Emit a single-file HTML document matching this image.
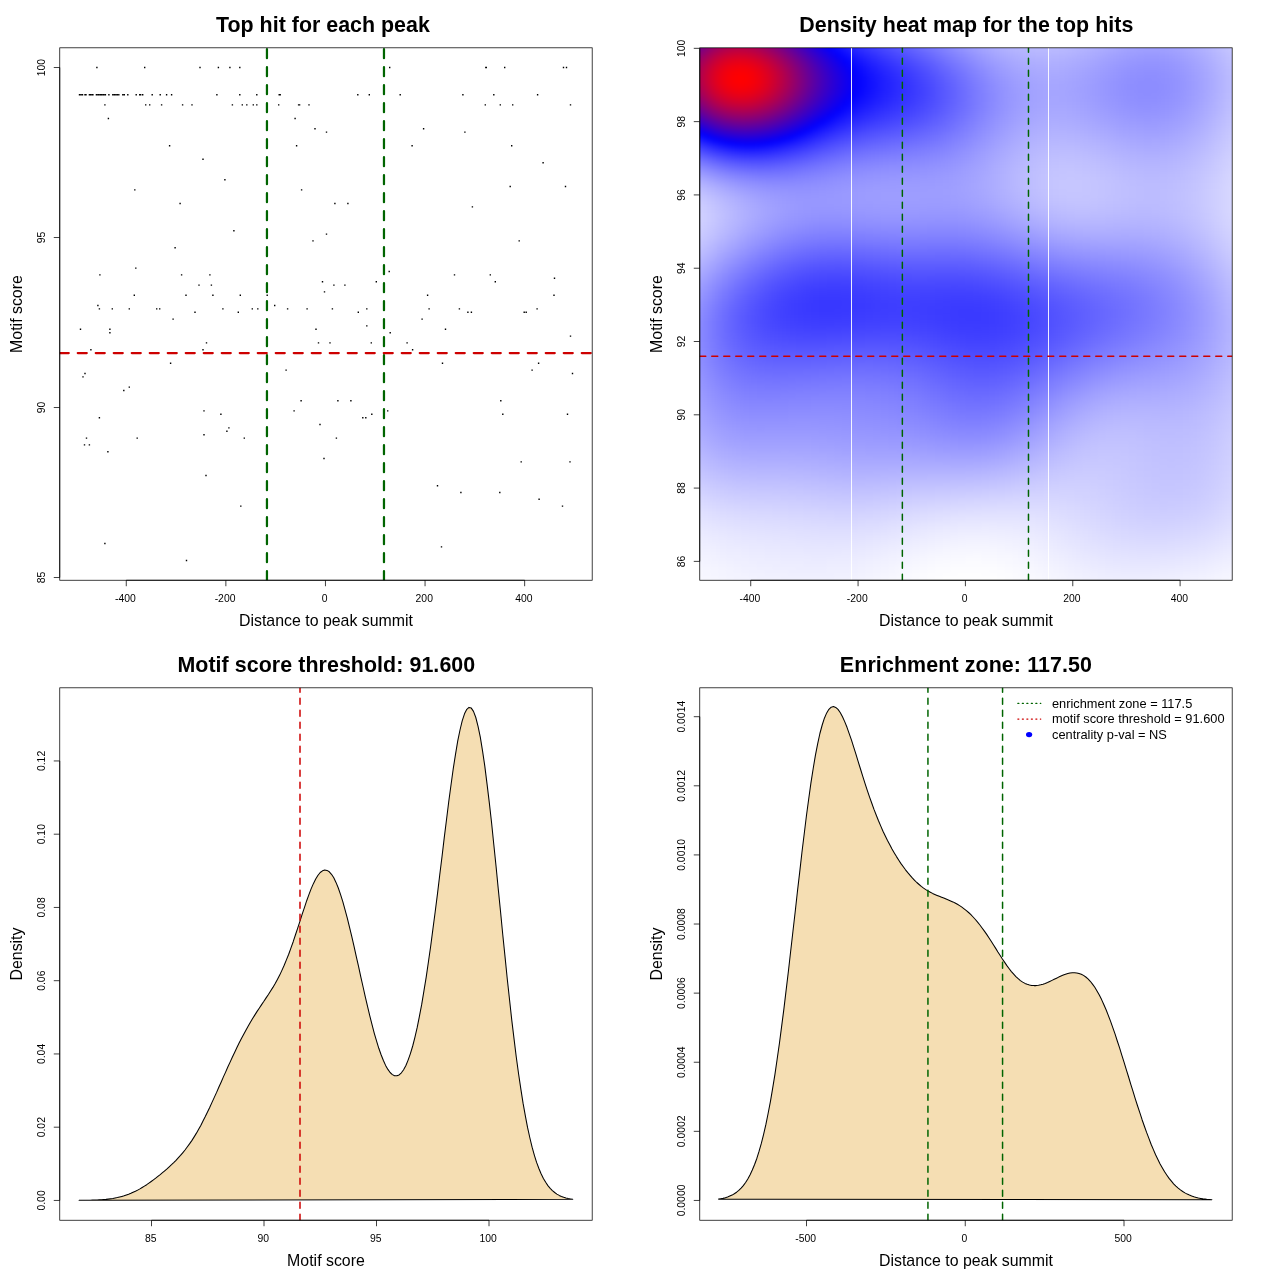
<!DOCTYPE html>
<html><head><meta charset="utf-8"><title>Motif plots</title>
<style>html,body{margin:0;padding:0;background:#fff}body{position:relative;width:1280px;height:1280px;overflow:hidden}svg{position:absolute;left:0;top:0}text{font-family:"Liberation Sans",sans-serif;fill:#000}#hm{position:absolute;overflow:hidden}#hb{position:absolute;filter:blur(2px)}#hb i{display:block;height:3px}</style>
</head><body>
<div id="hm" style="left:699.76px;top:47.81px;width:532.43px;height:532.43px"><div id="hb" style="left:-9px;top:-9px;width:550.43px"><i style="background:linear-gradient(90deg,#70008f,#70008f,#83007c,#970068,#a5005a,#af0050,#b3004c,#b2004d,#ac0053,#a2005d,#94006b,#84007b,#71008e,#5d00a2,#4900b6,#3500ca,#20d,#1000ef,#00f,#0e0eff,#1b1bff,#2727ff,#3131ff,#3a3aff,#4343ff,#4b4bff,#5252ff,#5959ff,#6161ff,#6868ff,#6f6fff,#77f,#7e7eff,#8686ff,#8d8dff,#9494ff,#9b9bff,#a1a1ff,#a6a6ff,#ababff,#b0b0ff,#b3b3ff,#b6b6ff,#b9b9ff,#babaff,#bbf,#bbf,#babaff,#b9b9ff,#b8b8ff,#b5b5ff,#b3b3ff,#b0b0ff,#adadff,#aaf,#a7a7ff,#a4a4ff,#a2a2ff,#a1a1ff,#a0a0ff,#a0a0ff,#a1a1ff,#a2a2ff,#a5a5ff,#a8a8ff,#acacff,#b1b1ff,#b6b6ff,#bcbcff,#c1c1ff,#c6c6ff,#c6c6ff)"></i>
<i style="background:linear-gradient(90deg,#70008f,#70008f,#83007c,#970068,#a5005a,#af0050,#b3004c,#b2004d,#ac0053,#a2005d,#94006b,#84007b,#71008e,#5d00a2,#4900b6,#3500ca,#20d,#1000ef,#00f,#0e0eff,#1b1bff,#2727ff,#3131ff,#3a3aff,#4343ff,#4b4bff,#5252ff,#5959ff,#6161ff,#6868ff,#6f6fff,#77f,#7e7eff,#8686ff,#8d8dff,#9494ff,#9b9bff,#a1a1ff,#a6a6ff,#ababff,#b0b0ff,#b3b3ff,#b6b6ff,#b9b9ff,#babaff,#bbf,#bbf,#babaff,#b9b9ff,#b8b8ff,#b5b5ff,#b3b3ff,#b0b0ff,#adadff,#aaf,#a7a7ff,#a4a4ff,#a2a2ff,#a1a1ff,#a0a0ff,#a0a0ff,#a1a1ff,#a2a2ff,#a5a5ff,#a8a8ff,#acacff,#b1b1ff,#b6b6ff,#bcbcff,#c1c1ff,#c6c6ff,#c6c6ff)"></i>
<i style="background:linear-gradient(90deg,#70008f,#70008f,#83007c,#970068,#a5005a,#af0050,#b3004c,#b2004d,#ac0053,#a2005d,#94006b,#84007b,#71008e,#5d00a2,#4900b6,#3500ca,#20d,#1000ef,#00f,#0e0eff,#1b1bff,#2727ff,#3131ff,#3a3aff,#4343ff,#4b4bff,#5252ff,#5959ff,#6161ff,#6868ff,#6f6fff,#77f,#7e7eff,#8686ff,#8d8dff,#9494ff,#9b9bff,#a1a1ff,#a6a6ff,#ababff,#b0b0ff,#b3b3ff,#b6b6ff,#b9b9ff,#babaff,#bbf,#bbf,#babaff,#b9b9ff,#b8b8ff,#b5b5ff,#b3b3ff,#b0b0ff,#adadff,#aaf,#a7a7ff,#a4a4ff,#a2a2ff,#a1a1ff,#a0a0ff,#a0a0ff,#a1a1ff,#a2a2ff,#a5a5ff,#a8a8ff,#acacff,#b1b1ff,#b6b6ff,#bcbcff,#c1c1ff,#c6c6ff,#c6c6ff)"></i>
<i style="background:linear-gradient(90deg,#760089,#760089,#890076,#9d0062,#ac0053,#b60049,#ba0045,#b90046,#b3004c,#a90056,#9a0065,#8a0075,#708,#63009c,#4e00b1,#3a00c5,#2700d8,#1500ea,#0400fb,#0b0bff,#1818ff,#2424ff,#2e2eff,#3737ff,#4040ff,#4848ff,#4f4fff,#5656ff,#5e5eff,#6565ff,#6d6dff,#7474ff,#7c7cff,#8383ff,#8b8bff,#9292ff,#99f,#9f9fff,#a4a4ff,#aaf,#aeaeff,#b2b2ff,#b5b5ff,#b7b7ff,#b9b9ff,#babaff,#babaff,#b9b9ff,#b8b8ff,#b6b6ff,#b4b4ff,#b2b2ff,#afafff,#acacff,#a9a9ff,#a6a6ff,#a3a3ff,#a1a1ff,#9f9fff,#9f9fff,#9f9fff,#9f9fff,#a1a1ff,#a4a4ff,#a7a7ff,#ababff,#b0b0ff,#b5b5ff,#bbf,#c1c1ff,#c6c6ff,#c6c6ff)"></i>
<i style="background:linear-gradient(90deg,#80007f,#80007f,#95006a,#a90056,#b80047,#c2003d,#c70038,#c5003a,#bf0040,#b5004a,#a60059,#95006a,#82007d,#6d0092,#5800a7,#4300bc,#2f00d0,#1d00e2,#0c00f3,#0404ff,#11f,#1d1dff,#2828ff,#3131ff,#3a3aff,#4242ff,#4949ff,#5151ff,#5858ff,#6060ff,#6767ff,#6f6fff,#77f,#7f7fff,#8686ff,#8d8dff,#9494ff,#9b9bff,#a1a1ff,#a6a6ff,#ababff,#afafff,#b2b2ff,#b4b4ff,#b6b6ff,#b7b7ff,#b7b7ff,#b7b7ff,#b6b6ff,#b4b4ff,#b2b2ff,#afafff,#acacff,#a9a9ff,#a6a6ff,#a3a3ff,#a0a0ff,#9e9eff,#9d9dff,#9c9cff,#9c9cff,#9d9dff,#9f9fff,#a1a1ff,#a5a5ff,#a9a9ff,#aeaeff,#b3b3ff,#b9b9ff,#bfbfff,#c4c4ff,#c4c4ff)"></i>
<i style="background:linear-gradient(90deg,#8a0075,#8a0075,#9f0060,#b4004b,#c3003c,#ce0031,#d2002d,#d1002e,#cb0034,#c0003f,#b1004e,#9f0060,#8b0074,#760089,#61009e,#4b00b4,#3700c8,#2400db,#1300ec,#0300fc,#0b0bff,#1717ff,#22f,#2b2bff,#3434ff,#3c3cff,#44f,#4b4bff,#5353ff,#5b5bff,#6262ff,#6a6aff,#7272ff,#7a7aff,#8282ff,#8989ff,#9090ff,#9797ff,#9d9dff,#a3a3ff,#a8a8ff,#acacff,#afafff,#b2b2ff,#b4b4ff,#b5b5ff,#b5b5ff,#b4b4ff,#b3b3ff,#b2b2ff,#afafff,#adadff,#aaf,#a7a7ff,#a3a3ff,#a0a0ff,#9e9eff,#9c9cff,#9a9aff,#99f,#99f,#9a9aff,#9c9cff,#9f9fff,#a3a3ff,#a7a7ff,#acacff,#b1b1ff,#b7b7ff,#bdbdff,#c3c3ff,#c3c3ff)"></i>
<i style="background:linear-gradient(90deg,#93006c,#93006c,#a80057,#be0041,#ce0031,#d80027,#d02,#dc0023,#d5002a,#ca0035,#b04,#a90056,#94006b,#7f0080,#690096,#5300ac,#3e00c1,#2b00d4,#1900e6,#0900f6,#0505ff,#11f,#1c1cff,#2626ff,#2f2fff,#3737ff,#3f3fff,#4646ff,#4e4eff,#5656ff,#5e5eff,#66f,#6e6eff,#7676ff,#7e7eff,#8585ff,#8d8dff,#9494ff,#9a9aff,#a0a0ff,#a5a5ff,#a9a9ff,#adadff,#afafff,#b1b1ff,#b2b2ff,#b3b3ff,#b2b2ff,#b1b1ff,#afafff,#adadff,#ababff,#a8a8ff,#a4a4ff,#a1a1ff,#9e9eff,#9c9cff,#99f,#9898ff,#9797ff,#9797ff,#9898ff,#9a9aff,#9d9dff,#a1a1ff,#a5a5ff,#aaf,#b0b0ff,#b6b6ff,#bcbcff,#c2c2ff,#c2c2ff)"></i>
<i style="background:linear-gradient(90deg,#9b0064,#9b0064,#b0004f,#c60039,#d60029,#e1001e,#e60019,#e5001a,#de0021,#d3002c,#c4003b,#b1004e,#9c0063,#860079,#70008f,#5a00a5,#4500ba,#3100ce,#1f00e0,#0f00f0,#00f,#0c0cff,#1717ff,#2121ff,#2a2aff,#3232ff,#3a3aff,#4242ff,#4949ff,#5151ff,#5959ff,#6161ff,#6969ff,#7272ff,#7a7aff,#8282ff,#8989ff,#9090ff,#9797ff,#9d9dff,#a2a2ff,#a6a6ff,#aaf,#adadff,#afafff,#b0b0ff,#b1b1ff,#b0b0ff,#afafff,#adadff,#ababff,#a8a8ff,#a5a5ff,#a2a2ff,#9f9fff,#9c9cff,#99f,#9797ff,#9696ff,#9595ff,#9595ff,#9696ff,#9898ff,#9b9bff,#9f9fff,#a3a3ff,#a9a9ff,#aeaeff,#b5b5ff,#bbf,#c1c1ff,#c1c1ff)"></i>
<i style="background:linear-gradient(90deg,#a1005e,#a1005e,#b70048,#cd0032,#de0021,#e90016,#e01,#ed0012,#e60019,#db0024,#cb0034,#b80047,#a3005c,#8d0072,#760089,#60009f,#4a00b5,#3600c9,#2400db,#1300ec,#0500fa,#0808ff,#1313ff,#1d1dff,#2626ff,#2e2eff,#3636ff,#3e3eff,#4545ff,#4d4dff,#55f,#5d5dff,#6565ff,#6e6eff,#7676ff,#7e7eff,#8686ff,#8d8dff,#9494ff,#9a9aff,#9f9fff,#a4a4ff,#a8a8ff,#ababff,#adadff,#aeaeff,#afafff,#aeaeff,#adadff,#acacff,#a9a9ff,#a7a7ff,#a4a4ff,#a0a0ff,#9d9dff,#9a9aff,#9898ff,#9595ff,#9494ff,#9393ff,#9393ff,#9494ff,#9696ff,#99f,#9d9dff,#a2a2ff,#a7a7ff,#adadff,#b3b3ff,#babaff,#c0c0ff,#c0c0ff)"></i>
<i style="background:linear-gradient(90deg,#a60059,#a60059,#bd0042,#d3002c,#e4001b,#ef0010,#f4000b,#f3000c,#ed0012,#e1001e,#d1002e,#be0041,#a90056,#92006d,#7b0084,#65009a,#4f00b0,#3a00c5,#2800d7,#1700e8,#0900f6,#0404ff,#0f0fff,#1919ff,#22f,#2a2aff,#3232ff,#3a3aff,#4242ff,#4949ff,#5151ff,#5959ff,#6262ff,#6a6aff,#7373ff,#7b7bff,#8383ff,#8a8aff,#9191ff,#9797ff,#9d9dff,#a2a2ff,#a6a6ff,#a9a9ff,#ababff,#acacff,#adadff,#adadff,#acacff,#aaf,#a8a8ff,#a5a5ff,#a2a2ff,#9f9fff,#9c9cff,#9898ff,#9696ff,#9494ff,#9292ff,#9292ff,#9292ff,#9393ff,#9595ff,#9898ff,#9c9cff,#a1a1ff,#a6a6ff,#acacff,#b2b2ff,#b9b9ff,#bfbfff,#bfbfff)"></i>
<i style="background:linear-gradient(90deg,#a05,#a05,#c1003e,#d80027,#e90016,#f4000b,#f90006,#f80007,#f2000d,#e60019,#d60029,#c3003c,#ae0051,#970068,#7f0080,#680097,#5300ac,#3e00c1,#2b00d4,#1b00e4,#0c00f3,#0101ff,#0c0cff,#1616ff,#1f1fff,#2727ff,#2f2fff,#3737ff,#3e3eff,#4646ff,#4e4eff,#5656ff,#5f5fff,#6767ff,#6f6fff,#7878ff,#8080ff,#8787ff,#8e8eff,#9595ff,#9b9bff,#9f9fff,#a4a4ff,#a7a7ff,#a9a9ff,#ababff,#ababff,#ababff,#aaf,#a8a8ff,#a6a6ff,#a3a3ff,#a0a0ff,#9d9dff,#9a9aff,#9797ff,#9494ff,#9292ff,#9191ff,#9090ff,#9090ff,#9292ff,#9494ff,#9797ff,#9b9bff,#a0a0ff,#a5a5ff,#ababff,#b2b2ff,#b8b8ff,#bebeff,#bebeff)"></i>
<i style="background:linear-gradient(90deg,#ad0052,#ad0052,#c4003b,#db0024,#ec0013,#f70008,#fc0003,#fc0003,#f5000a,#e90016,#da0025,#c60039,#b1004e,#9a0065,#82007d,#6b0094,#50a,#4100be,#2e00d1,#1d00e2,#0f00f0,#0200fd,#0a0aff,#1414ff,#1c1cff,#2525ff,#2c2cff,#3434ff,#3b3bff,#4343ff,#4b4bff,#5353ff,#5c5cff,#6464ff,#6d6dff,#7575ff,#7d7dff,#8585ff,#8c8cff,#9393ff,#99f,#9e9eff,#a2a2ff,#a5a5ff,#a8a8ff,#a9a9ff,#aaf,#aaf,#a9a9ff,#a7a7ff,#a5a5ff,#a2a2ff,#9f9fff,#9c9cff,#99f,#9696ff,#9393ff,#9191ff,#9090ff,#8f8fff,#8f8fff,#9090ff,#9393ff,#9696ff,#9a9aff,#9f9fff,#a4a4ff,#aaf,#b1b1ff,#b8b8ff,#bebeff,#bebeff)"></i>
<i style="background:linear-gradient(90deg,#ae0051,#ae0051,#c5003a,#dc0023,#e01,#f90006,#fe0001,#fe0001,#f70008,#eb0014,#dc0023,#c80037,#b3004c,#9c0063,#84007b,#6d0092,#5700a8,#4300bc,#3000cf,#1f00e0,#1000ef,#0400fb,#0808ff,#1212ff,#1a1aff,#22f,#2a2aff,#3232ff,#3939ff,#4141ff,#4949ff,#5151ff,#5959ff,#6262ff,#6a6aff,#7373ff,#7b7bff,#8383ff,#8a8aff,#9191ff,#9797ff,#9c9cff,#a0a0ff,#a4a4ff,#a6a6ff,#a8a8ff,#a9a9ff,#a8a8ff,#a8a8ff,#a6a6ff,#a4a4ff,#a1a1ff,#9e9eff,#9b9bff,#9898ff,#9595ff,#9292ff,#9090ff,#8f8fff,#8e8eff,#8e8eff,#9090ff,#9292ff,#9595ff,#99f,#9e9eff,#a4a4ff,#aaf,#b0b0ff,#b7b7ff,#bdbdff,#bdbdff)"></i>
<i style="background:linear-gradient(90deg,#af0050,#af0050,#c60039,#dc0023,#e01,#f90006,#f00,#fe0001,#f70008,#ec0013,#dc0023,#c90036,#b4004b,#9d0062,#85007a,#6e0091,#5800a7,#40b,#3100ce,#2000df,#10e,#0500fa,#0606ff,#1010ff,#1919ff,#2121ff,#2828ff,#3030ff,#3737ff,#3f3fff,#4747ff,#4f4fff,#5757ff,#6060ff,#6868ff,#7171ff,#7979ff,#8181ff,#88f,#8f8fff,#9595ff,#9a9aff,#9f9fff,#a2a2ff,#a5a5ff,#a7a7ff,#a8a8ff,#a7a7ff,#a7a7ff,#a5a5ff,#a3a3ff,#a0a0ff,#9d9dff,#9a9aff,#9797ff,#9494ff,#9191ff,#8f8fff,#8e8eff,#8d8dff,#8e8eff,#8f8fff,#9191ff,#9494ff,#99f,#9e9eff,#a3a3ff,#a9a9ff,#b0b0ff,#b7b7ff,#bdbdff,#bdbdff)"></i>
<i style="background:linear-gradient(90deg,#ad0052,#ad0052,#c4003b,#db0024,#ed0012,#f80007,#fd0002,#fd0002,#f60009,#eb0014,#db0024,#c80037,#b3004c,#9c0063,#85007a,#6e0091,#5800a7,#40b,#3100ce,#2000df,#1200ed,#0500fa,#0606ff,#1010ff,#1818ff,#2020ff,#2727ff,#2f2fff,#3636ff,#3d3dff,#4545ff,#4d4dff,#55f,#5e5eff,#66f,#6f6fff,#77f,#7f7fff,#8787ff,#8e8eff,#9494ff,#99f,#9e9eff,#a1a1ff,#a4a4ff,#a6a6ff,#a7a7ff,#a7a7ff,#a6a6ff,#a4a4ff,#a2a2ff,#a0a0ff,#9d9dff,#99f,#9696ff,#9393ff,#9191ff,#8f8fff,#8d8dff,#8d8dff,#8d8dff,#8f8fff,#9191ff,#9494ff,#9898ff,#9d9dff,#a3a3ff,#a9a9ff,#b0b0ff,#b7b7ff,#bdbdff,#bdbdff)"></i>
<i style="background:linear-gradient(90deg,#ab0054,#ab0054,#c1003e,#d80027,#ea0015,#f5000a,#fb0004,#fa0005,#f4000b,#e90016,#d90026,#c60039,#b1004e,#9b0064,#84007b,#6d0092,#5700a8,#4300bc,#3000cf,#2000df,#10e,#0500fa,#0606ff,#0f0fff,#1818ff,#2020ff,#2727ff,#2e2eff,#3535ff,#3c3cff,#44f,#4c4cff,#5454ff,#5c5cff,#6565ff,#6e6eff,#7676ff,#7e7eff,#8585ff,#8c8cff,#9393ff,#9898ff,#9d9dff,#a0a0ff,#a3a3ff,#a5a5ff,#a6a6ff,#a6a6ff,#a5a5ff,#a4a4ff,#a2a2ff,#9f9fff,#9c9cff,#99f,#9696ff,#9393ff,#9090ff,#8e8eff,#8d8dff,#8d8dff,#8d8dff,#8e8eff,#9191ff,#9494ff,#9898ff,#9d9dff,#a3a3ff,#a9a9ff,#b0b0ff,#b7b7ff,#bdbdff,#bdbdff)"></i>
<i style="background:linear-gradient(90deg,#a70058,#a70058,#bd0042,#d4002b,#e5001a,#f1000e,#f60009,#f60009,#f0000f,#e5001a,#d60029,#c3003c,#ae0051,#980067,#81007e,#6b0094,#50a,#4100be,#2f00d0,#1f00e0,#1000ef,#0400fb,#0707ff,#1010ff,#1818ff,#2020ff,#2727ff,#2e2eff,#3535ff,#3c3cff,#4343ff,#4b4bff,#5353ff,#5c5cff,#6464ff,#6d6dff,#7575ff,#7d7dff,#8585ff,#8c8cff,#9292ff,#9797ff,#9c9cff,#a0a0ff,#a3a3ff,#a5a5ff,#a6a6ff,#a6a6ff,#a5a5ff,#a4a4ff,#a1a1ff,#9f9fff,#9c9cff,#99f,#9696ff,#9393ff,#9090ff,#8e8eff,#8d8dff,#8d8dff,#8d8dff,#8e8eff,#9191ff,#9494ff,#9898ff,#9d9dff,#a3a3ff,#a9a9ff,#b0b0ff,#b7b7ff,#bdbdff,#bdbdff)"></i>
<i style="background:linear-gradient(90deg,#a2005d,#a2005d,#b80047,#cf0030,#e0001f,#eb0014,#f1000e,#f0000f,#ea0015,#e0001f,#d1002e,#be0041,#a05,#94006b,#7e0081,#670098,#5200ad,#3f00c0,#2d00d2,#1d00e2,#0f00f0,#0200fd,#0808ff,#11f,#1919ff,#2121ff,#2727ff,#2e2eff,#3535ff,#3c3cff,#4343ff,#4b4bff,#5353ff,#5b5bff,#6363ff,#6c6cff,#7474ff,#7c7cff,#8484ff,#8b8bff,#9191ff,#9797ff,#9c9cff,#9f9fff,#a2a2ff,#a4a4ff,#a5a5ff,#a5a5ff,#a5a5ff,#a3a3ff,#a1a1ff,#9f9fff,#9c9cff,#99f,#9696ff,#9393ff,#9191ff,#8f8fff,#8d8dff,#8d8dff,#8d8dff,#8f8fff,#9191ff,#9494ff,#99f,#9e9eff,#a3a3ff,#aaf,#b0b0ff,#b7b7ff,#bdbdff,#bdbdff)"></i>
<i style="background:linear-gradient(90deg,#9b0064,#9b0064,#b1004e,#c80037,#d90026,#e4001b,#ea0015,#e90016,#e4001b,#d90026,#cb0034,#b90046,#a5005a,#8f0070,#790086,#63009c,#4f00b0,#3b00c4,#2a00d5,#1a00e5,#0c00f3,#00f,#0a0aff,#1313ff,#1b1bff,#22f,#2828ff,#2f2fff,#3636ff,#3c3cff,#4343ff,#4b4bff,#5353ff,#5b5bff,#6363ff,#6c6cff,#7474ff,#7c7cff,#8383ff,#8a8aff,#9191ff,#9797ff,#9b9bff,#9f9fff,#a2a2ff,#a4a4ff,#a5a5ff,#a5a5ff,#a5a5ff,#a3a3ff,#a2a2ff,#9f9fff,#9c9cff,#99f,#9696ff,#9393ff,#9191ff,#8f8fff,#8e8eff,#8d8dff,#8e8eff,#8f8fff,#9292ff,#9595ff,#99f,#9e9eff,#a4a4ff,#aaf,#b1b1ff,#b8b8ff,#bebeff,#bebeff)"></i>
<i style="background:linear-gradient(90deg,#94006b,#94006b,#a90056,#bf0040,#d0002f,#db0024,#e1001e,#e1001e,#dc0023,#d1002e,#c3003c,#b2004d,#9e0061,#890076,#74008b,#5e00a1,#4a00b5,#3700c8,#2600d9,#1700e8,#0900f6,#0202ff,#0c0cff,#1515ff,#1d1dff,#2424ff,#2a2aff,#3030ff,#3737ff,#3d3dff,#44f,#4b4bff,#5353ff,#5b5bff,#6363ff,#6c6cff,#7474ff,#7c7cff,#8383ff,#8a8aff,#9191ff,#9696ff,#9b9bff,#9f9fff,#a2a2ff,#a4a4ff,#a5a5ff,#a6a6ff,#a5a5ff,#a4a4ff,#a2a2ff,#9f9fff,#9d9dff,#9a9aff,#9797ff,#9494ff,#9292ff,#9090ff,#8e8eff,#8e8eff,#8e8eff,#9090ff,#9292ff,#9595ff,#9a9aff,#9f9fff,#a4a4ff,#ababff,#b1b1ff,#b8b8ff,#bebeff,#bebeff)"></i>
<i style="background:linear-gradient(90deg,#8b0074,#8b0074,#a0005f,#b60049,#c70038,#d2002d,#d70028,#d70028,#d2002d,#c80037,#b04,#a05,#970068,#82007d,#6d0092,#5800a7,#4500ba,#3200cd,#2100de,#1200ed,#0500fa,#0606ff,#1010ff,#1818ff,#1f1fff,#2626ff,#2c2cff,#3232ff,#3838ff,#3f3fff,#4545ff,#4c4cff,#5454ff,#5c5cff,#6464ff,#6c6cff,#7474ff,#7c7cff,#8383ff,#8a8aff,#9191ff,#9797ff,#9b9bff,#9f9fff,#a2a2ff,#a4a4ff,#a6a6ff,#a6a6ff,#a5a5ff,#a4a4ff,#a2a2ff,#a0a0ff,#9d9dff,#9a9aff,#9797ff,#9595ff,#9292ff,#9090ff,#8f8fff,#8f8fff,#8f8fff,#9191ff,#9393ff,#9696ff,#9a9aff,#9f9fff,#a5a5ff,#ababff,#b2b2ff,#b9b9ff,#bfbfff,#bfbfff)"></i>
<i style="background:linear-gradient(90deg,#81007e,#81007e,#960069,#ac0053,#bc0043,#c70038,#c03,#cd0032,#c80037,#be0041,#b1004e,#a1005e,#8e0071,#7a0085,#609,#5200ad,#3f00c0,#2d00d2,#1c00e3,#0e00f1,#0100fe,#0a0aff,#1313ff,#1b1bff,#22f,#2929ff,#2f2fff,#3434ff,#3a3aff,#4040ff,#4747ff,#4e4eff,#55f,#5d5dff,#6464ff,#6d6dff,#7474ff,#7c7cff,#8484ff,#8b8bff,#9191ff,#9797ff,#9c9cff,#a0a0ff,#a3a3ff,#a5a5ff,#a6a6ff,#a6a6ff,#a6a6ff,#a5a5ff,#a3a3ff,#a1a1ff,#9e9eff,#9b9bff,#9898ff,#9696ff,#9393ff,#9191ff,#9090ff,#9090ff,#9090ff,#9292ff,#9494ff,#9797ff,#9b9bff,#a0a0ff,#a6a6ff,#acacff,#b3b3ff,#babaff,#bfbfff,#bfbfff)"></i>
<i style="background:linear-gradient(90deg,#708,#708,#8b0074,#a0005f,#b0004f,#b04,#c0003f,#c1003e,#bc0043,#b3004c,#a60059,#970068,#85007a,#72008d,#5e00a1,#4a00b5,#3800c7,#2600d9,#1700e8,#0900f6,#0404ff,#0e0eff,#1717ff,#1f1fff,#2626ff,#2c2cff,#3232ff,#3737ff,#3d3dff,#4343ff,#4949ff,#4f4fff,#5656ff,#5e5eff,#66f,#6d6dff,#7575ff,#7d7dff,#8484ff,#8b8bff,#9292ff,#9797ff,#9c9cff,#a0a0ff,#a3a3ff,#a5a5ff,#a7a7ff,#a7a7ff,#a7a7ff,#a6a6ff,#a4a4ff,#a2a2ff,#9f9fff,#9c9cff,#99f,#9797ff,#9494ff,#9393ff,#9191ff,#9191ff,#9292ff,#9393ff,#9595ff,#9898ff,#9c9cff,#a1a1ff,#a7a7ff,#adadff,#b3b3ff,#babaff,#c0c0ff,#c0c0ff)"></i>
<i style="background:linear-gradient(90deg,#6c0093,#6c0093,#80007f,#94006b,#a3005c,#ae0051,#b3004c,#b4004b,#b0004f,#a70058,#9b0064,#8c0073,#7b0084,#680097,#50a,#4200bd,#3000cf,#2000df,#10e,#0300fc,#0909ff,#1313ff,#1c1cff,#2323ff,#2a2aff,#3030ff,#3535ff,#3a3aff,#4040ff,#4545ff,#4b4bff,#5252ff,#5858ff,#6060ff,#6767ff,#6f6fff,#7676ff,#7e7eff,#8585ff,#8c8cff,#9292ff,#9898ff,#9d9dff,#a1a1ff,#a4a4ff,#a6a6ff,#a8a8ff,#a8a8ff,#a8a8ff,#a7a7ff,#a5a5ff,#a3a3ff,#a0a0ff,#9d9dff,#9b9bff,#9898ff,#9696ff,#9494ff,#9393ff,#9292ff,#9393ff,#9494ff,#9696ff,#9a9aff,#9e9eff,#a2a2ff,#a8a8ff,#aeaeff,#b4b4ff,#bbf,#c1c1ff,#c1c1ff)"></i>
<i style="background:linear-gradient(90deg,#60009f,#60009f,#73008c,#870078,#960069,#a0005f,#a60059,#a60059,#a2005d,#9a0065,#8f0070,#80007f,#70008f,#5e00a1,#4c00b3,#3a00c5,#2900d6,#1800e7,#0a00f5,#0303ff,#0e0eff,#1818ff,#2121ff,#2828ff,#2e2eff,#3434ff,#3939ff,#3e3eff,#4343ff,#4848ff,#4e4eff,#5454ff,#5a5aff,#6161ff,#6969ff,#7070ff,#7878ff,#7f7fff,#8686ff,#8d8dff,#9393ff,#99f,#9e9eff,#a2a2ff,#a5a5ff,#a7a7ff,#a8a8ff,#a9a9ff,#a9a9ff,#a8a8ff,#a6a6ff,#a4a4ff,#a1a1ff,#9f9fff,#9c9cff,#99f,#9797ff,#9696ff,#9494ff,#9494ff,#9494ff,#9696ff,#9898ff,#9b9bff,#9f9fff,#a4a4ff,#a9a9ff,#afafff,#b5b5ff,#bcbcff,#c2c2ff,#c2c2ff)"></i>
<i style="background:linear-gradient(90deg,#5300ac,#5300ac,#609,#790086,#870078,#92006d,#970068,#980067,#94006b,#8d0072,#82007d,#74008b,#64009b,#5300ac,#4200bd,#3100ce,#2000df,#10e,#0300fc,#0a0aff,#1515ff,#1e1eff,#2626ff,#2d2dff,#33f,#3838ff,#3d3dff,#4141ff,#4646ff,#4b4bff,#5151ff,#5757ff,#5d5dff,#6464ff,#6b6bff,#7272ff,#7979ff,#8181ff,#88f,#8e8eff,#9494ff,#9a9aff,#9f9fff,#a3a3ff,#a6a6ff,#a8a8ff,#aaf,#aaf,#aaf,#a9a9ff,#a7a7ff,#a5a5ff,#a3a3ff,#a0a0ff,#9e9eff,#9b9bff,#99f,#9797ff,#9696ff,#9696ff,#9696ff,#9797ff,#99f,#9d9dff,#a0a0ff,#a5a5ff,#aaf,#b0b0ff,#b6b6ff,#bdbdff,#c3c3ff,#c3c3ff)"></i>
<i style="background:linear-gradient(90deg,#4600b9,#4600b9,#5800a7,#6a0095,#790086,#83007c,#807,#890076,#860079,#7f0080,#74008b,#670098,#5800a7,#4800b7,#3800c7,#2700d8,#1700e8,#0900f6,#0505ff,#11f,#1b1bff,#2424ff,#2b2bff,#3232ff,#3737ff,#3c3cff,#4141ff,#4545ff,#4a4aff,#4f4fff,#5454ff,#5a5aff,#6060ff,#66f,#6d6dff,#7474ff,#7b7bff,#8282ff,#8989ff,#9090ff,#9696ff,#9b9bff,#a0a0ff,#a4a4ff,#a7a7ff,#a9a9ff,#ababff,#ababff,#ababff,#aaf,#a9a9ff,#a7a7ff,#a4a4ff,#a2a2ff,#9f9fff,#9d9dff,#9b9bff,#99f,#9898ff,#9797ff,#9898ff,#99f,#9b9bff,#9e9eff,#a2a2ff,#a6a6ff,#acacff,#b1b1ff,#b8b8ff,#bebeff,#c4c4ff,#c4c4ff)"></i>
<i style="background:linear-gradient(90deg,#3800c7,#3800c7,#4a00b5,#5b00a4,#690096,#73008c,#790086,#7a0085,#708,#70008f,#609,#5a00a5,#4c00b3,#3d00c2,#2d00d2,#1d00e2,#0e00f1,#00f,#0c0cff,#1818ff,#2121ff,#2a2aff,#3131ff,#3737ff,#3d3dff,#4141ff,#4646ff,#4a4aff,#4e4eff,#5353ff,#5757ff,#5d5dff,#6262ff,#6969ff,#6f6fff,#7676ff,#7d7dff,#8484ff,#8b8bff,#9191ff,#9797ff,#9c9cff,#a1a1ff,#a5a5ff,#a8a8ff,#ababff,#acacff,#adadff,#acacff,#acacff,#aaf,#a8a8ff,#a6a6ff,#a3a3ff,#a1a1ff,#9f9fff,#9c9cff,#9b9bff,#9a9aff,#99f,#9a9aff,#9b9bff,#9d9dff,#a0a0ff,#a3a3ff,#a8a8ff,#adadff,#b3b3ff,#b9b9ff,#bfbfff,#c5c5ff,#c5c5ff)"></i>
<i style="background:linear-gradient(90deg,#2a00d5,#2a00d5,#3b00c4,#4c00b3,#5a00a5,#63009c,#690096,#6a0095,#670098,#61009e,#5800a7,#4d00b2,#3f00c0,#3100ce,#20d,#1300ec,#0500fa,#0808ff,#1414ff,#1f1fff,#2828ff,#3030ff,#3737ff,#3d3dff,#4242ff,#4646ff,#4a4aff,#4e4eff,#5252ff,#5656ff,#5b5bff,#6060ff,#6565ff,#6b6bff,#7272ff,#7878ff,#7f7fff,#8686ff,#8c8cff,#9393ff,#99f,#9e9eff,#a3a3ff,#a7a7ff,#aaf,#acacff,#adadff,#aeaeff,#aeaeff,#adadff,#acacff,#aaf,#a8a8ff,#a5a5ff,#a3a3ff,#a0a0ff,#9e9eff,#9d9dff,#9c9cff,#9b9bff,#9b9bff,#9d9dff,#9f9fff,#a1a1ff,#a5a5ff,#a9a9ff,#aeaeff,#b4b4ff,#babaff,#c0c0ff,#c6c6ff,#c6c6ff)"></i>
<i style="background:linear-gradient(90deg,#1c00e3,#1c00e3,#2c00d3,#3d00c2,#4a00b5,#5300ac,#5800a7,#5a00a5,#5800a7,#5200ad,#4a00b5,#3f00c0,#3200cd,#2500da,#1700e8,#0900f6,#0404ff,#11f,#1c1cff,#2626ff,#2f2fff,#3737ff,#3d3dff,#4343ff,#4747ff,#4b4bff,#4f4fff,#5353ff,#5757ff,#5b5bff,#5f5fff,#6464ff,#6969ff,#6e6eff,#7474ff,#7b7bff,#8181ff,#88f,#8e8eff,#9494ff,#9a9aff,#9f9fff,#a4a4ff,#a8a8ff,#ababff,#adadff,#afafff,#b0b0ff,#afafff,#afafff,#adadff,#acacff,#a9a9ff,#a7a7ff,#a5a5ff,#a2a2ff,#a0a0ff,#9f9fff,#9e9eff,#9d9dff,#9d9dff,#9f9fff,#a0a0ff,#a3a3ff,#a7a7ff,#ababff,#b0b0ff,#b5b5ff,#bbf,#c1c1ff,#c7c7ff,#c7c7ff)"></i>
<i style="background:linear-gradient(90deg,#0e00f1,#0e00f1,#1d00e2,#2d00d2,#3a00c5,#4300bc,#4800b7,#4a00b5,#4800b7,#4300bc,#3b00c4,#3100ce,#2500da,#1900e6,#0c00f3,#0101ff,#0e0eff,#1a1aff,#2424ff,#2e2eff,#3636ff,#3d3dff,#4343ff,#4949ff,#4d4dff,#5151ff,#5454ff,#5858ff,#5b5bff,#5f5fff,#6363ff,#6767ff,#6c6cff,#7171ff,#77f,#7d7dff,#8383ff,#8a8aff,#9090ff,#9696ff,#9c9cff,#a1a1ff,#a6a6ff,#a9a9ff,#adadff,#afafff,#b0b0ff,#b1b1ff,#b1b1ff,#b0b0ff,#afafff,#adadff,#ababff,#a9a9ff,#a7a7ff,#a4a4ff,#a2a2ff,#a1a1ff,#a0a0ff,#9f9fff,#9f9fff,#a0a0ff,#a2a2ff,#a5a5ff,#a8a8ff,#adadff,#b1b1ff,#b7b7ff,#bdbdff,#c3c3ff,#c8c8ff,#c8c8ff)"></i>
<i style="background:linear-gradient(90deg,#00f,#00f,#0e00f1,#1e00e1,#2a00d5,#3200cd,#3800c7,#3900c6,#3800c7,#30c,#2c00d3,#2300dc,#1800e7,#0d00f2,#00f,#0c0cff,#1818ff,#2323ff,#2d2dff,#3636ff,#3d3dff,#44f,#4a4aff,#4f4fff,#5353ff,#5656ff,#5959ff,#5c5cff,#6060ff,#6363ff,#6767ff,#6b6bff,#6f6fff,#7575ff,#7a7aff,#8080ff,#8686ff,#8c8cff,#9292ff,#9898ff,#9d9dff,#a3a3ff,#a7a7ff,#ababff,#aeaeff,#b0b0ff,#b2b2ff,#b3b3ff,#b3b3ff,#b2b2ff,#b1b1ff,#afafff,#adadff,#ababff,#a9a9ff,#a6a6ff,#a4a4ff,#a3a3ff,#a2a2ff,#a1a1ff,#a1a1ff,#a2a2ff,#a4a4ff,#a7a7ff,#aaf,#aeaeff,#b3b3ff,#b8b8ff,#bebeff,#c4c4ff,#c9c9ff,#c9c9ff)"></i>
<i style="background:linear-gradient(90deg,#0f0fff,#0f0fff,#00f,#0e00f1,#1a00e5,#20d,#2700d8,#2900d6,#2800d7,#2400db,#1e00e1,#1500ea,#0b00f4,#0100fe,#0b0bff,#1616ff,#2121ff,#2b2bff,#3535ff,#3d3dff,#44f,#4b4bff,#5050ff,#5454ff,#5858ff,#5c5cff,#5e5eff,#6161ff,#6464ff,#6767ff,#6b6bff,#6f6fff,#7373ff,#7878ff,#7d7dff,#8282ff,#88f,#8e8eff,#9494ff,#9a9aff,#9f9fff,#a4a4ff,#a9a9ff,#acacff,#b0b0ff,#b2b2ff,#b3b3ff,#b4b4ff,#b4b4ff,#b4b4ff,#b3b3ff,#b1b1ff,#afafff,#adadff,#ababff,#a8a8ff,#a6a6ff,#a5a5ff,#a4a4ff,#a3a3ff,#a3a3ff,#a4a4ff,#a6a6ff,#a9a9ff,#acacff,#b0b0ff,#b4b4ff,#babaff,#bfbfff,#c5c5ff,#cacaff,#cacaff)"></i>
<i style="background:linear-gradient(90deg,#1c1cff,#1c1cff,#0f0fff,#0101ff,#0a00f5,#1200ed,#1700e8,#1900e6,#1900e6,#1500ea,#0f00f0,#0800f7,#0101ff,#0b0bff,#1616ff,#2020ff,#2b2bff,#3434ff,#3d3dff,#4545ff,#4b4bff,#5151ff,#5656ff,#5a5aff,#5e5eff,#6161ff,#6464ff,#66f,#6969ff,#6c6cff,#6f6fff,#7272ff,#7676ff,#7b7bff,#8080ff,#8585ff,#8b8bff,#9090ff,#9696ff,#9c9cff,#a1a1ff,#a6a6ff,#aaf,#aeaeff,#b1b1ff,#b3b3ff,#b5b5ff,#b6b6ff,#b6b6ff,#b5b5ff,#b4b4ff,#b3b3ff,#b1b1ff,#afafff,#adadff,#aaf,#a9a9ff,#a7a7ff,#a6a6ff,#a5a5ff,#a6a6ff,#a6a6ff,#a8a8ff,#aaf,#aeaeff,#b2b2ff,#b6b6ff,#bbf,#c0c0ff,#c6c6ff,#cbcbff,#cbcbff)"></i>
<i style="background:linear-gradient(90deg,#2a2aff,#2a2aff,#1d1dff,#1010ff,#0606ff,#0200fd,#0700f8,#0a00f5,#0900f6,#0600f9,#0100fe,#0606ff,#0e0eff,#1717ff,#2121ff,#2a2aff,#3434ff,#3d3dff,#4545ff,#4c4cff,#5252ff,#5858ff,#5c5cff,#6060ff,#6363ff,#66f,#6969ff,#6b6bff,#6d6dff,#7070ff,#7373ff,#7676ff,#7a7aff,#7e7eff,#8383ff,#88f,#8d8dff,#9393ff,#9898ff,#9d9dff,#a3a3ff,#a7a7ff,#acacff,#b0b0ff,#b3b3ff,#b5b5ff,#b7b7ff,#b7b7ff,#b8b8ff,#b7b7ff,#b6b6ff,#b5b5ff,#b3b3ff,#b1b1ff,#afafff,#adadff,#ababff,#a9a9ff,#a8a8ff,#a7a7ff,#a8a8ff,#a8a8ff,#aaf,#acacff,#afafff,#b3b3ff,#b7b7ff,#bcbcff,#c2c2ff,#c7c7ff,#ccf,#ccf)"></i>
<i style="background:linear-gradient(90deg,#3838ff,#3838ff,#2c2cff,#1f1fff,#1515ff,#0d0dff,#0808ff,#0606ff,#0606ff,#0808ff,#0d0dff,#1313ff,#1a1aff,#2323ff,#2b2bff,#3434ff,#3d3dff,#4545ff,#4d4dff,#5353ff,#5959ff,#5e5eff,#6262ff,#66f,#6969ff,#6b6bff,#6e6eff,#7070ff,#7272ff,#7474ff,#77f,#7a7aff,#7d7dff,#8181ff,#8686ff,#8a8aff,#8f8fff,#9595ff,#9a9aff,#9f9fff,#a4a4ff,#a9a9ff,#adadff,#b1b1ff,#b4b4ff,#b6b6ff,#b8b8ff,#b9b9ff,#b9b9ff,#b9b9ff,#b8b8ff,#b6b6ff,#b5b5ff,#b3b3ff,#b1b1ff,#afafff,#adadff,#ababff,#aaf,#a9a9ff,#aaf,#aaf,#acacff,#aeaeff,#b1b1ff,#b5b5ff,#b9b9ff,#bebeff,#c3c3ff,#c8c8ff,#cdcdff,#cdcdff)"></i>
<i style="background:linear-gradient(90deg,#4545ff,#4545ff,#3939ff,#2d2dff,#2323ff,#1c1cff,#1717ff,#1414ff,#1414ff,#1616ff,#1a1aff,#2020ff,#2626ff,#2e2eff,#3636ff,#3e3eff,#4646ff,#4d4dff,#5454ff,#5a5aff,#6060ff,#6464ff,#6868ff,#6b6bff,#6e6eff,#7070ff,#7373ff,#7474ff,#7676ff,#7979ff,#7b7bff,#7e7eff,#8181ff,#8484ff,#8989ff,#8d8dff,#9292ff,#9797ff,#9c9cff,#a1a1ff,#a6a6ff,#ababff,#afafff,#b2b2ff,#b6b6ff,#b8b8ff,#babaff,#bbf,#bbf,#bbf,#babaff,#b8b8ff,#b7b7ff,#b5b5ff,#b3b3ff,#b0b0ff,#afafff,#adadff,#acacff,#ababff,#ababff,#acacff,#aeaeff,#b0b0ff,#b3b3ff,#b6b6ff,#babaff,#bfbfff,#c4c4ff,#c9c9ff,#ceceff,#ceceff)"></i>
<i style="background:linear-gradient(90deg,#5151ff,#5151ff,#4646ff,#3b3bff,#3232ff,#2a2aff,#2525ff,#2323ff,#22f,#2424ff,#2727ff,#2c2cff,#3232ff,#3939ff,#4040ff,#4747ff,#4e4eff,#55f,#5b5bff,#6161ff,#66f,#6a6aff,#6e6eff,#7171ff,#7373ff,#7575ff,#77f,#7979ff,#7b7bff,#7d7dff,#7f7fff,#8181ff,#8484ff,#8787ff,#8b8bff,#9090ff,#9494ff,#99f,#9e9eff,#a3a3ff,#a8a8ff,#acacff,#b0b0ff,#b4b4ff,#b7b7ff,#b9b9ff,#bbf,#bcbcff,#bcbcff,#bcbcff,#bbf,#babaff,#b8b8ff,#b6b6ff,#b4b4ff,#b2b2ff,#b1b1ff,#afafff,#aeaeff,#adadff,#adadff,#aeaeff,#afafff,#b2b2ff,#b4b4ff,#b8b8ff,#bcbcff,#c0c0ff,#c5c5ff,#cbcbff,#cfcfff,#cfcfff)"></i>
<i style="background:linear-gradient(90deg,#5d5dff,#5d5dff,#5353ff,#4848ff,#3f3fff,#3838ff,#33f,#3030ff,#3030ff,#3131ff,#3434ff,#3838ff,#3d3dff,#4343ff,#4949ff,#5050ff,#5656ff,#5d5dff,#6262ff,#6767ff,#6c6cff,#7070ff,#7373ff,#7676ff,#7878ff,#7a7aff,#7c7cff,#7d7dff,#7f7fff,#8080ff,#8282ff,#8585ff,#8787ff,#8a8aff,#8e8eff,#9292ff,#9696ff,#9b9bff,#a0a0ff,#a4a4ff,#a9a9ff,#adadff,#b2b2ff,#b5b5ff,#b8b8ff,#bbf,#bcbcff,#bdbdff,#bebeff,#bebeff,#bdbdff,#bcbcff,#babaff,#b8b8ff,#b6b6ff,#b4b4ff,#b2b2ff,#b1b1ff,#b0b0ff,#afafff,#afafff,#b0b0ff,#b1b1ff,#b3b3ff,#b6b6ff,#b9b9ff,#bdbdff,#c2c2ff,#c6c6ff,#ccf,#d0d0ff,#d0d0ff)"></i>
<i style="background:linear-gradient(90deg,#6969ff,#6969ff,#5f5fff,#55f,#4c4cff,#4545ff,#4141ff,#3e3eff,#3d3dff,#3d3dff,#3f3fff,#4343ff,#4747ff,#4d4dff,#5252ff,#5858ff,#5e5eff,#6464ff,#6969ff,#6e6eff,#7272ff,#7575ff,#7878ff,#7b7bff,#7d7dff,#7f7fff,#8080ff,#8181ff,#8383ff,#8484ff,#8686ff,#88f,#8a8aff,#8d8dff,#9090ff,#9494ff,#9898ff,#9d9dff,#a1a1ff,#a6a6ff,#aaf,#afafff,#b3b3ff,#b6b6ff,#b9b9ff,#bcbcff,#bebeff,#bfbfff,#bfbfff,#bfbfff,#bebeff,#bdbdff,#bcbcff,#babaff,#b8b8ff,#b6b6ff,#b4b4ff,#b3b3ff,#b2b2ff,#b1b1ff,#b1b1ff,#b2b2ff,#b3b3ff,#b5b5ff,#b7b7ff,#bbf,#bfbfff,#c3c3ff,#c8c8ff,#cdcdff,#d1d1ff,#d1d1ff)"></i>
<i style="background:linear-gradient(90deg,#7474ff,#7474ff,#6b6bff,#6161ff,#5959ff,#5252ff,#4d4dff,#4a4aff,#4949ff,#4949ff,#4b4bff,#4e4eff,#5151ff,#5656ff,#5b5bff,#6060ff,#6565ff,#6a6aff,#6f6fff,#7373ff,#77f,#7a7aff,#7d7dff,#7f7fff,#8181ff,#8383ff,#8484ff,#8585ff,#8686ff,#88f,#8989ff,#8b8bff,#8d8dff,#9090ff,#9393ff,#9696ff,#9a9aff,#9e9eff,#a3a3ff,#a7a7ff,#acacff,#b0b0ff,#b4b4ff,#b8b8ff,#bbf,#bdbdff,#bfbfff,#c0c0ff,#c1c1ff,#c0c0ff,#c0c0ff,#bfbfff,#bdbdff,#bbf,#babaff,#b8b8ff,#b6b6ff,#b4b4ff,#b3b3ff,#b3b3ff,#b3b3ff,#b3b3ff,#b4b4ff,#b6b6ff,#b9b9ff,#bcbcff,#c0c0ff,#c4c4ff,#c9c9ff,#ceceff,#d2d2ff,#d2d2ff)"></i>
<i style="background:linear-gradient(90deg,#7e7eff,#7e7eff,#7676ff,#6c6cff,#6464ff,#5e5eff,#5959ff,#5656ff,#5454ff,#5454ff,#55f,#5858ff,#5b5bff,#5f5fff,#6363ff,#6868ff,#6c6cff,#7171ff,#7575ff,#7979ff,#7c7cff,#7f7fff,#8282ff,#8484ff,#8585ff,#8787ff,#88f,#8989ff,#8a8aff,#8b8bff,#8c8cff,#8e8eff,#9090ff,#9292ff,#9595ff,#9898ff,#9c9cff,#a0a0ff,#a4a4ff,#a9a9ff,#adadff,#b1b1ff,#b5b5ff,#b8b8ff,#bcbcff,#bebeff,#c0c0ff,#c1c1ff,#c2c2ff,#c2c2ff,#c1c1ff,#c0c0ff,#bfbfff,#bdbdff,#bbf,#b9b9ff,#b7b7ff,#b6b6ff,#b5b5ff,#b4b4ff,#b4b4ff,#b5b5ff,#b6b6ff,#b8b8ff,#babaff,#bdbdff,#c1c1ff,#c5c5ff,#cacaff,#ceceff,#d3d3ff,#d3d3ff)"></i>
<i style="background:linear-gradient(90deg,#88f,#88f,#8080ff,#77f,#6f6fff,#6969ff,#6464ff,#6161ff,#5f5fff,#5e5eff,#5f5fff,#6161ff,#6464ff,#6767ff,#6b6bff,#6f6fff,#7373ff,#77f,#7a7aff,#7e7eff,#8181ff,#8484ff,#8686ff,#88f,#8989ff,#8b8bff,#8c8cff,#8c8cff,#8d8dff,#8e8eff,#8f8fff,#9191ff,#9292ff,#9494ff,#9797ff,#9a9aff,#9e9eff,#a1a1ff,#a5a5ff,#aaf,#aeaeff,#b2b2ff,#b6b6ff,#b9b9ff,#bcbcff,#bfbfff,#c1c1ff,#c2c2ff,#c3c3ff,#c3c3ff,#c2c2ff,#c1c1ff,#c0c0ff,#bebeff,#bcbcff,#bbf,#b9b9ff,#b7b7ff,#b6b6ff,#b6b6ff,#b6b6ff,#b6b6ff,#b7b7ff,#b9b9ff,#bbf,#bebeff,#c2c2ff,#c6c6ff,#cbcbff,#cfcfff,#d3d3ff,#d3d3ff)"></i>
<i style="background:linear-gradient(90deg,#9191ff,#9191ff,#8989ff,#8181ff,#7a7aff,#7373ff,#6f6fff,#6b6bff,#6969ff,#6868ff,#6868ff,#6a6aff,#6c6cff,#6e6eff,#7272ff,#7575ff,#7878ff,#7c7cff,#7f7fff,#8282ff,#8585ff,#88f,#8a8aff,#8b8bff,#8d8dff,#8e8eff,#8f8fff,#8f8fff,#9090ff,#9191ff,#9292ff,#9393ff,#9595ff,#9696ff,#99f,#9c9cff,#9f9fff,#a3a3ff,#a6a6ff,#ababff,#afafff,#b3b3ff,#b7b7ff,#babaff,#bdbdff,#c0c0ff,#c2c2ff,#c3c3ff,#c4c4ff,#c4c4ff,#c3c3ff,#c2c2ff,#c1c1ff,#bfbfff,#bebeff,#bcbcff,#babaff,#b9b9ff,#b8b8ff,#b7b7ff,#b7b7ff,#b7b7ff,#b8b8ff,#babaff,#bdbdff,#c0c0ff,#c3c3ff,#c7c7ff,#cbcbff,#d0d0ff,#d4d4ff,#d4d4ff)"></i>
<i style="background:linear-gradient(90deg,#99f,#99f,#9292ff,#8a8aff,#8383ff,#7d7dff,#7878ff,#7575ff,#7272ff,#7171ff,#7171ff,#7272ff,#7373ff,#7575ff,#7878ff,#7b7bff,#7e7eff,#8181ff,#8484ff,#8787ff,#8989ff,#8b8bff,#8d8dff,#8f8fff,#9090ff,#9191ff,#9292ff,#9292ff,#9393ff,#9393ff,#9494ff,#9595ff,#9797ff,#9898ff,#9a9aff,#9d9dff,#a0a0ff,#a4a4ff,#a7a7ff,#ababff,#afafff,#b3b3ff,#b7b7ff,#bbf,#bebeff,#c0c0ff,#c2c2ff,#c4c4ff,#c4c4ff,#c5c5ff,#c4c4ff,#c3c3ff,#c2c2ff,#c0c0ff,#bfbfff,#bdbdff,#bbf,#babaff,#b9b9ff,#b8b8ff,#b8b8ff,#b9b9ff,#babaff,#bbf,#bebeff,#c1c1ff,#c4c4ff,#c8c8ff,#ccf,#d1d1ff,#d5d5ff,#d5d5ff)"></i>
<i style="background:linear-gradient(90deg,#a1a1ff,#a1a1ff,#9a9aff,#9393ff,#8c8cff,#8686ff,#8181ff,#7e7eff,#7b7bff,#7979ff,#7979ff,#7979ff,#7a7aff,#7c7cff,#7e7eff,#8080ff,#8383ff,#8585ff,#88f,#8a8aff,#8d8dff,#8f8fff,#9090ff,#9292ff,#9393ff,#9494ff,#9494ff,#9595ff,#9595ff,#9696ff,#9696ff,#9797ff,#9898ff,#9a9aff,#9c9cff,#9e9eff,#a1a1ff,#a4a4ff,#a8a8ff,#acacff,#b0b0ff,#b4b4ff,#b8b8ff,#bbf,#bebeff,#c1c1ff,#c3c3ff,#c4c4ff,#c5c5ff,#c5c5ff,#c5c5ff,#c4c4ff,#c3c3ff,#c1c1ff,#c0c0ff,#bebeff,#bcbcff,#bbf,#babaff,#b9b9ff,#b9b9ff,#babaff,#bbf,#bcbcff,#bfbfff,#c2c2ff,#c5c5ff,#c9c9ff,#cdcdff,#d2d2ff,#d6d6ff,#d6d6ff)"></i>
<i style="background:linear-gradient(90deg,#a8a8ff,#a8a8ff,#a2a2ff,#9a9aff,#9494ff,#8e8eff,#8989ff,#8686ff,#8383ff,#8181ff,#8080ff,#8080ff,#8080ff,#8181ff,#8383ff,#8585ff,#8787ff,#8989ff,#8c8cff,#8e8eff,#9090ff,#9292ff,#9393ff,#9494ff,#9595ff,#9696ff,#9797ff,#9797ff,#9797ff,#9898ff,#9898ff,#99f,#9a9aff,#9b9bff,#9d9dff,#9f9fff,#a2a2ff,#a5a5ff,#a9a9ff,#acacff,#b0b0ff,#b4b4ff,#b8b8ff,#bbf,#bebeff,#c1c1ff,#c3c3ff,#c5c5ff,#c5c5ff,#c6c6ff,#c5c5ff,#c5c5ff,#c4c4ff,#c2c2ff,#c1c1ff,#bfbfff,#bdbdff,#bcbcff,#bbf,#babaff,#babaff,#bbf,#bcbcff,#bdbdff,#bfbfff,#c2c2ff,#c6c6ff,#cacaff,#ceceff,#d2d2ff,#d6d6ff,#d6d6ff)"></i>
<i style="background:linear-gradient(90deg,#afafff,#afafff,#a9a9ff,#a2a2ff,#9b9bff,#9696ff,#9191ff,#8d8dff,#8a8aff,#88f,#8686ff,#8686ff,#8686ff,#8787ff,#88f,#8989ff,#8b8bff,#8d8dff,#8f8fff,#9191ff,#9292ff,#9494ff,#9595ff,#9797ff,#9797ff,#9898ff,#99f,#99f,#99f,#99f,#9a9aff,#9a9aff,#9b9bff,#9c9cff,#9e9eff,#a0a0ff,#a2a2ff,#a5a5ff,#a9a9ff,#acacff,#b0b0ff,#b4b4ff,#b8b8ff,#bbf,#bebeff,#c1c1ff,#c3c3ff,#c5c5ff,#c6c6ff,#c6c6ff,#c6c6ff,#c5c5ff,#c4c4ff,#c3c3ff,#c1c1ff,#c0c0ff,#bebeff,#bdbdff,#bcbcff,#bbf,#bbf,#bbf,#bcbcff,#bebeff,#c0c0ff,#c3c3ff,#c6c6ff,#cacaff,#ceceff,#d3d3ff,#d7d7ff,#d7d7ff)"></i>
<i style="background:linear-gradient(90deg,#b5b5ff,#b5b5ff,#afafff,#a8a8ff,#a2a2ff,#9c9cff,#9797ff,#9393ff,#9090ff,#8e8eff,#8c8cff,#8b8bff,#8b8bff,#8b8bff,#8c8cff,#8d8dff,#8e8eff,#9090ff,#9191ff,#9393ff,#9595ff,#9696ff,#9797ff,#9898ff,#99f,#9a9aff,#9a9aff,#9a9aff,#9b9bff,#9b9bff,#9b9bff,#9b9bff,#9c9cff,#9d9dff,#9e9eff,#a0a0ff,#a3a3ff,#a6a6ff,#a9a9ff,#acacff,#b0b0ff,#b4b4ff,#b8b8ff,#bbf,#bebeff,#c1c1ff,#c3c3ff,#c5c5ff,#c6c6ff,#c6c6ff,#c6c6ff,#c5c5ff,#c4c4ff,#c3c3ff,#c2c2ff,#c0c0ff,#bfbfff,#bdbdff,#bcbcff,#bcbcff,#bcbcff,#bcbcff,#bdbdff,#bfbfff,#c1c1ff,#c4c4ff,#c7c7ff,#cbcbff,#cfcfff,#d3d3ff,#d7d7ff,#d7d7ff)"></i>
<i style="background:linear-gradient(90deg,#babaff,#babaff,#b4b4ff,#aeaeff,#a8a8ff,#a2a2ff,#9d9dff,#99f,#9696ff,#9393ff,#9191ff,#9090ff,#8f8fff,#8f8fff,#8f8fff,#9090ff,#9191ff,#9292ff,#9494ff,#9595ff,#9696ff,#9898ff,#99f,#9a9aff,#9b9bff,#9b9bff,#9b9bff,#9c9cff,#9c9cff,#9c9cff,#9c9cff,#9c9cff,#9d9dff,#9d9dff,#9f9fff,#a1a1ff,#a3a3ff,#a6a6ff,#a9a9ff,#acacff,#b0b0ff,#b4b4ff,#b7b7ff,#bbf,#bebeff,#c1c1ff,#c3c3ff,#c5c5ff,#c6c6ff,#c6c6ff,#c6c6ff,#c5c5ff,#c5c5ff,#c3c3ff,#c2c2ff,#c0c0ff,#bfbfff,#bebeff,#bdbdff,#bcbcff,#bcbcff,#bcbcff,#bdbdff,#bfbfff,#c1c1ff,#c4c4ff,#c7c7ff,#cbcbff,#cfcfff,#d4d4ff,#d7d7ff,#d7d7ff)"></i>
<i style="background:linear-gradient(90deg,#bfbfff,#bfbfff,#b9b9ff,#b3b3ff,#adadff,#a7a7ff,#a2a2ff,#9e9eff,#9a9aff,#9898ff,#9595ff,#9494ff,#9393ff,#9292ff,#9292ff,#9292ff,#9393ff,#9494ff,#9595ff,#9696ff,#9898ff,#99f,#9a9aff,#9b9bff,#9c9cff,#9c9cff,#9c9cff,#9c9cff,#9c9cff,#9c9cff,#9c9cff,#9d9dff,#9d9dff,#9e9eff,#9f9fff,#a1a1ff,#a3a3ff,#a5a5ff,#a8a8ff,#acacff,#afafff,#b3b3ff,#b7b7ff,#babaff,#bdbdff,#c0c0ff,#c2c2ff,#c4c4ff,#c5c5ff,#c6c6ff,#c6c6ff,#c5c5ff,#c4c4ff,#c3c3ff,#c2c2ff,#c0c0ff,#bfbfff,#bebeff,#bdbdff,#bcbcff,#bcbcff,#bdbdff,#bebeff,#bfbfff,#c2c2ff,#c4c4ff,#c8c8ff,#ccf,#d0d0ff,#d4d4ff,#d8d8ff,#d8d8ff)"></i>
<i style="background:linear-gradient(90deg,#c3c3ff,#c3c3ff,#bdbdff,#b7b7ff,#b1b1ff,#acacff,#a7a7ff,#a2a2ff,#9f9fff,#9b9bff,#99f,#9797ff,#9696ff,#9595ff,#9494ff,#9494ff,#9595ff,#9696ff,#9797ff,#9898ff,#99f,#9a9aff,#9b9bff,#9c9cff,#9c9cff,#9d9dff,#9d9dff,#9d9dff,#9d9dff,#9d9dff,#9d9dff,#9d9dff,#9d9dff,#9e9eff,#9f9fff,#a0a0ff,#a2a2ff,#a5a5ff,#a8a8ff,#ababff,#afafff,#b2b2ff,#b6b6ff,#b9b9ff,#bdbdff,#bfbfff,#c2c2ff,#c4c4ff,#c5c5ff,#c5c5ff,#c5c5ff,#c5c5ff,#c4c4ff,#c3c3ff,#c2c2ff,#c0c0ff,#bfbfff,#bebeff,#bdbdff,#bcbcff,#bcbcff,#bdbdff,#bebeff,#c0c0ff,#c2c2ff,#c5c5ff,#c8c8ff,#ccf,#d0d0ff,#d4d4ff,#d8d8ff,#d8d8ff)"></i>
<i style="background:linear-gradient(90deg,#c6c6ff,#c6c6ff,#c1c1ff,#bbf,#b5b5ff,#b0b0ff,#ababff,#a6a6ff,#a2a2ff,#9f9fff,#9c9cff,#9a9aff,#9898ff,#9797ff,#9696ff,#9696ff,#9696ff,#9797ff,#9797ff,#9898ff,#99f,#9a9aff,#9b9bff,#9c9cff,#9c9cff,#9d9dff,#9d9dff,#9d9dff,#9d9dff,#9d9dff,#9d9dff,#9d9dff,#9d9dff,#9d9dff,#9e9eff,#a0a0ff,#a2a2ff,#a4a4ff,#a7a7ff,#aaf,#aeaeff,#b1b1ff,#b5b5ff,#b8b8ff,#bcbcff,#bfbfff,#c1c1ff,#c3c3ff,#c4c4ff,#c5c5ff,#c5c5ff,#c4c4ff,#c4c4ff,#c3c3ff,#c1c1ff,#c0c0ff,#bfbfff,#bebeff,#bdbdff,#bcbcff,#bcbcff,#bdbdff,#bebeff,#c0c0ff,#c2c2ff,#c5c5ff,#c8c8ff,#ccf,#d0d0ff,#d4d4ff,#d8d8ff,#d8d8ff)"></i>
<i style="background:linear-gradient(90deg,#c9c9ff,#c9c9ff,#c4c4ff,#bebeff,#b8b8ff,#b3b3ff,#aeaeff,#a9a9ff,#a5a5ff,#a1a1ff,#9e9eff,#9c9cff,#9a9aff,#9898ff,#9797ff,#9797ff,#9797ff,#9797ff,#9898ff,#9898ff,#99f,#9a9aff,#9b9bff,#9c9cff,#9c9cff,#9d9dff,#9d9dff,#9d9dff,#9d9dff,#9d9dff,#9c9cff,#9c9cff,#9c9cff,#9d9dff,#9e9eff,#9f9fff,#a1a1ff,#a3a3ff,#a6a6ff,#a9a9ff,#adadff,#b0b0ff,#b4b4ff,#b7b7ff,#bbf,#bdbdff,#c0c0ff,#c2c2ff,#c3c3ff,#c4c4ff,#c4c4ff,#c4c4ff,#c3c3ff,#c2c2ff,#c1c1ff,#c0c0ff,#bebeff,#bdbdff,#bdbdff,#bcbcff,#bcbcff,#bdbdff,#bebeff,#c0c0ff,#c2c2ff,#c5c5ff,#c8c8ff,#ccf,#d0d0ff,#d4d4ff,#d8d8ff,#d8d8ff)"></i>
<i style="background:linear-gradient(90deg,#ccf,#ccf,#c7c7ff,#c1c1ff,#bbf,#b5b5ff,#b0b0ff,#ababff,#a7a7ff,#a3a3ff,#a0a0ff,#9d9dff,#9b9bff,#99f,#9898ff,#9797ff,#9797ff,#9797ff,#9898ff,#9898ff,#99f,#9a9aff,#9b9bff,#9b9bff,#9c9cff,#9c9cff,#9c9cff,#9c9cff,#9c9cff,#9c9cff,#9c9cff,#9c9cff,#9c9cff,#9c9cff,#9d9dff,#9e9eff,#a0a0ff,#a2a2ff,#a5a5ff,#a8a8ff,#ababff,#afafff,#b2b2ff,#b6b6ff,#b9b9ff,#bcbcff,#bfbfff,#c1c1ff,#c2c2ff,#c3c3ff,#c3c3ff,#c3c3ff,#c2c2ff,#c1c1ff,#c0c0ff,#bfbfff,#bebeff,#bdbdff,#bcbcff,#bcbcff,#bcbcff,#bcbcff,#bebeff,#bfbfff,#c2c2ff,#c5c5ff,#c8c8ff,#ccf,#d0d0ff,#d4d4ff,#d8d8ff,#d8d8ff)"></i>
<i style="background:linear-gradient(90deg,#ceceff,#ceceff,#c9c9ff,#c3c3ff,#bdbdff,#b7b7ff,#b2b2ff,#adadff,#a9a9ff,#a5a5ff,#a1a1ff,#9e9eff,#9c9cff,#9a9aff,#9898ff,#9797ff,#9797ff,#9797ff,#9797ff,#9898ff,#9898ff,#99f,#9a9aff,#9a9aff,#9b9bff,#9b9bff,#9c9cff,#9c9cff,#9b9bff,#9b9bff,#9b9bff,#9b9bff,#9b9bff,#9b9bff,#9c9cff,#9d9dff,#9e9eff,#a1a1ff,#a3a3ff,#a6a6ff,#aaf,#adadff,#b1b1ff,#b4b4ff,#b8b8ff,#bbf,#bdbdff,#bfbfff,#c0c0ff,#c1c1ff,#c2c2ff,#c2c2ff,#c1c1ff,#c0c0ff,#bfbfff,#bebeff,#bdbdff,#bcbcff,#bbf,#bbf,#bbf,#bcbcff,#bdbdff,#bfbfff,#c2c2ff,#c4c4ff,#c8c8ff,#ccf,#d0d0ff,#d4d4ff,#d8d8ff,#d8d8ff)"></i>
<i style="background:linear-gradient(90deg,#cfcfff,#cfcfff,#cacaff,#c4c4ff,#bebeff,#b9b9ff,#b3b3ff,#aeaeff,#aaf,#a6a6ff,#a2a2ff,#9f9fff,#9c9cff,#9a9aff,#9898ff,#9797ff,#9696ff,#9696ff,#9696ff,#9797ff,#9797ff,#9898ff,#99f,#99f,#9a9aff,#9a9aff,#9a9aff,#9a9aff,#9a9aff,#9a9aff,#9a9aff,#99f,#99f,#9a9aff,#9a9aff,#9b9bff,#9d9dff,#9f9fff,#a1a1ff,#a4a4ff,#a8a8ff,#ababff,#afafff,#b2b2ff,#b6b6ff,#b9b9ff,#bbf,#bdbdff,#bfbfff,#c0c0ff,#c0c0ff,#c0c0ff,#c0c0ff,#bfbfff,#bebeff,#bdbdff,#bcbcff,#bbf,#babaff,#babaff,#bbf,#bbf,#bdbdff,#bfbfff,#c1c1ff,#c4c4ff,#c8c8ff,#cbcbff,#d0d0ff,#d4d4ff,#d8d8ff,#d8d8ff)"></i>
<i style="background:linear-gradient(90deg,#d0d0ff,#d0d0ff,#cbcbff,#c5c5ff,#bfbfff,#babaff,#b4b4ff,#afafff,#aaf,#a6a6ff,#a2a2ff,#9f9fff,#9c9cff,#99f,#9797ff,#9696ff,#9595ff,#9595ff,#9595ff,#9595ff,#9696ff,#9696ff,#9797ff,#9898ff,#9898ff,#99f,#99f,#99f,#99f,#99f,#9898ff,#9898ff,#9898ff,#9898ff,#9898ff,#99f,#9b9bff,#9d9dff,#9f9fff,#a2a2ff,#a6a6ff,#a9a9ff,#adadff,#b0b0ff,#b4b4ff,#b7b7ff,#b9b9ff,#bcbcff,#bdbdff,#bebeff,#bfbfff,#bfbfff,#bebeff,#bdbdff,#bdbdff,#bcbcff,#bbf,#babaff,#b9b9ff,#b9b9ff,#babaff,#bbf,#bcbcff,#bebeff,#c0c0ff,#c3c3ff,#c7c7ff,#cbcbff,#cfcfff,#d4d4ff,#d8d8ff,#d8d8ff)"></i>
<i style="background:linear-gradient(90deg,#d1d1ff,#d1d1ff,#ccf,#c6c6ff,#c0c0ff,#babaff,#b4b4ff,#afafff,#aaf,#a6a6ff,#a2a2ff,#9e9eff,#9b9bff,#9898ff,#9696ff,#9595ff,#9494ff,#9393ff,#9393ff,#9393ff,#9494ff,#9595ff,#9595ff,#9696ff,#9797ff,#9797ff,#9797ff,#9797ff,#9797ff,#9797ff,#9696ff,#9696ff,#9696ff,#9696ff,#9696ff,#9797ff,#99f,#9b9bff,#9d9dff,#a0a0ff,#a3a3ff,#a7a7ff,#ababff,#aeaeff,#b2b2ff,#b5b5ff,#b7b7ff,#b9b9ff,#bbf,#bcbcff,#bdbdff,#bdbdff,#bcbcff,#bcbcff,#bbf,#babaff,#b9b9ff,#b9b9ff,#b8b8ff,#b8b8ff,#b9b9ff,#babaff,#bbf,#bdbdff,#c0c0ff,#c3c3ff,#c6c6ff,#cacaff,#cfcfff,#d3d3ff,#d7d7ff,#d7d7ff)"></i>
<i style="background:linear-gradient(90deg,#d1d1ff,#d1d1ff,#ccf,#c6c6ff,#c0c0ff,#babaff,#b4b4ff,#afafff,#aaf,#a5a5ff,#a1a1ff,#9d9dff,#9a9aff,#9797ff,#9595ff,#9393ff,#9292ff,#9191ff,#9191ff,#9191ff,#9292ff,#9292ff,#9393ff,#9494ff,#9494ff,#9595ff,#9595ff,#9595ff,#9595ff,#9595ff,#9494ff,#9494ff,#9494ff,#9494ff,#9494ff,#9595ff,#9797ff,#9898ff,#9b9bff,#9e9eff,#a1a1ff,#a5a5ff,#a8a8ff,#acacff,#afafff,#b2b2ff,#b5b5ff,#b7b7ff,#b9b9ff,#babaff,#bbf,#bbf,#babaff,#babaff,#b9b9ff,#b8b8ff,#b8b8ff,#b7b7ff,#b7b7ff,#b7b7ff,#b7b7ff,#b8b8ff,#babaff,#bcbcff,#bfbfff,#c2c2ff,#c6c6ff,#cacaff,#ceceff,#d3d3ff,#d7d7ff,#d7d7ff)"></i>
<i style="background:linear-gradient(90deg,#d1d1ff,#d1d1ff,#ccf,#c6c6ff,#bfbfff,#b9b9ff,#b4b4ff,#aeaeff,#a9a9ff,#a4a4ff,#9f9fff,#9c9cff,#9898ff,#9595ff,#9393ff,#9191ff,#9090ff,#8f8fff,#8f8fff,#8f8fff,#8f8fff,#9090ff,#9191ff,#9191ff,#9292ff,#9393ff,#9393ff,#9393ff,#9393ff,#9292ff,#9292ff,#9292ff,#9191ff,#9292ff,#9292ff,#9393ff,#9494ff,#9696ff,#9898ff,#9b9bff,#9e9eff,#a2a2ff,#a5a5ff,#a9a9ff,#acacff,#b0b0ff,#b2b2ff,#b5b5ff,#b6b6ff,#b8b8ff,#b8b8ff,#b8b8ff,#b8b8ff,#b8b8ff,#b7b7ff,#b7b7ff,#b6b6ff,#b5b5ff,#b5b5ff,#b5b5ff,#b6b6ff,#b7b7ff,#b9b9ff,#bbf,#bebeff,#c1c1ff,#c5c5ff,#c9c9ff,#ceceff,#d2d2ff,#d6d6ff,#d6d6ff)"></i>
<i style="background:linear-gradient(90deg,#d0d0ff,#d0d0ff,#cbcbff,#c5c5ff,#bfbfff,#b8b8ff,#b3b3ff,#adadff,#a7a7ff,#a2a2ff,#9e9eff,#9a9aff,#9696ff,#9393ff,#9191ff,#8f8fff,#8d8dff,#8c8cff,#8c8cff,#8c8cff,#8d8dff,#8d8dff,#8e8eff,#8f8fff,#8f8fff,#9090ff,#9090ff,#9090ff,#9090ff,#9090ff,#9090ff,#8f8fff,#8f8fff,#8f8fff,#8f8fff,#9090ff,#9191ff,#9393ff,#9696ff,#9898ff,#9c9cff,#9f9fff,#a3a3ff,#a6a6ff,#aaf,#adadff,#b0b0ff,#b2b2ff,#b4b4ff,#b5b5ff,#b6b6ff,#b6b6ff,#b6b6ff,#b6b6ff,#b5b5ff,#b4b4ff,#b4b4ff,#b4b4ff,#b3b3ff,#b4b4ff,#b4b4ff,#b6b6ff,#b7b7ff,#babaff,#bdbdff,#c0c0ff,#c4c4ff,#c8c8ff,#cdcdff,#d2d2ff,#d6d6ff,#d6d6ff)"></i>
<i style="background:linear-gradient(90deg,#cfcfff,#cfcfff,#cacaff,#c4c4ff,#bdbdff,#b7b7ff,#b1b1ff,#ababff,#a6a6ff,#a0a0ff,#9c9cff,#9797ff,#9494ff,#9191ff,#8e8eff,#8c8cff,#8a8aff,#8a8aff,#8989ff,#8989ff,#8a8aff,#8a8aff,#8b8bff,#8c8cff,#8c8cff,#8d8dff,#8d8dff,#8d8dff,#8d8dff,#8d8dff,#8d8dff,#8c8cff,#8c8cff,#8c8cff,#8c8cff,#8d8dff,#8e8eff,#9090ff,#9393ff,#9595ff,#9898ff,#9c9cff,#a0a0ff,#a3a3ff,#a7a7ff,#aaf,#adadff,#afafff,#b1b1ff,#b2b2ff,#b3b3ff,#b3b3ff,#b3b3ff,#b3b3ff,#b3b3ff,#b2b2ff,#b2b2ff,#b2b2ff,#b2b2ff,#b2b2ff,#b3b3ff,#b4b4ff,#b6b6ff,#b8b8ff,#bbf,#bfbfff,#c3c3ff,#c7c7ff,#ccf,#d1d1ff,#d5d5ff,#d5d5ff)"></i>
<i style="background:linear-gradient(90deg,#ceceff,#ceceff,#c9c9ff,#c2c2ff,#bcbcff,#b6b6ff,#afafff,#a9a9ff,#a4a4ff,#9e9eff,#99f,#9595ff,#9191ff,#8e8eff,#8b8bff,#8989ff,#8787ff,#8686ff,#8686ff,#8686ff,#8686ff,#8787ff,#88f,#88f,#8989ff,#8a8aff,#8a8aff,#8a8aff,#8a8aff,#8a8aff,#8a8aff,#8989ff,#8989ff,#8989ff,#8989ff,#8a8aff,#8b8bff,#8d8dff,#8f8fff,#9292ff,#9595ff,#99f,#9c9cff,#a0a0ff,#a3a3ff,#a7a7ff,#a9a9ff,#acacff,#aeaeff,#afafff,#b0b0ff,#b1b1ff,#b1b1ff,#b1b1ff,#b0b0ff,#b0b0ff,#afafff,#afafff,#afafff,#b0b0ff,#b1b1ff,#b2b2ff,#b4b4ff,#b7b7ff,#babaff,#bebeff,#c2c2ff,#c6c6ff,#cbcbff,#d0d0ff,#d4d4ff,#d4d4ff)"></i>
<i style="background:linear-gradient(90deg,#cdcdff,#cdcdff,#c7c7ff,#c1c1ff,#babaff,#b4b4ff,#adadff,#a7a7ff,#a1a1ff,#9c9cff,#9797ff,#9292ff,#8e8eff,#8b8bff,#88f,#8686ff,#8484ff,#8383ff,#8282ff,#8282ff,#8383ff,#8383ff,#8484ff,#8585ff,#8686ff,#8686ff,#8787ff,#8787ff,#8787ff,#8787ff,#8787ff,#8686ff,#8686ff,#8686ff,#8686ff,#8787ff,#88f,#8a8aff,#8c8cff,#8f8fff,#9292ff,#9595ff,#99f,#9c9cff,#a0a0ff,#a3a3ff,#a6a6ff,#a9a9ff,#ababff,#acacff,#adadff,#aeaeff,#aeaeff,#aeaeff,#aeaeff,#adadff,#adadff,#adadff,#adadff,#aeaeff,#afafff,#b0b0ff,#b3b3ff,#b5b5ff,#b8b8ff,#bcbcff,#c0c0ff,#c5c5ff,#cacaff,#cfcfff,#d3d3ff,#d3d3ff)"></i>
<i style="background:linear-gradient(90deg,#cbcbff,#cbcbff,#c6c6ff,#bfbfff,#b8b8ff,#b1b1ff,#ababff,#a4a4ff,#9e9eff,#99f,#9494ff,#8f8fff,#8b8bff,#8787ff,#8484ff,#8282ff,#8080ff,#7f7fff,#7f7fff,#7f7fff,#7f7fff,#8080ff,#8080ff,#8181ff,#8282ff,#8383ff,#8383ff,#8484ff,#8484ff,#8484ff,#8383ff,#8383ff,#8383ff,#8383ff,#8383ff,#8484ff,#8585ff,#8686ff,#8989ff,#8b8bff,#8e8eff,#9292ff,#9595ff,#99f,#9c9cff,#a0a0ff,#a3a3ff,#a5a5ff,#a7a7ff,#a9a9ff,#aaf,#ababff,#ababff,#ababff,#ababff,#ababff,#aaf,#ababff,#ababff,#acacff,#adadff,#aeaeff,#b1b1ff,#b3b3ff,#b7b7ff,#bbf,#bfbfff,#c4c4ff,#c9c9ff,#ceceff,#d2d2ff,#d2d2ff)"></i>
<i style="background:linear-gradient(90deg,#c9c9ff,#c9c9ff,#c4c4ff,#bdbdff,#b6b6ff,#afafff,#a8a8ff,#a2a2ff,#9b9bff,#9696ff,#9090ff,#8c8cff,#8787ff,#8484ff,#8181ff,#7e7eff,#7d7dff,#7c7cff,#7b7bff,#7b7bff,#7b7bff,#7c7cff,#7d7dff,#7e7eff,#7e7eff,#7f7fff,#8080ff,#8080ff,#8080ff,#8080ff,#8080ff,#7f7fff,#7f7fff,#7f7fff,#7f7fff,#8080ff,#8181ff,#8383ff,#8585ff,#88f,#8b8bff,#8e8eff,#9292ff,#9595ff,#99f,#9c9cff,#9f9fff,#a2a2ff,#a4a4ff,#a5a5ff,#a7a7ff,#a7a7ff,#a8a8ff,#a8a8ff,#a8a8ff,#a8a8ff,#a8a8ff,#a8a8ff,#a8a8ff,#a9a9ff,#ababff,#acacff,#afafff,#b2b2ff,#b5b5ff,#b9b9ff,#bdbdff,#c2c2ff,#c7c7ff,#cdcdff,#d1d1ff,#d1d1ff)"></i>
<i style="background:linear-gradient(90deg,#c7c7ff,#c7c7ff,#c1c1ff,#babaff,#b3b3ff,#acacff,#a5a5ff,#9e9eff,#9898ff,#9292ff,#8d8dff,#88f,#8484ff,#8080ff,#7d7dff,#7b7bff,#7979ff,#7878ff,#77f,#77f,#77f,#7878ff,#7979ff,#7a7aff,#7b7bff,#7b7bff,#7c7cff,#7c7cff,#7c7cff,#7c7cff,#7c7cff,#7c7cff,#7c7cff,#7c7cff,#7c7cff,#7c7cff,#7e7eff,#7f7fff,#8181ff,#8484ff,#8787ff,#8a8aff,#8e8eff,#9191ff,#9595ff,#9898ff,#9b9bff,#9e9eff,#a0a0ff,#a2a2ff,#a3a3ff,#a4a4ff,#a4a4ff,#a5a5ff,#a5a5ff,#a5a5ff,#a5a5ff,#a5a5ff,#a6a6ff,#a7a7ff,#a8a8ff,#aaf,#adadff,#b0b0ff,#b3b3ff,#b7b7ff,#bcbcff,#c1c1ff,#c6c6ff,#cbcbff,#d0d0ff,#d0d0ff)"></i>
<i style="background:linear-gradient(90deg,#c5c5ff,#c5c5ff,#bfbfff,#b8b8ff,#b0b0ff,#a9a9ff,#a2a2ff,#9b9bff,#9595ff,#8f8fff,#8989ff,#8484ff,#8080ff,#7c7cff,#7979ff,#77f,#7575ff,#7373ff,#7373ff,#7373ff,#7373ff,#7474ff,#7575ff,#7676ff,#77f,#77f,#7878ff,#7878ff,#7979ff,#7979ff,#7878ff,#7878ff,#7878ff,#7878ff,#7878ff,#7979ff,#7a7aff,#7b7bff,#7d7dff,#8080ff,#8383ff,#8686ff,#8a8aff,#8e8eff,#9191ff,#9494ff,#9797ff,#9a9aff,#9c9cff,#9e9eff,#9f9fff,#a0a0ff,#a1a1ff,#a1a1ff,#a2a2ff,#a2a2ff,#a2a2ff,#a2a2ff,#a3a3ff,#a4a4ff,#a6a6ff,#a8a8ff,#ababff,#aeaeff,#b1b1ff,#b6b6ff,#babaff,#bfbfff,#c5c5ff,#cacaff,#cfcfff,#cfcfff)"></i>
<i style="background:linear-gradient(90deg,#c3c3ff,#c3c3ff,#bcbcff,#b5b5ff,#adadff,#a6a6ff,#9f9fff,#9898ff,#9191ff,#8b8bff,#8686ff,#8080ff,#7c7cff,#7878ff,#7575ff,#7272ff,#7171ff,#6f6fff,#6f6fff,#6e6eff,#6f6fff,#6f6fff,#7070ff,#7171ff,#7272ff,#7373ff,#7474ff,#7575ff,#7575ff,#7575ff,#7575ff,#7474ff,#7474ff,#7474ff,#7474ff,#7575ff,#7676ff,#77f,#7a7aff,#7c7cff,#7f7fff,#8282ff,#8686ff,#8a8aff,#8d8dff,#9090ff,#9393ff,#9696ff,#9898ff,#9a9aff,#9c9cff,#9d9dff,#9d9dff,#9e9eff,#9e9eff,#9f9fff,#9f9fff,#a0a0ff,#a0a0ff,#a2a2ff,#a3a3ff,#a6a6ff,#a8a8ff,#acacff,#afafff,#b4b4ff,#b9b9ff,#bebeff,#c3c3ff,#c9c9ff,#ceceff,#ceceff)"></i>
<i style="background:linear-gradient(90deg,#c0c0ff,#c0c0ff,#babaff,#b2b2ff,#aaf,#a3a3ff,#9b9bff,#9494ff,#8e8eff,#8787ff,#8282ff,#7c7cff,#7878ff,#7474ff,#7171ff,#6e6eff,#6c6cff,#6b6bff,#6a6aff,#6a6aff,#6b6bff,#6b6bff,#6c6cff,#6d6dff,#6e6eff,#6f6fff,#7070ff,#7171ff,#7171ff,#7171ff,#7171ff,#7070ff,#7070ff,#7070ff,#7070ff,#7171ff,#7272ff,#7474ff,#7676ff,#7878ff,#7b7bff,#7e7eff,#8282ff,#8585ff,#8989ff,#8c8cff,#8f8fff,#9292ff,#9595ff,#9696ff,#9898ff,#99f,#9a9aff,#9a9aff,#9b9bff,#9b9bff,#9c9cff,#9d9dff,#9e9eff,#9f9fff,#a1a1ff,#a3a3ff,#a6a6ff,#a9a9ff,#adadff,#b2b2ff,#b7b7ff,#bcbcff,#c2c2ff,#c8c8ff,#ccf,#ccf)"></i>
<i style="background:linear-gradient(90deg,#bebeff,#bebeff,#b7b7ff,#afafff,#a7a7ff,#9f9fff,#9898ff,#9191ff,#8a8aff,#8383ff,#7e7eff,#7878ff,#7474ff,#7070ff,#6d6dff,#6a6aff,#6868ff,#6767ff,#66f,#66f,#66f,#6767ff,#6868ff,#6969ff,#6a6aff,#6b6bff,#6c6cff,#6d6dff,#6d6dff,#6d6dff,#6d6dff,#6d6dff,#6c6cff,#6c6cff,#6d6dff,#6d6dff,#6e6eff,#7070ff,#7272ff,#7474ff,#77f,#7a7aff,#7e7eff,#8181ff,#8585ff,#88f,#8b8bff,#8e8eff,#9191ff,#9393ff,#9494ff,#9595ff,#9696ff,#9797ff,#9898ff,#9898ff,#99f,#9a9aff,#9b9bff,#9c9cff,#9e9eff,#a1a1ff,#a4a4ff,#a7a7ff,#ababff,#b0b0ff,#b5b5ff,#babaff,#c0c0ff,#c6c6ff,#cbcbff,#cbcbff)"></i>
<i style="background:linear-gradient(90deg,#bbf,#bbf,#b4b4ff,#acacff,#a4a4ff,#9c9cff,#9494ff,#8d8dff,#8686ff,#7f7fff,#7a7aff,#7474ff,#7070ff,#6c6cff,#6868ff,#66f,#6464ff,#6262ff,#6262ff,#6262ff,#6262ff,#6363ff,#6464ff,#6565ff,#66f,#6767ff,#6868ff,#6868ff,#6969ff,#6969ff,#6969ff,#6969ff,#6868ff,#6868ff,#6969ff,#6969ff,#6a6aff,#6c6cff,#6e6eff,#7070ff,#7373ff,#7676ff,#7a7aff,#7d7dff,#8181ff,#8484ff,#8787ff,#8a8aff,#8d8dff,#8f8fff,#9090ff,#9292ff,#9393ff,#9393ff,#9494ff,#9595ff,#9696ff,#9797ff,#9898ff,#9a9aff,#9c9cff,#9e9eff,#a1a1ff,#a5a5ff,#a9a9ff,#aeaeff,#b3b3ff,#b9b9ff,#bfbfff,#c5c5ff,#cacaff,#cacaff)"></i>
<i style="background:linear-gradient(90deg,#b8b8ff,#b8b8ff,#b1b1ff,#a9a9ff,#a0a0ff,#9898ff,#9090ff,#8989ff,#8282ff,#7b7bff,#7676ff,#7070ff,#6c6cff,#6868ff,#6464ff,#6262ff,#6060ff,#5e5eff,#5e5eff,#5d5dff,#5e5eff,#5f5fff,#6060ff,#6161ff,#6262ff,#6363ff,#6464ff,#6464ff,#6565ff,#6565ff,#6565ff,#6565ff,#6565ff,#6565ff,#6565ff,#6565ff,#66f,#6868ff,#6a6aff,#6c6cff,#6f6fff,#7272ff,#7575ff,#7979ff,#7d7dff,#8080ff,#8383ff,#8686ff,#88f,#8b8bff,#8c8cff,#8e8eff,#8f8fff,#9090ff,#9191ff,#9292ff,#9393ff,#9494ff,#9595ff,#9797ff,#99f,#9c9cff,#9f9fff,#a3a3ff,#a7a7ff,#acacff,#b1b1ff,#b7b7ff,#bdbdff,#c3c3ff,#c9c9ff,#c9c9ff)"></i>
<i style="background:linear-gradient(90deg,#b5b5ff,#b5b5ff,#aeaeff,#a5a5ff,#9d9dff,#9595ff,#8d8dff,#8585ff,#7e7eff,#7878ff,#7272ff,#6c6cff,#6767ff,#6363ff,#6060ff,#5d5dff,#5b5bff,#5a5aff,#5959ff,#5959ff,#5a5aff,#5a5aff,#5b5bff,#5d5dff,#5e5eff,#5f5fff,#6060ff,#6161ff,#6161ff,#6161ff,#6161ff,#6161ff,#6161ff,#6161ff,#6161ff,#6161ff,#6262ff,#6464ff,#66f,#6868ff,#6b6bff,#6e6eff,#7171ff,#7575ff,#7878ff,#7c7cff,#7f7fff,#8282ff,#8484ff,#8787ff,#88f,#8a8aff,#8b8bff,#8c8cff,#8d8dff,#8e8eff,#8f8fff,#9191ff,#9292ff,#9494ff,#9797ff,#99f,#9d9dff,#a1a1ff,#a5a5ff,#aaf,#afafff,#b5b5ff,#bbf,#c2c2ff,#c7c7ff,#c7c7ff)"></i>
<i style="background:linear-gradient(90deg,#b2b2ff,#b2b2ff,#ababff,#a2a2ff,#99f,#9191ff,#8989ff,#8181ff,#7a7aff,#7474ff,#6e6eff,#6868ff,#6363ff,#5f5fff,#5c5cff,#5959ff,#5757ff,#5656ff,#55f,#55f,#5656ff,#5656ff,#5757ff,#5959ff,#5a5aff,#5b5bff,#5c5cff,#5d5dff,#5d5dff,#5d5dff,#5d5dff,#5d5dff,#5d5dff,#5d5dff,#5d5dff,#5e5eff,#5e5eff,#6060ff,#6262ff,#6464ff,#6767ff,#6a6aff,#6d6dff,#7171ff,#7474ff,#7878ff,#7b7bff,#7e7eff,#8080ff,#8383ff,#8585ff,#8686ff,#88f,#8989ff,#8a8aff,#8b8bff,#8c8cff,#8e8eff,#9090ff,#9292ff,#9494ff,#9797ff,#9b9bff,#9f9fff,#a3a3ff,#a8a8ff,#aeaeff,#b4b4ff,#babaff,#c0c0ff,#c6c6ff,#c6c6ff)"></i>
<i style="background:linear-gradient(90deg,#afafff,#afafff,#a8a8ff,#9f9fff,#9696ff,#8d8dff,#8585ff,#7e7eff,#7676ff,#7070ff,#6a6aff,#6464ff,#6060ff,#5b5bff,#5858ff,#55f,#5353ff,#5252ff,#5252ff,#5151ff,#5252ff,#5353ff,#5454ff,#55f,#5656ff,#5757ff,#5858ff,#5959ff,#5959ff,#5a5aff,#5a5aff,#5a5aff,#5959ff,#5959ff,#5959ff,#5a5aff,#5b5bff,#5c5cff,#5e5eff,#6060ff,#6363ff,#66f,#6969ff,#6d6dff,#7070ff,#7474ff,#77f,#7a7aff,#7c7cff,#7f7fff,#8181ff,#8383ff,#8484ff,#8585ff,#8787ff,#88f,#8989ff,#8b8bff,#8d8dff,#8f8fff,#9292ff,#9595ff,#9898ff,#9c9cff,#a1a1ff,#a6a6ff,#acacff,#b2b2ff,#b8b8ff,#bfbfff,#c4c4ff,#c4c4ff)"></i>
<i style="background:linear-gradient(90deg,#adadff,#adadff,#a5a5ff,#9c9cff,#9393ff,#8a8aff,#8282ff,#7a7aff,#7373ff,#6c6cff,#66f,#6060ff,#5c5cff,#5858ff,#5454ff,#5252ff,#5050ff,#4e4eff,#4e4eff,#4e4eff,#4e4eff,#4f4fff,#5050ff,#5151ff,#5252ff,#5454ff,#55f,#55f,#5656ff,#5656ff,#5656ff,#5656ff,#5656ff,#5656ff,#5656ff,#5656ff,#5757ff,#5858ff,#5a5aff,#5c5cff,#5f5fff,#6262ff,#6565ff,#6969ff,#6c6cff,#7070ff,#7373ff,#7676ff,#7979ff,#7b7bff,#7d7dff,#7f7fff,#8181ff,#8282ff,#8484ff,#8585ff,#8787ff,#88f,#8a8aff,#8d8dff,#8f8fff,#9292ff,#9696ff,#9a9aff,#9f9fff,#a4a4ff,#aaf,#b0b0ff,#b7b7ff,#bdbdff,#c3c3ff,#c3c3ff)"></i>
<i style="background:linear-gradient(90deg,#aaf,#aaf,#a2a2ff,#9898ff,#8f8fff,#8686ff,#7e7eff,#7676ff,#6f6fff,#6868ff,#6262ff,#5d5dff,#5858ff,#5454ff,#5151ff,#4e4eff,#4c4cff,#4b4bff,#4a4aff,#4a4aff,#4b4bff,#4b4bff,#4d4dff,#4e4eff,#4f4fff,#5050ff,#5151ff,#5252ff,#5252ff,#5353ff,#5353ff,#5353ff,#5252ff,#5252ff,#5252ff,#5353ff,#5353ff,#55f,#5656ff,#5959ff,#5b5bff,#5e5eff,#6161ff,#6565ff,#6868ff,#6c6cff,#6f6fff,#7272ff,#7575ff,#77f,#7a7aff,#7c7cff,#7d7dff,#7f7fff,#8080ff,#8282ff,#8484ff,#8686ff,#88f,#8a8aff,#8d8dff,#9090ff,#9494ff,#9898ff,#9d9dff,#a3a3ff,#a8a8ff,#afafff,#b5b5ff,#bcbcff,#c2c2ff,#c2c2ff)"></i>
<i style="background:linear-gradient(90deg,#a7a7ff,#a7a7ff,#9f9fff,#9595ff,#8c8cff,#8383ff,#7b7bff,#7373ff,#6b6bff,#6565ff,#5f5fff,#5959ff,#55f,#5151ff,#4d4dff,#4b4bff,#4949ff,#4848ff,#4747ff,#4747ff,#4747ff,#4848ff,#4949ff,#4b4bff,#4c4cff,#4d4dff,#4e4eff,#4f4fff,#4f4fff,#5050ff,#5050ff,#4f4fff,#4f4fff,#4f4fff,#4f4fff,#4f4fff,#5050ff,#5151ff,#5353ff,#55f,#5858ff,#5b5bff,#5e5eff,#6161ff,#6565ff,#6868ff,#6b6bff,#6e6eff,#7171ff,#7474ff,#7676ff,#7878ff,#7a7aff,#7c7cff,#7e7eff,#7f7fff,#8181ff,#8383ff,#8585ff,#88f,#8b8bff,#8e8eff,#9292ff,#9696ff,#9b9bff,#a1a1ff,#a7a7ff,#adadff,#b4b4ff,#bbf,#c0c0ff,#c0c0ff)"></i>
<i style="background:linear-gradient(90deg,#a4a4ff,#a4a4ff,#9c9cff,#9292ff,#8989ff,#8080ff,#77f,#6f6fff,#6868ff,#6161ff,#5b5bff,#5656ff,#5151ff,#4e4eff,#4a4aff,#4848ff,#4646ff,#4545ff,#44f,#44f,#44f,#4545ff,#4646ff,#4848ff,#4949ff,#4a4aff,#4b4bff,#4c4cff,#4c4cff,#4d4dff,#4d4dff,#4c4cff,#4c4cff,#4c4cff,#4c4cff,#4c4cff,#4d4dff,#4e4eff,#5050ff,#5252ff,#5454ff,#5757ff,#5a5aff,#5e5eff,#6161ff,#6464ff,#6868ff,#6b6bff,#6e6eff,#7070ff,#7373ff,#7575ff,#77f,#7979ff,#7b7bff,#7d7dff,#7e7eff,#8181ff,#8383ff,#8686ff,#8989ff,#8c8cff,#9090ff,#9595ff,#9a9aff,#9f9fff,#a5a5ff,#ababff,#b2b2ff,#b9b9ff,#bfbfff,#bfbfff)"></i>
<i style="background:linear-gradient(90deg,#a1a1ff,#a1a1ff,#99f,#8f8fff,#8686ff,#7d7dff,#7474ff,#6c6cff,#6565ff,#5e5eff,#5858ff,#5353ff,#4e4eff,#4b4bff,#4747ff,#4545ff,#4343ff,#4242ff,#4141ff,#4141ff,#4242ff,#4343ff,#44f,#4545ff,#4646ff,#4747ff,#4848ff,#4949ff,#4a4aff,#4a4aff,#4a4aff,#4a4aff,#4949ff,#4949ff,#4949ff,#4949ff,#4a4aff,#4b4bff,#4d4dff,#4f4fff,#5151ff,#5454ff,#5757ff,#5a5aff,#5e5eff,#6161ff,#6464ff,#6767ff,#6a6aff,#6d6dff,#7070ff,#7272ff,#7474ff,#7676ff,#7878ff,#7a7aff,#7c7cff,#7e7eff,#8181ff,#8484ff,#8787ff,#8a8aff,#8e8eff,#9393ff,#9898ff,#9e9eff,#a4a4ff,#aaf,#b1b1ff,#b8b8ff,#bebeff,#bebeff)"></i>
<i style="background:linear-gradient(90deg,#9f9fff,#9f9fff,#9696ff,#8c8cff,#8383ff,#7a7aff,#7171ff,#6969ff,#6262ff,#5b5bff,#55f,#5050ff,#4c4cff,#4848ff,#4545ff,#4242ff,#4141ff,#4040ff,#3f3fff,#3f3fff,#3f3fff,#4040ff,#4141ff,#4343ff,#44f,#4545ff,#4646ff,#4747ff,#4747ff,#4747ff,#4747ff,#4747ff,#4747ff,#4747ff,#4646ff,#4747ff,#4747ff,#4848ff,#4a4aff,#4c4cff,#4e4eff,#5151ff,#5454ff,#5757ff,#5a5aff,#5e5eff,#6161ff,#6464ff,#6767ff,#6a6aff,#6d6dff,#6f6fff,#7171ff,#7373ff,#7676ff,#7878ff,#7a7aff,#7c7cff,#7f7fff,#8282ff,#8585ff,#8989ff,#8d8dff,#9191ff,#9797ff,#9c9cff,#a2a2ff,#a9a9ff,#b0b0ff,#b7b7ff,#bdbdff,#bdbdff)"></i>
<i style="background:linear-gradient(90deg,#9c9cff,#9c9cff,#9494ff,#8a8aff,#8080ff,#77f,#6e6eff,#66f,#5f5fff,#5959ff,#5353ff,#4e4eff,#4949ff,#4646ff,#4343ff,#4040ff,#3e3eff,#3d3dff,#3d3dff,#3d3dff,#3d3dff,#3e3eff,#3f3fff,#4141ff,#4242ff,#4343ff,#44f,#4545ff,#4545ff,#4545ff,#4545ff,#4545ff,#44f,#44f,#44f,#44f,#4545ff,#4646ff,#4747ff,#4949ff,#4b4bff,#4e4eff,#5151ff,#5454ff,#5757ff,#5b5bff,#5e5eff,#6161ff,#6464ff,#6767ff,#6a6aff,#6c6cff,#6f6fff,#7171ff,#7373ff,#7676ff,#7878ff,#7a7aff,#7d7dff,#8080ff,#8383ff,#8787ff,#8b8bff,#9090ff,#9595ff,#9b9bff,#a1a1ff,#a7a7ff,#aeaeff,#b6b6ff,#bcbcff,#bcbcff)"></i>
<i style="background:linear-gradient(90deg,#9a9aff,#9a9aff,#9191ff,#8787ff,#7d7dff,#7474ff,#6c6cff,#6464ff,#5d5dff,#5656ff,#5050ff,#4b4bff,#4747ff,#4343ff,#4141ff,#3e3eff,#3d3dff,#3c3cff,#3b3bff,#3b3bff,#3c3cff,#3d3dff,#3e3eff,#3f3fff,#4040ff,#4141ff,#4242ff,#4343ff,#4343ff,#4343ff,#4343ff,#4343ff,#4242ff,#4242ff,#4242ff,#4242ff,#4242ff,#4343ff,#4545ff,#4646ff,#4949ff,#4b4bff,#4e4eff,#5151ff,#55f,#5858ff,#5b5bff,#5f5fff,#6262ff,#6565ff,#6767ff,#6a6aff,#6d6dff,#6f6fff,#7171ff,#7474ff,#7676ff,#7979ff,#7c7cff,#7f7fff,#8282ff,#8686ff,#8a8aff,#8f8fff,#9494ff,#9a9aff,#a0a0ff,#a6a6ff,#adadff,#b4b4ff,#bbf,#bbf)"></i>
<i style="background:linear-gradient(90deg,#9898ff,#9898ff,#8f8fff,#8585ff,#7b7bff,#7272ff,#6969ff,#6161ff,#5a5aff,#5454ff,#4e4eff,#4949ff,#4545ff,#4242ff,#3f3fff,#3d3dff,#3b3bff,#3a3aff,#3a3aff,#3a3aff,#3a3aff,#3b3bff,#3c3cff,#3d3dff,#3f3fff,#4040ff,#4141ff,#4141ff,#4242ff,#4242ff,#4141ff,#4141ff,#4141ff,#4040ff,#4040ff,#4040ff,#4040ff,#4141ff,#4242ff,#44f,#4646ff,#4949ff,#4c4cff,#4f4fff,#5252ff,#5656ff,#5959ff,#5c5cff,#5f5fff,#6262ff,#6565ff,#6868ff,#6a6aff,#6d6dff,#6f6fff,#7272ff,#7575ff,#77f,#7a7aff,#7d7dff,#8181ff,#8585ff,#8989ff,#8e8eff,#9393ff,#9898ff,#9f9fff,#a5a5ff,#acacff,#b4b4ff,#babaff,#babaff)"></i>
<i style="background:linear-gradient(90deg,#9696ff,#9696ff,#8d8dff,#8383ff,#7979ff,#7070ff,#6767ff,#5f5fff,#5858ff,#5252ff,#4d4dff,#4848ff,#44f,#4040ff,#3e3eff,#3c3cff,#3a3aff,#3939ff,#3939ff,#3939ff,#3939ff,#3a3aff,#3b3bff,#3c3cff,#3e3eff,#3f3fff,#3f3fff,#4040ff,#4040ff,#4040ff,#4040ff,#4040ff,#3f3fff,#3f3fff,#3e3eff,#3e3eff,#3f3fff,#3f3fff,#4040ff,#4242ff,#44f,#4747ff,#4a4aff,#4d4dff,#5050ff,#5353ff,#5757ff,#5a5aff,#5d5dff,#6060ff,#6363ff,#66f,#6969ff,#6b6bff,#6e6eff,#7171ff,#7373ff,#7676ff,#7979ff,#7c7cff,#8080ff,#8484ff,#88f,#8d8dff,#9292ff,#9797ff,#9e9eff,#a4a4ff,#ababff,#b3b3ff,#b9b9ff,#b9b9ff)"></i>
<i style="background:linear-gradient(90deg,#9494ff,#9494ff,#8b8bff,#8181ff,#77f,#6e6eff,#6565ff,#5e5eff,#5757ff,#5050ff,#4b4bff,#4646ff,#4242ff,#3f3fff,#3d3dff,#3b3bff,#3939ff,#3838ff,#3838ff,#3838ff,#3939ff,#3a3aff,#3b3bff,#3c3cff,#3d3dff,#3e3eff,#3f3fff,#3f3fff,#3f3fff,#3f3fff,#3f3fff,#3f3fff,#3e3eff,#3d3dff,#3d3dff,#3d3dff,#3d3dff,#3e3eff,#3f3fff,#4040ff,#4242ff,#4545ff,#4848ff,#4b4bff,#4e4eff,#5151ff,#55f,#5858ff,#5b5bff,#5e5eff,#6161ff,#6464ff,#6767ff,#6a6aff,#6d6dff,#6f6fff,#7272ff,#7575ff,#7878ff,#7b7bff,#7f7fff,#8383ff,#8787ff,#8c8cff,#9191ff,#9797ff,#9d9dff,#a3a3ff,#ababff,#b2b2ff,#b8b8ff,#b8b8ff)"></i>
<i style="background:linear-gradient(90deg,#9292ff,#9292ff,#8989ff,#7f7fff,#7575ff,#6c6cff,#6464ff,#5c5cff,#55f,#4f4fff,#4a4aff,#4545ff,#4242ff,#3e3eff,#3c3cff,#3a3aff,#3939ff,#3838ff,#3838ff,#3838ff,#3939ff,#3939ff,#3a3aff,#3b3bff,#3d3dff,#3d3dff,#3e3eff,#3f3fff,#3f3fff,#3f3fff,#3e3eff,#3e3eff,#3d3dff,#3d3dff,#3c3cff,#3c3cff,#3c3cff,#3c3cff,#3d3dff,#3f3fff,#4141ff,#4343ff,#4646ff,#4949ff,#4c4cff,#5050ff,#5353ff,#5656ff,#5a5aff,#5d5dff,#6060ff,#6363ff,#66f,#6969ff,#6c6cff,#6e6eff,#7171ff,#7474ff,#77f,#7b7bff,#7e7eff,#8282ff,#8686ff,#8b8bff,#9090ff,#9696ff,#9c9cff,#a3a3ff,#aaf,#b1b1ff,#b7b7ff,#b7b7ff)"></i>
<i style="background:linear-gradient(90deg,#9191ff,#9191ff,#88f,#7d7dff,#7474ff,#6a6aff,#6262ff,#5b5bff,#5454ff,#4e4eff,#4949ff,#4545ff,#4141ff,#3e3eff,#3c3cff,#3a3aff,#3939ff,#3838ff,#3838ff,#3838ff,#3939ff,#3939ff,#3a3aff,#3b3bff,#3d3dff,#3d3dff,#3e3eff,#3e3eff,#3f3fff,#3e3eff,#3e3eff,#3d3dff,#3d3dff,#3c3cff,#3b3bff,#3b3bff,#3b3bff,#3b3bff,#3c3cff,#3e3eff,#4040ff,#4242ff,#4545ff,#4848ff,#4b4bff,#4e4eff,#5252ff,#55f,#5858ff,#5c5cff,#5f5fff,#6262ff,#6565ff,#6868ff,#6b6bff,#6e6eff,#7171ff,#7474ff,#77f,#7a7aff,#7e7eff,#8282ff,#8686ff,#8b8bff,#9090ff,#9595ff,#9c9cff,#a2a2ff,#a9a9ff,#b1b1ff,#b7b7ff,#b7b7ff)"></i>
<i style="background:linear-gradient(90deg,#8f8fff,#8f8fff,#8686ff,#7c7cff,#7272ff,#6969ff,#6161ff,#5a5aff,#5353ff,#4d4dff,#4848ff,#44f,#4141ff,#3e3eff,#3c3cff,#3a3aff,#3939ff,#3838ff,#3838ff,#3939ff,#3939ff,#3a3aff,#3b3bff,#3c3cff,#3d3dff,#3e3eff,#3e3eff,#3f3fff,#3f3fff,#3e3eff,#3e3eff,#3d3dff,#3c3cff,#3c3cff,#3b3bff,#3a3aff,#3a3aff,#3b3bff,#3c3cff,#3d3dff,#3f3fff,#4141ff,#44f,#4747ff,#4a4aff,#4d4dff,#5050ff,#5454ff,#5757ff,#5b5bff,#5e5eff,#6161ff,#6464ff,#6767ff,#6a6aff,#6d6dff,#7070ff,#7373ff,#77f,#7a7aff,#7e7eff,#8181ff,#8686ff,#8a8aff,#9090ff,#9595ff,#9b9bff,#a2a2ff,#a9a9ff,#b0b0ff,#b6b6ff,#b6b6ff)"></i>
<i style="background:linear-gradient(90deg,#8e8eff,#8e8eff,#8585ff,#7b7bff,#7171ff,#6868ff,#6060ff,#5959ff,#5353ff,#4d4dff,#4848ff,#44f,#4141ff,#3e3eff,#3c3cff,#3b3bff,#3a3aff,#3939ff,#3939ff,#3939ff,#3a3aff,#3b3bff,#3c3cff,#3d3dff,#3e3eff,#3e3eff,#3f3fff,#3f3fff,#3f3fff,#3f3fff,#3e3eff,#3d3dff,#3c3cff,#3b3bff,#3b3bff,#3a3aff,#3a3aff,#3a3aff,#3b3bff,#3c3cff,#3e3eff,#4040ff,#4343ff,#4646ff,#4949ff,#4c4cff,#5050ff,#5353ff,#5757ff,#5a5aff,#5d5dff,#6161ff,#6464ff,#6767ff,#6a6aff,#6d6dff,#7070ff,#7373ff,#77f,#7a7aff,#7e7eff,#8181ff,#8686ff,#8a8aff,#8f8fff,#9595ff,#9b9bff,#a1a1ff,#a8a8ff,#b0b0ff,#b6b6ff,#b6b6ff)"></i>
<i style="background:linear-gradient(90deg,#8d8dff,#8d8dff,#8484ff,#7a7aff,#7070ff,#6767ff,#5f5fff,#5858ff,#5252ff,#4d4dff,#4848ff,#44f,#4141ff,#3f3fff,#3d3dff,#3c3cff,#3b3bff,#3a3aff,#3a3aff,#3a3aff,#3b3bff,#3c3cff,#3d3dff,#3e3eff,#3f3fff,#3f3fff,#4040ff,#4040ff,#4040ff,#3f3fff,#3f3fff,#3e3eff,#3d3dff,#3c3cff,#3b3bff,#3a3aff,#3a3aff,#3a3aff,#3b3bff,#3c3cff,#3e3eff,#4040ff,#4242ff,#4545ff,#4848ff,#4c4cff,#4f4fff,#5353ff,#5656ff,#5a5aff,#5d5dff,#6161ff,#6464ff,#6767ff,#6a6aff,#6d6dff,#7070ff,#7474ff,#77f,#7a7aff,#7e7eff,#8282ff,#8686ff,#8a8aff,#8f8fff,#9595ff,#9b9bff,#a1a1ff,#a8a8ff,#afafff,#b6b6ff,#b6b6ff)"></i>
<i style="background:linear-gradient(90deg,#8c8cff,#8c8cff,#8383ff,#7979ff,#7070ff,#6767ff,#5f5fff,#5858ff,#5252ff,#4d4dff,#4949ff,#4545ff,#4242ff,#4040ff,#3e3eff,#3d3dff,#3c3cff,#3c3cff,#3c3cff,#3c3cff,#3d3dff,#3d3dff,#3e3eff,#3f3fff,#4040ff,#4040ff,#4141ff,#4141ff,#4141ff,#4040ff,#3f3fff,#3e3eff,#3d3dff,#3c3cff,#3b3bff,#3b3bff,#3a3aff,#3a3aff,#3b3bff,#3c3cff,#3e3eff,#4040ff,#4242ff,#4545ff,#4848ff,#4c4cff,#4f4fff,#5353ff,#5656ff,#5a5aff,#5d5dff,#6161ff,#6464ff,#6767ff,#6b6bff,#6e6eff,#7171ff,#7474ff,#77f,#7b7bff,#7e7eff,#8282ff,#8686ff,#8b8bff,#8f8fff,#9595ff,#9b9bff,#a1a1ff,#a8a8ff,#afafff,#b5b5ff,#b5b5ff)"></i>
<i style="background:linear-gradient(90deg,#8b8bff,#8b8bff,#8282ff,#7878ff,#6f6fff,#6767ff,#5f5fff,#5858ff,#5252ff,#4d4dff,#4949ff,#4646ff,#4343ff,#4141ff,#3f3fff,#3e3eff,#3e3eff,#3d3dff,#3d3dff,#3e3eff,#3e3eff,#3f3fff,#4040ff,#4141ff,#4141ff,#4242ff,#4242ff,#4242ff,#4242ff,#4141ff,#4040ff,#3f3fff,#3e3eff,#3d3dff,#3c3cff,#3b3bff,#3b3bff,#3b3bff,#3b3bff,#3c3cff,#3e3eff,#4040ff,#4242ff,#4545ff,#4848ff,#4c4cff,#4f4fff,#5353ff,#5656ff,#5a5aff,#5e5eff,#6161ff,#6464ff,#6868ff,#6b6bff,#6e6eff,#7272ff,#7575ff,#7878ff,#7b7bff,#7f7fff,#8282ff,#8787ff,#8b8bff,#9090ff,#9595ff,#9b9bff,#a1a1ff,#a8a8ff,#afafff,#b5b5ff,#b5b5ff)"></i>
<i style="background:linear-gradient(90deg,#8b8bff,#8b8bff,#8282ff,#7878ff,#6f6fff,#6767ff,#5f5fff,#5959ff,#5353ff,#4e4eff,#4a4aff,#4747ff,#44f,#4242ff,#4141ff,#4040ff,#3f3fff,#3f3fff,#3f3fff,#4040ff,#4040ff,#4141ff,#4242ff,#4343ff,#4343ff,#44f,#44f,#44f,#4343ff,#4343ff,#4242ff,#4141ff,#3f3fff,#3e3eff,#3d3dff,#3c3cff,#3c3cff,#3c3cff,#3c3cff,#3d3dff,#3e3eff,#4040ff,#4343ff,#4646ff,#4949ff,#4c4cff,#4f4fff,#5353ff,#5757ff,#5a5aff,#5e5eff,#6262ff,#6565ff,#6969ff,#6c6cff,#6f6fff,#7272ff,#7676ff,#7979ff,#7c7cff,#8080ff,#8383ff,#8787ff,#8b8bff,#9090ff,#9595ff,#9b9bff,#a1a1ff,#a8a8ff,#afafff,#b5b5ff,#b5b5ff)"></i>
<i style="background:linear-gradient(90deg,#8a8aff,#8a8aff,#8282ff,#7878ff,#6f6fff,#6767ff,#5f5fff,#5959ff,#5454ff,#4f4fff,#4b4bff,#4848ff,#4646ff,#44f,#4343ff,#4242ff,#4141ff,#4141ff,#4242ff,#4242ff,#4343ff,#4343ff,#44f,#4545ff,#4545ff,#4646ff,#4646ff,#4646ff,#4545ff,#44f,#4343ff,#4242ff,#4141ff,#3f3fff,#3e3eff,#3d3dff,#3d3dff,#3c3cff,#3d3dff,#3e3eff,#3f3fff,#4141ff,#4343ff,#4646ff,#4949ff,#4d4dff,#5050ff,#5454ff,#5858ff,#5b5bff,#5f5fff,#6363ff,#66f,#6a6aff,#6d6dff,#7070ff,#7474ff,#77f,#7a7aff,#7d7dff,#8080ff,#8484ff,#88f,#8c8cff,#9191ff,#9696ff,#9c9cff,#a2a2ff,#a8a8ff,#afafff,#b5b5ff,#b5b5ff)"></i>
<i style="background:linear-gradient(90deg,#8a8aff,#8a8aff,#8282ff,#7878ff,#6f6fff,#6767ff,#6060ff,#5a5aff,#55f,#5050ff,#4d4dff,#4a4aff,#4848ff,#4646ff,#4545ff,#44f,#44f,#44f,#44f,#44f,#4545ff,#4646ff,#4747ff,#4747ff,#4848ff,#4848ff,#4848ff,#4848ff,#4747ff,#4646ff,#4545ff,#44f,#4242ff,#4141ff,#3f3fff,#3e3eff,#3e3eff,#3e3eff,#3e3eff,#3f3fff,#4040ff,#4242ff,#44f,#4747ff,#4a4aff,#4d4dff,#5151ff,#55f,#5959ff,#5c5cff,#6060ff,#6464ff,#6767ff,#6b6bff,#6e6eff,#7272ff,#7575ff,#7878ff,#7b7bff,#7e7eff,#8282ff,#8585ff,#8989ff,#8d8dff,#9292ff,#9797ff,#9c9cff,#a2a2ff,#a9a9ff,#afafff,#b5b5ff,#b5b5ff)"></i>
<i style="background:linear-gradient(90deg,#8a8aff,#8a8aff,#8282ff,#7878ff,#6f6fff,#6868ff,#6161ff,#5b5bff,#5656ff,#5252ff,#4e4eff,#4c4cff,#4a4aff,#4848ff,#4747ff,#4747ff,#4646ff,#4646ff,#4747ff,#4747ff,#4848ff,#4949ff,#4949ff,#4a4aff,#4a4aff,#4b4bff,#4b4bff,#4a4aff,#4949ff,#4848ff,#4747ff,#4646ff,#44f,#4242ff,#4141ff,#4040ff,#3f3fff,#3f3fff,#3f3fff,#4040ff,#4141ff,#4343ff,#4545ff,#4848ff,#4b4bff,#4f4fff,#5252ff,#5656ff,#5a5aff,#5e5eff,#6262ff,#6565ff,#6969ff,#6d6dff,#7070ff,#7373ff,#7676ff,#7a7aff,#7d7dff,#8080ff,#8383ff,#8686ff,#8a8aff,#8e8eff,#9292ff,#9797ff,#9d9dff,#a3a3ff,#a9a9ff,#b0b0ff,#b6b6ff,#b6b6ff)"></i>
<i style="background:linear-gradient(90deg,#8a8aff,#8a8aff,#8282ff,#7878ff,#7070ff,#6868ff,#6262ff,#5c5cff,#5757ff,#5353ff,#5050ff,#4e4eff,#4c4cff,#4b4bff,#4a4aff,#4949ff,#4949ff,#4949ff,#4a4aff,#4a4aff,#4b4bff,#4b4bff,#4c4cff,#4d4dff,#4d4dff,#4d4dff,#4d4dff,#4d4dff,#4c4cff,#4b4bff,#4949ff,#4848ff,#4646ff,#44f,#4343ff,#4242ff,#4141ff,#4040ff,#4141ff,#4141ff,#4343ff,#44f,#4747ff,#4949ff,#4d4dff,#5050ff,#5454ff,#5757ff,#5b5bff,#5f5fff,#6363ff,#6767ff,#6b6bff,#6e6eff,#7272ff,#7575ff,#7878ff,#7b7bff,#7e7eff,#8181ff,#8484ff,#88f,#8b8bff,#8f8fff,#9393ff,#9898ff,#9d9dff,#a3a3ff,#a9a9ff,#b0b0ff,#b6b6ff,#b6b6ff)"></i>
<i style="background:linear-gradient(90deg,#8a8aff,#8a8aff,#8282ff,#7979ff,#7171ff,#6969ff,#6363ff,#5d5dff,#5959ff,#55f,#5252ff,#5050ff,#4e4eff,#4d4dff,#4c4cff,#4c4cff,#4c4cff,#4c4cff,#4d4dff,#4d4dff,#4e4eff,#4e4eff,#4f4fff,#5050ff,#5050ff,#5050ff,#5050ff,#4f4fff,#4e4eff,#4d4dff,#4b4bff,#4a4aff,#4848ff,#4646ff,#4545ff,#4343ff,#4242ff,#4242ff,#4242ff,#4343ff,#44f,#4646ff,#4848ff,#4b4bff,#4e4eff,#5252ff,#55f,#5959ff,#5d5dff,#6161ff,#6565ff,#6969ff,#6d6dff,#7070ff,#7474ff,#77f,#7a7aff,#7d7dff,#8080ff,#8383ff,#8686ff,#8989ff,#8d8dff,#9090ff,#9494ff,#99f,#9e9eff,#a4a4ff,#aaf,#b0b0ff,#b6b6ff,#b6b6ff)"></i>
<i style="background:linear-gradient(90deg,#8b8bff,#8b8bff,#8383ff,#7a7aff,#7171ff,#6a6aff,#6464ff,#5f5fff,#5a5aff,#5757ff,#5454ff,#5252ff,#5151ff,#5050ff,#4f4fff,#4f4fff,#4f4fff,#4f4fff,#5050ff,#5050ff,#5151ff,#5252ff,#5252ff,#5353ff,#5353ff,#5353ff,#5252ff,#5252ff,#5151ff,#4f4fff,#4e4eff,#4c4cff,#4a4aff,#4848ff,#4747ff,#4545ff,#44f,#44f,#44f,#4545ff,#4646ff,#4848ff,#4a4aff,#4d4dff,#5050ff,#5353ff,#5757ff,#5b5bff,#5f5fff,#6363ff,#6767ff,#6b6bff,#6f6fff,#7272ff,#7676ff,#7979ff,#7c7cff,#7f7fff,#8282ff,#8585ff,#88f,#8b8bff,#8e8eff,#9292ff,#9696ff,#9a9aff,#9f9fff,#a5a5ff,#ababff,#b1b1ff,#b7b7ff,#b7b7ff)"></i>
<i style="background:linear-gradient(90deg,#8b8bff,#8b8bff,#8383ff,#7a7aff,#7272ff,#6b6bff,#6565ff,#6060ff,#5c5cff,#5959ff,#5757ff,#55f,#5353ff,#5353ff,#5252ff,#5252ff,#5252ff,#5252ff,#5353ff,#5454ff,#5454ff,#55f,#55f,#5656ff,#5656ff,#5656ff,#55f,#55f,#5353ff,#5252ff,#5050ff,#4e4eff,#4c4cff,#4b4bff,#4949ff,#4747ff,#4646ff,#4646ff,#4646ff,#4646ff,#4848ff,#4949ff,#4c4cff,#4f4fff,#5252ff,#55f,#5959ff,#5d5dff,#6161ff,#6565ff,#6969ff,#6d6dff,#7171ff,#7575ff,#7878ff,#7b7bff,#7e7eff,#8181ff,#8484ff,#8787ff,#8a8aff,#8c8cff,#9090ff,#9393ff,#9797ff,#9b9bff,#a0a0ff,#a5a5ff,#ababff,#b2b2ff,#b7b7ff,#b7b7ff)"></i>
<i style="background:linear-gradient(90deg,#8c8cff,#8c8cff,#8484ff,#7b7bff,#7474ff,#6d6dff,#6767ff,#6262ff,#5e5eff,#5b5bff,#5959ff,#5757ff,#5656ff,#5656ff,#55f,#55f,#55f,#5656ff,#5656ff,#5757ff,#5757ff,#5858ff,#5959ff,#5959ff,#5959ff,#5959ff,#5858ff,#5757ff,#5656ff,#55f,#5353ff,#5151ff,#4f4fff,#4d4dff,#4b4bff,#4a4aff,#4848ff,#4848ff,#4848ff,#4848ff,#4a4aff,#4b4bff,#4e4eff,#5151ff,#5454ff,#5858ff,#5b5bff,#5f5fff,#6464ff,#6868ff,#6c6cff,#7070ff,#7474ff,#77f,#7b7bff,#7e7eff,#8181ff,#8484ff,#8686ff,#8989ff,#8b8bff,#8e8eff,#9191ff,#9494ff,#9898ff,#9c9cff,#a1a1ff,#a6a6ff,#acacff,#b2b2ff,#b8b8ff,#b8b8ff)"></i>
<i style="background:linear-gradient(90deg,#8d8dff,#8d8dff,#8585ff,#7c7cff,#7575ff,#6e6eff,#6969ff,#6464ff,#6060ff,#5e5eff,#5b5bff,#5a5aff,#5959ff,#5959ff,#5858ff,#5858ff,#5959ff,#5959ff,#5a5aff,#5a5aff,#5b5bff,#5b5bff,#5c5cff,#5c5cff,#5c5cff,#5c5cff,#5b5bff,#5a5aff,#5959ff,#5757ff,#55f,#5353ff,#5151ff,#4f4fff,#4d4dff,#4c4cff,#4b4bff,#4a4aff,#4a4aff,#4b4bff,#4c4cff,#4e4eff,#5050ff,#5353ff,#5656ff,#5a5aff,#5e5eff,#6262ff,#66f,#6a6aff,#6e6eff,#7272ff,#7676ff,#7a7aff,#7d7dff,#8080ff,#8383ff,#8686ff,#88f,#8b8bff,#8d8dff,#9090ff,#9393ff,#9696ff,#9a9aff,#9e9eff,#a2a2ff,#a7a7ff,#adadff,#b3b3ff,#b8b8ff,#b8b8ff)"></i>
<i style="background:linear-gradient(90deg,#8d8dff,#8d8dff,#8686ff,#7e7eff,#7676ff,#7070ff,#6a6aff,#66f,#6363ff,#6060ff,#5e5eff,#5d5dff,#5c5cff,#5c5cff,#5b5bff,#5c5cff,#5c5cff,#5c5cff,#5d5dff,#5e5eff,#5e5eff,#5f5fff,#5f5fff,#5f5fff,#5f5fff,#5f5fff,#5e5eff,#5d5dff,#5c5cff,#5a5aff,#5858ff,#5656ff,#5454ff,#5252ff,#5050ff,#4e4eff,#4d4dff,#4c4cff,#4c4cff,#4d4dff,#4e4eff,#5050ff,#5252ff,#55f,#5858ff,#5c5cff,#6060ff,#6464ff,#6969ff,#6d6dff,#7171ff,#7575ff,#7979ff,#7d7dff,#8080ff,#8383ff,#8686ff,#88f,#8b8bff,#8d8dff,#8f8fff,#9292ff,#9595ff,#9898ff,#9b9bff,#9f9fff,#a3a3ff,#a8a8ff,#aeaeff,#b4b4ff,#b9b9ff,#b9b9ff)"></i>
<i style="background:linear-gradient(90deg,#8e8eff,#8e8eff,#8787ff,#7f7fff,#7878ff,#7171ff,#6c6cff,#6868ff,#6565ff,#6262ff,#6161ff,#6060ff,#5f5fff,#5f5fff,#5f5fff,#5f5fff,#5f5fff,#6060ff,#6060ff,#6161ff,#6161ff,#6262ff,#6262ff,#6262ff,#6262ff,#6262ff,#6161ff,#6060ff,#5f5fff,#5d5dff,#5b5bff,#5959ff,#5656ff,#5454ff,#5252ff,#5050ff,#4f4fff,#4f4fff,#4e4eff,#4f4fff,#5050ff,#5252ff,#55f,#5858ff,#5b5bff,#5f5fff,#6363ff,#6767ff,#6b6bff,#7070ff,#7474ff,#7878ff,#7c7cff,#7f7fff,#8383ff,#8686ff,#88f,#8b8bff,#8d8dff,#8f8fff,#9292ff,#9494ff,#9696ff,#99f,#9d9dff,#a0a0ff,#a5a5ff,#a9a9ff,#afafff,#b4b4ff,#babaff,#babaff)"></i>
<i style="background:linear-gradient(90deg,#8f8fff,#8f8fff,#88f,#8080ff,#7979ff,#7373ff,#6e6eff,#6a6aff,#6767ff,#6565ff,#6363ff,#6262ff,#6262ff,#6262ff,#6262ff,#6262ff,#6363ff,#6363ff,#6464ff,#6464ff,#6565ff,#6565ff,#6565ff,#66f,#6565ff,#6565ff,#6464ff,#6363ff,#6161ff,#6060ff,#5d5dff,#5b5bff,#5959ff,#5757ff,#5454ff,#5353ff,#5252ff,#5151ff,#5151ff,#5151ff,#5353ff,#5454ff,#5757ff,#5a5aff,#5d5dff,#6161ff,#66f,#6a6aff,#6e6eff,#7373ff,#77f,#7b7bff,#7f7fff,#8282ff,#8585ff,#88f,#8b8bff,#8d8dff,#9090ff,#9292ff,#9494ff,#9696ff,#9898ff,#9b9bff,#9e9eff,#a2a2ff,#a6a6ff,#aaf,#b0b0ff,#b5b5ff,#babaff,#babaff)"></i>
<i style="background:linear-gradient(90deg,#9090ff,#9090ff,#8989ff,#8181ff,#7b7bff,#7575ff,#7070ff,#6c6cff,#6969ff,#6767ff,#66f,#6565ff,#6565ff,#6565ff,#6565ff,#6565ff,#66f,#66f,#6767ff,#6767ff,#6868ff,#6868ff,#6969ff,#6969ff,#6868ff,#6868ff,#6767ff,#66f,#6464ff,#6262ff,#6060ff,#5e5eff,#5b5bff,#5959ff,#5757ff,#55f,#5454ff,#5353ff,#5353ff,#5454ff,#55f,#5757ff,#5959ff,#5d5dff,#6060ff,#6464ff,#6868ff,#6d6dff,#7171ff,#7676ff,#7a7aff,#7e7eff,#8282ff,#8585ff,#88f,#8b8bff,#8e8eff,#9090ff,#9292ff,#9494ff,#9696ff,#9898ff,#9a9aff,#9d9dff,#a0a0ff,#a3a3ff,#a7a7ff,#acacff,#b1b1ff,#b6b6ff,#bbf,#bbf)"></i>
<i style="background:linear-gradient(90deg,#9191ff,#9191ff,#8a8aff,#8383ff,#7c7cff,#77f,#7272ff,#6e6eff,#6c6cff,#6a6aff,#6969ff,#6868ff,#6868ff,#6868ff,#6868ff,#6868ff,#6969ff,#6969ff,#6a6aff,#6b6bff,#6b6bff,#6b6bff,#6c6cff,#6c6cff,#6b6bff,#6b6bff,#6a6aff,#6868ff,#6767ff,#6565ff,#6363ff,#6060ff,#5e5eff,#5b5bff,#5959ff,#5858ff,#5656ff,#55f,#55f,#5656ff,#5757ff,#5959ff,#5c5cff,#5f5fff,#6363ff,#6767ff,#6b6bff,#7070ff,#7474ff,#7979ff,#7d7dff,#8181ff,#8585ff,#88f,#8b8bff,#8e8eff,#9191ff,#9393ff,#9595ff,#9696ff,#9898ff,#9a9aff,#9c9cff,#9e9eff,#a1a1ff,#a5a5ff,#a8a8ff,#adadff,#b2b2ff,#b7b7ff,#bcbcff,#bcbcff)"></i>
<i style="background:linear-gradient(90deg,#9292ff,#9292ff,#8c8cff,#8484ff,#7e7eff,#7878ff,#7474ff,#7171ff,#6e6eff,#6c6cff,#6b6bff,#6b6bff,#6b6bff,#6b6bff,#6b6bff,#6c6cff,#6c6cff,#6d6dff,#6d6dff,#6e6eff,#6e6eff,#6e6eff,#6f6fff,#6e6eff,#6e6eff,#6d6dff,#6c6cff,#6b6bff,#6969ff,#6767ff,#6565ff,#6363ff,#6060ff,#5e5eff,#5c5cff,#5a5aff,#5959ff,#5858ff,#5858ff,#5858ff,#5a5aff,#5c5cff,#5e5eff,#6262ff,#6565ff,#6a6aff,#6e6eff,#7373ff,#77f,#7c7cff,#8080ff,#8484ff,#88f,#8b8bff,#8e8eff,#9191ff,#9393ff,#9595ff,#9797ff,#99f,#9a9aff,#9c9cff,#9e9eff,#a0a0ff,#a3a3ff,#a6a6ff,#aaf,#aeaeff,#b3b3ff,#b8b8ff,#bdbdff,#bdbdff)"></i>
<i style="background:linear-gradient(90deg,#9393ff,#9393ff,#8d8dff,#8686ff,#7f7fff,#7a7aff,#7676ff,#7373ff,#7070ff,#6f6fff,#6e6eff,#6d6dff,#6d6dff,#6e6eff,#6e6eff,#6f6fff,#6f6fff,#7070ff,#7070ff,#7171ff,#7171ff,#7171ff,#7171ff,#7171ff,#7171ff,#7070ff,#6f6fff,#6e6eff,#6c6cff,#6a6aff,#6868ff,#6565ff,#6363ff,#6060ff,#5e5eff,#5c5cff,#5b5bff,#5a5aff,#5a5aff,#5b5bff,#5c5cff,#5e5eff,#6161ff,#6464ff,#6868ff,#6c6cff,#7171ff,#7676ff,#7a7aff,#7f7fff,#8383ff,#8787ff,#8b8bff,#8e8eff,#9191ff,#9494ff,#9696ff,#9898ff,#9a9aff,#9b9bff,#9d9dff,#9e9eff,#a0a0ff,#a2a2ff,#a5a5ff,#a7a7ff,#ababff,#afafff,#b4b4ff,#b9b9ff,#bebeff,#bebeff)"></i>
<i style="background:linear-gradient(90deg,#9595ff,#9595ff,#8e8eff,#8787ff,#8181ff,#7c7cff,#7878ff,#7575ff,#7373ff,#7171ff,#7171ff,#7070ff,#7070ff,#7171ff,#7171ff,#7171ff,#7272ff,#7373ff,#7373ff,#7373ff,#7474ff,#7474ff,#7474ff,#7474ff,#7373ff,#7373ff,#7272ff,#7070ff,#6e6eff,#6c6cff,#6a6aff,#6767ff,#6565ff,#6262ff,#6060ff,#5e5eff,#5d5dff,#5c5cff,#5c5cff,#5d5dff,#5f5fff,#6161ff,#6464ff,#6767ff,#6b6bff,#6f6fff,#7474ff,#7979ff,#7d7dff,#8282ff,#8686ff,#8a8aff,#8e8eff,#9191ff,#9494ff,#9797ff,#99f,#9b9bff,#9c9cff,#9d9dff,#9f9fff,#a0a0ff,#a2a2ff,#a4a4ff,#a6a6ff,#a9a9ff,#acacff,#b0b0ff,#b5b5ff,#babaff,#bebeff,#bebeff)"></i>
<i style="background:linear-gradient(90deg,#9696ff,#9696ff,#8f8fff,#8989ff,#8383ff,#7e7eff,#7a7aff,#77f,#7575ff,#7474ff,#7373ff,#7373ff,#7373ff,#7373ff,#7474ff,#7474ff,#7575ff,#7575ff,#7676ff,#7676ff,#77f,#77f,#77f,#7676ff,#7676ff,#7575ff,#7474ff,#7373ff,#7171ff,#6f6fff,#6c6cff,#6a6aff,#6767ff,#6565ff,#6363ff,#6161ff,#5f5fff,#5f5fff,#5f5fff,#6060ff,#6161ff,#6363ff,#66f,#6a6aff,#6e6eff,#7272ff,#77f,#7c7cff,#8080ff,#8585ff,#8989ff,#8d8dff,#9191ff,#9494ff,#9797ff,#9a9aff,#9b9bff,#9d9dff,#9f9fff,#a0a0ff,#a1a1ff,#a2a2ff,#a4a4ff,#a5a5ff,#a8a8ff,#aaf,#aeaeff,#b2b2ff,#b6b6ff,#bbf,#bfbfff,#bfbfff)"></i>
<i style="background:linear-gradient(90deg,#9797ff,#9797ff,#9191ff,#8a8aff,#8484ff,#8080ff,#7c7cff,#7979ff,#77f,#7676ff,#7676ff,#7575ff,#7676ff,#7676ff,#77f,#77f,#7878ff,#7878ff,#7979ff,#7979ff,#7979ff,#7979ff,#7979ff,#7979ff,#7878ff,#7878ff,#7676ff,#7575ff,#7373ff,#7171ff,#6f6fff,#6c6cff,#6969ff,#6767ff,#6565ff,#6363ff,#6262ff,#6161ff,#6161ff,#6262ff,#6363ff,#66f,#6969ff,#6c6cff,#7070ff,#7575ff,#7a7aff,#7f7fff,#8383ff,#88f,#8c8cff,#9090ff,#9494ff,#9797ff,#9a9aff,#9c9cff,#9e9eff,#a0a0ff,#a1a1ff,#a2a2ff,#a3a3ff,#a4a4ff,#a6a6ff,#a7a7ff,#a9a9ff,#acacff,#afafff,#b3b3ff,#b7b7ff,#bcbcff,#c0c0ff,#c0c0ff)"></i>
<i style="background:linear-gradient(90deg,#9898ff,#9898ff,#9292ff,#8c8cff,#8686ff,#8181ff,#7e7eff,#7b7bff,#7a7aff,#7979ff,#7878ff,#7878ff,#7878ff,#7979ff,#7979ff,#7a7aff,#7a7aff,#7b7bff,#7b7bff,#7b7bff,#7c7cff,#7c7cff,#7c7cff,#7b7bff,#7b7bff,#7a7aff,#7979ff,#77f,#7575ff,#7373ff,#7171ff,#6e6eff,#6c6cff,#6969ff,#6767ff,#6565ff,#6464ff,#6363ff,#6363ff,#6464ff,#66f,#6868ff,#6b6bff,#6f6fff,#7373ff,#7878ff,#7d7dff,#8181ff,#8686ff,#8b8bff,#8f8fff,#9393ff,#9797ff,#9a9aff,#9d9dff,#9f9fff,#a1a1ff,#a2a2ff,#a3a3ff,#a4a4ff,#a5a5ff,#a6a6ff,#a7a7ff,#a9a9ff,#ababff,#adadff,#b0b0ff,#b4b4ff,#b8b8ff,#bdbdff,#c1c1ff,#c1c1ff)"></i>
<i style="background:linear-gradient(90deg,#99f,#99f,#9393ff,#8d8dff,#88f,#8383ff,#8080ff,#7d7dff,#7c7cff,#7b7bff,#7a7aff,#7a7aff,#7b7bff,#7b7bff,#7c7cff,#7c7cff,#7d7dff,#7d7dff,#7d7dff,#7e7eff,#7e7eff,#7e7eff,#7e7eff,#7d7dff,#7d7dff,#7c7cff,#7b7bff,#7979ff,#77f,#7575ff,#7373ff,#7070ff,#6e6eff,#6b6bff,#6969ff,#6767ff,#66f,#66f,#66f,#6767ff,#6868ff,#6b6bff,#6e6eff,#7272ff,#7676ff,#7b7bff,#7f7fff,#8484ff,#8989ff,#8e8eff,#9292ff,#9696ff,#9a9aff,#9d9dff,#a0a0ff,#a2a2ff,#a3a3ff,#a5a5ff,#a6a6ff,#a6a6ff,#a7a7ff,#a8a8ff,#a9a9ff,#ababff,#acacff,#afafff,#b2b2ff,#b5b5ff,#b9b9ff,#bebeff,#c2c2ff,#c2c2ff)"></i>
<i style="background:linear-gradient(90deg,#9b9bff,#9b9bff,#9595ff,#8f8fff,#8989ff,#8585ff,#8282ff,#7f7fff,#7e7eff,#7d7dff,#7d7dff,#7d7dff,#7d7dff,#7e7eff,#7e7eff,#7f7fff,#7f7fff,#7f7fff,#8080ff,#8080ff,#8080ff,#8080ff,#8080ff,#7f7fff,#7f7fff,#7e7eff,#7d7dff,#7b7bff,#7979ff,#77f,#7575ff,#7272ff,#7070ff,#6d6dff,#6b6bff,#6a6aff,#6868ff,#6868ff,#6868ff,#6969ff,#6b6bff,#6d6dff,#7171ff,#7474ff,#7979ff,#7d7dff,#8282ff,#8787ff,#8c8cff,#9191ff,#9595ff,#99f,#9d9dff,#a0a0ff,#a2a2ff,#a4a4ff,#a6a6ff,#a7a7ff,#a8a8ff,#a8a8ff,#a9a9ff,#aaf,#ababff,#acacff,#aeaeff,#b0b0ff,#b3b3ff,#b6b6ff,#babaff,#bfbfff,#c3c3ff,#c3c3ff)"></i>
<i style="background:linear-gradient(90deg,#9c9cff,#9c9cff,#9696ff,#9090ff,#8b8bff,#8787ff,#8484ff,#8181ff,#8080ff,#7f7fff,#7f7fff,#7f7fff,#8080ff,#8080ff,#8181ff,#8181ff,#8181ff,#8282ff,#8282ff,#8282ff,#8282ff,#8282ff,#8282ff,#8181ff,#8181ff,#8080ff,#7f7fff,#7d7dff,#7b7bff,#7979ff,#77f,#7474ff,#7272ff,#6f6fff,#6d6dff,#6c6cff,#6a6aff,#6a6aff,#6a6aff,#6b6bff,#6d6dff,#7070ff,#7373ff,#77f,#7b7bff,#8080ff,#8585ff,#8a8aff,#8f8fff,#9494ff,#9898ff,#9c9cff,#a0a0ff,#a3a3ff,#a5a5ff,#a7a7ff,#a8a8ff,#a9a9ff,#aaf,#ababff,#ababff,#acacff,#adadff,#aeaeff,#afafff,#b1b1ff,#b4b4ff,#b7b7ff,#bbf,#c0c0ff,#c4c4ff,#c4c4ff)"></i>
<i style="background:linear-gradient(90deg,#9d9dff,#9d9dff,#9797ff,#9191ff,#8d8dff,#8989ff,#8686ff,#8383ff,#8282ff,#8181ff,#8181ff,#8181ff,#8282ff,#8282ff,#8383ff,#8383ff,#8484ff,#8484ff,#8484ff,#8484ff,#8484ff,#8484ff,#8484ff,#8383ff,#8383ff,#8282ff,#8181ff,#7f7fff,#7d7dff,#7b7bff,#7979ff,#7676ff,#7474ff,#7171ff,#6f6fff,#6e6eff,#6d6dff,#6c6cff,#6d6dff,#6e6eff,#7070ff,#7272ff,#7676ff,#7a7aff,#7e7eff,#8383ff,#88f,#8d8dff,#9292ff,#9797ff,#9b9bff,#9f9fff,#a2a2ff,#a5a5ff,#a8a8ff,#a9a9ff,#ababff,#ababff,#acacff,#acacff,#adadff,#adadff,#aeaeff,#afafff,#b1b1ff,#b3b3ff,#b5b5ff,#b9b9ff,#bcbcff,#c1c1ff,#c4c4ff,#c4c4ff)"></i>
<i style="background:linear-gradient(90deg,#9e9eff,#9e9eff,#99f,#9393ff,#8e8eff,#8a8aff,#8787ff,#8585ff,#8484ff,#8484ff,#8383ff,#8484ff,#8484ff,#8585ff,#8585ff,#8585ff,#8686ff,#8686ff,#8686ff,#8686ff,#8686ff,#8686ff,#8686ff,#8585ff,#8484ff,#8383ff,#8282ff,#8181ff,#7f7fff,#7d7dff,#7b7bff,#7878ff,#7676ff,#7373ff,#7171ff,#7070ff,#6f6fff,#6e6eff,#6f6fff,#7070ff,#7272ff,#7575ff,#7878ff,#7c7cff,#8181ff,#8686ff,#8b8bff,#9090ff,#9595ff,#9a9aff,#9e9eff,#a2a2ff,#a5a5ff,#a8a8ff,#aaf,#acacff,#adadff,#aeaeff,#aeaeff,#aeaeff,#afafff,#afafff,#b0b0ff,#b1b1ff,#b2b2ff,#b4b4ff,#b7b7ff,#babaff,#bdbdff,#c1c1ff,#c5c5ff,#c5c5ff)"></i>
<i style="background:linear-gradient(90deg,#9f9fff,#9f9fff,#9a9aff,#9494ff,#9090ff,#8c8cff,#8989ff,#8787ff,#8686ff,#8686ff,#8686ff,#8686ff,#8686ff,#8787ff,#8787ff,#8787ff,#88f,#88f,#88f,#88f,#88f,#88f,#8787ff,#8787ff,#8686ff,#8585ff,#8484ff,#8383ff,#8181ff,#7f7fff,#7c7cff,#7a7aff,#7878ff,#7676ff,#7474ff,#7272ff,#7171ff,#7171ff,#7171ff,#7272ff,#7474ff,#77f,#7b7bff,#7f7fff,#8383ff,#88f,#8d8dff,#9393ff,#9898ff,#9c9cff,#a1a1ff,#a4a4ff,#a8a8ff,#aaf,#acacff,#aeaeff,#afafff,#b0b0ff,#b0b0ff,#b0b0ff,#b0b0ff,#b1b1ff,#b1b1ff,#b2b2ff,#b3b3ff,#b5b5ff,#b8b8ff,#bbf,#bebeff,#c2c2ff,#c6c6ff,#c6c6ff)"></i>
<i style="background:linear-gradient(90deg,#a1a1ff,#a1a1ff,#9b9bff,#9696ff,#9191ff,#8e8eff,#8b8bff,#8989ff,#88f,#88f,#88f,#88f,#88f,#8989ff,#8989ff,#8989ff,#8a8aff,#8a8aff,#8a8aff,#8a8aff,#8989ff,#8989ff,#8989ff,#88f,#88f,#8787ff,#8686ff,#8484ff,#8282ff,#8080ff,#7e7eff,#7c7cff,#7a7aff,#7878ff,#7676ff,#7474ff,#7373ff,#7373ff,#7373ff,#7575ff,#77f,#7a7aff,#7d7dff,#8181ff,#8686ff,#8b8bff,#9090ff,#9595ff,#9a9aff,#9f9fff,#a3a3ff,#a7a7ff,#aaf,#adadff,#afafff,#b0b0ff,#b1b1ff,#b2b2ff,#b2b2ff,#b2b2ff,#b2b2ff,#b2b2ff,#b3b3ff,#b3b3ff,#b5b5ff,#b6b6ff,#b9b9ff,#bcbcff,#bfbfff,#c3c3ff,#c7c7ff,#c7c7ff)"></i>
<i style="background:linear-gradient(90deg,#a2a2ff,#a2a2ff,#9d9dff,#9797ff,#9393ff,#8f8fff,#8d8dff,#8b8bff,#8a8aff,#8a8aff,#8a8aff,#8a8aff,#8a8aff,#8b8bff,#8b8bff,#8b8bff,#8c8cff,#8c8cff,#8c8cff,#8b8bff,#8b8bff,#8b8bff,#8a8aff,#8a8aff,#8989ff,#88f,#8787ff,#8686ff,#8484ff,#8282ff,#8080ff,#7e7eff,#7c7cff,#7a7aff,#7878ff,#7676ff,#7575ff,#7575ff,#7676ff,#77f,#7979ff,#7c7cff,#8080ff,#8484ff,#8989ff,#8e8eff,#9393ff,#9898ff,#9d9dff,#a2a2ff,#a6a6ff,#a9a9ff,#acacff,#afafff,#b1b1ff,#b2b2ff,#b3b3ff,#b3b3ff,#b4b4ff,#b4b4ff,#b4b4ff,#b4b4ff,#b4b4ff,#b5b5ff,#b6b6ff,#b8b8ff,#babaff,#bdbdff,#c0c0ff,#c4c4ff,#c8c8ff,#c8c8ff)"></i>
<i style="background:linear-gradient(90deg,#a3a3ff,#a3a3ff,#9e9eff,#99f,#9595ff,#9191ff,#8f8fff,#8d8dff,#8c8cff,#8c8cff,#8c8cff,#8c8cff,#8c8cff,#8d8dff,#8d8dff,#8d8dff,#8d8dff,#8d8dff,#8d8dff,#8d8dff,#8d8dff,#8c8cff,#8c8cff,#8b8bff,#8b8bff,#8a8aff,#8989ff,#8787ff,#8686ff,#8484ff,#8282ff,#8080ff,#7e7eff,#7c7cff,#7a7aff,#7878ff,#7878ff,#7878ff,#7878ff,#7a7aff,#7c7cff,#7f7fff,#8282ff,#8787ff,#8b8bff,#9090ff,#9595ff,#9b9bff,#9f9fff,#a4a4ff,#a8a8ff,#acacff,#afafff,#b1b1ff,#b3b3ff,#b4b4ff,#b5b5ff,#b5b5ff,#b5b5ff,#b5b5ff,#b5b5ff,#b5b5ff,#b5b5ff,#b6b6ff,#b7b7ff,#b9b9ff,#bbf,#bebeff,#c1c1ff,#c5c5ff,#c8c8ff,#c8c8ff)"></i>
<i style="background:linear-gradient(90deg,#a4a4ff,#a4a4ff,#a0a0ff,#9a9aff,#9696ff,#9393ff,#9090ff,#8f8fff,#8e8eff,#8e8eff,#8e8eff,#8e8eff,#8e8eff,#8f8fff,#8f8fff,#8f8fff,#8f8fff,#8f8fff,#8f8fff,#8f8fff,#8e8eff,#8e8eff,#8d8dff,#8d8dff,#8c8cff,#8b8bff,#8a8aff,#8989ff,#88f,#8686ff,#8484ff,#8282ff,#8080ff,#7e7eff,#7c7cff,#7b7bff,#7a7aff,#7a7aff,#7b7bff,#7c7cff,#7e7eff,#8181ff,#8585ff,#8989ff,#8e8eff,#9393ff,#9898ff,#9d9dff,#a2a2ff,#a6a6ff,#ababff,#aeaeff,#b1b1ff,#b3b3ff,#b5b5ff,#b6b6ff,#b7b7ff,#b7b7ff,#b7b7ff,#b7b7ff,#b6b6ff,#b6b6ff,#b6b6ff,#b7b7ff,#b8b8ff,#babaff,#bcbcff,#bfbfff,#c2c2ff,#c6c6ff,#c9c9ff,#c9c9ff)"></i>
<i style="background:linear-gradient(90deg,#a6a6ff,#a6a6ff,#a1a1ff,#9c9cff,#9898ff,#9595ff,#9292ff,#9191ff,#9090ff,#9090ff,#9090ff,#9090ff,#9090ff,#9191ff,#9191ff,#9191ff,#9191ff,#9191ff,#9191ff,#9090ff,#9090ff,#8f8fff,#8f8fff,#8e8eff,#8e8eff,#8d8dff,#8c8cff,#8b8bff,#8989ff,#88f,#8686ff,#8484ff,#8282ff,#8080ff,#7e7eff,#7d7dff,#7c7cff,#7c7cff,#7d7dff,#7f7fff,#8181ff,#8484ff,#88f,#8c8cff,#9191ff,#9696ff,#9b9bff,#a0a0ff,#a4a4ff,#a9a9ff,#adadff,#b0b0ff,#b3b3ff,#b5b5ff,#b7b7ff,#b8b8ff,#b8b8ff,#b8b8ff,#b8b8ff,#b8b8ff,#b8b8ff,#b7b7ff,#b8b8ff,#b8b8ff,#b9b9ff,#bbf,#bdbdff,#bfbfff,#c3c3ff,#c6c6ff,#cacaff,#cacaff)"></i>
<i style="background:linear-gradient(90deg,#a7a7ff,#a7a7ff,#a2a2ff,#9d9dff,#99f,#9696ff,#9494ff,#9393ff,#9292ff,#9292ff,#9292ff,#9292ff,#9292ff,#9393ff,#9393ff,#9393ff,#9393ff,#9292ff,#9292ff,#9292ff,#9191ff,#9191ff,#9090ff,#9090ff,#8f8fff,#8f8fff,#8e8eff,#8c8cff,#8b8bff,#8989ff,#88f,#8686ff,#8484ff,#8282ff,#8181ff,#7f7fff,#7f7fff,#7f7fff,#8080ff,#8181ff,#8383ff,#8686ff,#8a8aff,#8e8eff,#9393ff,#9898ff,#9d9dff,#a2a2ff,#a7a7ff,#ababff,#afafff,#b2b2ff,#b5b5ff,#b7b7ff,#b8b8ff,#b9b9ff,#babaff,#babaff,#babaff,#b9b9ff,#b9b9ff,#b9b9ff,#b9b9ff,#b9b9ff,#babaff,#bcbcff,#bebeff,#c0c0ff,#c3c3ff,#c7c7ff,#cbcbff,#cbcbff)"></i>
<i style="background:linear-gradient(90deg,#a8a8ff,#a8a8ff,#a4a4ff,#9f9fff,#9b9bff,#9898ff,#9696ff,#9595ff,#9494ff,#9494ff,#9494ff,#9494ff,#9494ff,#9494ff,#9595ff,#9595ff,#9494ff,#9494ff,#9494ff,#9393ff,#9393ff,#9292ff,#9292ff,#9191ff,#9191ff,#9090ff,#8f8fff,#8e8eff,#8d8dff,#8b8bff,#8a8aff,#88f,#8686ff,#8484ff,#8383ff,#8282ff,#8181ff,#8181ff,#8282ff,#8484ff,#8686ff,#8989ff,#8d8dff,#9191ff,#9696ff,#9b9bff,#a0a0ff,#a5a5ff,#a9a9ff,#adadff,#b1b1ff,#b4b4ff,#b7b7ff,#b9b9ff,#babaff,#bbf,#bbf,#bbf,#bbf,#babaff,#babaff,#babaff,#babaff,#babaff,#bbf,#bcbcff,#bebeff,#c1c1ff,#c4c4ff,#c8c8ff,#cbcbff,#cbcbff)"></i>
<i style="background:linear-gradient(90deg,#aaf,#aaf,#a5a5ff,#a1a1ff,#9d9dff,#9a9aff,#9898ff,#9696ff,#9696ff,#9595ff,#9696ff,#9696ff,#9696ff,#9696ff,#9696ff,#9696ff,#9696ff,#9696ff,#9595ff,#9595ff,#9494ff,#9494ff,#9393ff,#9393ff,#9292ff,#9292ff,#9191ff,#9090ff,#8f8fff,#8d8dff,#8c8cff,#8a8aff,#88f,#8787ff,#8585ff,#8484ff,#8484ff,#8484ff,#8585ff,#8686ff,#8989ff,#8c8cff,#9090ff,#9494ff,#9898ff,#9d9dff,#a2a2ff,#a7a7ff,#ababff,#b0b0ff,#b3b3ff,#b6b6ff,#b9b9ff,#babaff,#bcbcff,#bcbcff,#bdbdff,#bcbcff,#bcbcff,#bbf,#bbf,#bbf,#bbf,#bbf,#bcbcff,#bdbdff,#bfbfff,#c2c2ff,#c5c5ff,#c8c8ff,#ccf,#ccf)"></i>
<i style="background:linear-gradient(90deg,#ababff,#ababff,#a7a7ff,#a2a2ff,#9f9fff,#9c9cff,#9a9aff,#9898ff,#9898ff,#9797ff,#9898ff,#9898ff,#9898ff,#9898ff,#9898ff,#9898ff,#9898ff,#9797ff,#9797ff,#9797ff,#9696ff,#9595ff,#9595ff,#9595ff,#9494ff,#9393ff,#9393ff,#9292ff,#9191ff,#8f8fff,#8e8eff,#8c8cff,#8b8bff,#8989ff,#88f,#8787ff,#8787ff,#8787ff,#88f,#8989ff,#8c8cff,#8f8fff,#9292ff,#9696ff,#9b9bff,#a0a0ff,#a5a5ff,#a9a9ff,#aeaeff,#b2b2ff,#b5b5ff,#b8b8ff,#babaff,#bcbcff,#bdbdff,#bebeff,#bebeff,#bebeff,#bdbdff,#bcbcff,#bcbcff,#bcbcff,#bcbcff,#bcbcff,#bdbdff,#bebeff,#c0c0ff,#c2c2ff,#c6c6ff,#c9c9ff,#ccf,#ccf)"></i>
<i style="background:linear-gradient(90deg,#adadff,#adadff,#a8a8ff,#a4a4ff,#a0a0ff,#9e9eff,#9c9cff,#9a9aff,#9a9aff,#9a9aff,#9a9aff,#9a9aff,#9a9aff,#9a9aff,#9a9aff,#9a9aff,#9a9aff,#99f,#99f,#9898ff,#9898ff,#9797ff,#9797ff,#9696ff,#9696ff,#9595ff,#9494ff,#9494ff,#9393ff,#9191ff,#9090ff,#8e8eff,#8d8dff,#8c8cff,#8a8aff,#8a8aff,#8989ff,#8a8aff,#8a8aff,#8c8cff,#8e8eff,#9191ff,#9595ff,#99f,#9e9eff,#a2a2ff,#a7a7ff,#acacff,#b0b0ff,#b4b4ff,#b7b7ff,#babaff,#bcbcff,#bebeff,#bfbfff,#bfbfff,#bfbfff,#bfbfff,#bebeff,#bdbdff,#bdbdff,#bcbcff,#bcbcff,#bdbdff,#bdbdff,#bfbfff,#c1c1ff,#c3c3ff,#c6c6ff,#cacaff,#cdcdff,#cdcdff)"></i>
<i style="background:linear-gradient(90deg,#aeaeff,#aeaeff,#aaf,#a6a6ff,#a2a2ff,#9f9fff,#9e9eff,#9c9cff,#9c9cff,#9c9cff,#9c9cff,#9c9cff,#9c9cff,#9c9cff,#9c9cff,#9c9cff,#9b9bff,#9b9bff,#9a9aff,#9a9aff,#99f,#99f,#9898ff,#9898ff,#9797ff,#9797ff,#9696ff,#9696ff,#9595ff,#9393ff,#9292ff,#9191ff,#8f8fff,#8e8eff,#8d8dff,#8c8cff,#8c8cff,#8c8cff,#8d8dff,#8f8fff,#9191ff,#9494ff,#9898ff,#9c9cff,#a0a0ff,#a5a5ff,#a9a9ff,#aeaeff,#b2b2ff,#b6b6ff,#b9b9ff,#bcbcff,#bebeff,#bfbfff,#c0c0ff,#c0c0ff,#c0c0ff,#c0c0ff,#bfbfff,#bebeff,#bebeff,#bdbdff,#bdbdff,#bdbdff,#bebeff,#bfbfff,#c1c1ff,#c4c4ff,#c7c7ff,#cacaff,#ceceff,#ceceff)"></i>
<i style="background:linear-gradient(90deg,#b0b0ff,#b0b0ff,#acacff,#a7a7ff,#a4a4ff,#a1a1ff,#a0a0ff,#9e9eff,#9e9eff,#9e9eff,#9e9eff,#9e9eff,#9e9eff,#9e9eff,#9e9eff,#9e9eff,#9d9dff,#9d9dff,#9c9cff,#9c9cff,#9b9bff,#9a9aff,#9a9aff,#9a9aff,#99f,#99f,#9898ff,#9898ff,#9797ff,#9696ff,#9595ff,#9393ff,#9292ff,#9191ff,#9090ff,#8f8fff,#8f8fff,#8f8fff,#9090ff,#9292ff,#9494ff,#9797ff,#9b9bff,#9f9fff,#a3a3ff,#a7a7ff,#acacff,#b0b0ff,#b4b4ff,#b8b8ff,#bbf,#bdbdff,#bfbfff,#c0c0ff,#c1c1ff,#c1c1ff,#c1c1ff,#c1c1ff,#c0c0ff,#bfbfff,#bebeff,#bebeff,#bebeff,#bebeff,#bfbfff,#c0c0ff,#c2c2ff,#c4c4ff,#c7c7ff,#cbcbff,#ceceff,#ceceff)"></i>
<i style="background:linear-gradient(90deg,#b2b2ff,#b2b2ff,#adadff,#a9a9ff,#a6a6ff,#a3a3ff,#a2a2ff,#a1a1ff,#a0a0ff,#a0a0ff,#a0a0ff,#a0a0ff,#a0a0ff,#a0a0ff,#a0a0ff,#a0a0ff,#9f9fff,#9f9fff,#9e9eff,#9d9dff,#9d9dff,#9c9cff,#9c9cff,#9b9bff,#9b9bff,#9b9bff,#9a9aff,#9a9aff,#99f,#9898ff,#9797ff,#9696ff,#9595ff,#9494ff,#9393ff,#9292ff,#9292ff,#9292ff,#9393ff,#9595ff,#9797ff,#9a9aff,#9e9eff,#a2a2ff,#a6a6ff,#aaf,#aeaeff,#b2b2ff,#b6b6ff,#b9b9ff,#bcbcff,#bfbfff,#c0c0ff,#c2c2ff,#c2c2ff,#c2c2ff,#c2c2ff,#c1c1ff,#c1c1ff,#c0c0ff,#bfbfff,#bfbfff,#bebeff,#bfbfff,#bfbfff,#c1c1ff,#c3c3ff,#c5c5ff,#c8c8ff,#cbcbff,#cfcfff,#cfcfff)"></i>
<i style="background:linear-gradient(90deg,#b3b3ff,#b3b3ff,#afafff,#ababff,#a8a8ff,#a5a5ff,#a4a4ff,#a3a3ff,#a2a2ff,#a2a2ff,#a2a2ff,#a2a2ff,#a2a2ff,#a2a2ff,#a2a2ff,#a2a2ff,#a1a1ff,#a0a0ff,#a0a0ff,#9f9fff,#9f9fff,#9e9eff,#9e9eff,#9d9dff,#9d9dff,#9d9dff,#9c9cff,#9c9cff,#9b9bff,#9a9aff,#9a9aff,#99f,#9797ff,#9797ff,#9696ff,#9595ff,#9595ff,#9696ff,#9797ff,#9898ff,#9b9bff,#9d9dff,#a1a1ff,#a4a4ff,#a8a8ff,#acacff,#b1b1ff,#b4b4ff,#b8b8ff,#bbf,#bebeff,#c0c0ff,#c2c2ff,#c3c3ff,#c3c3ff,#c3c3ff,#c3c3ff,#c2c2ff,#c1c1ff,#c0c0ff,#c0c0ff,#bfbfff,#bfbfff,#bfbfff,#c0c0ff,#c1c1ff,#c3c3ff,#c5c5ff,#c8c8ff,#ccf,#cfcfff,#cfcfff)"></i>
<i style="background:linear-gradient(90deg,#b5b5ff,#b5b5ff,#b1b1ff,#adadff,#aaf,#a8a8ff,#a6a6ff,#a5a5ff,#a4a4ff,#a4a4ff,#a4a4ff,#a4a4ff,#a4a4ff,#a4a4ff,#a4a4ff,#a4a4ff,#a3a3ff,#a2a2ff,#a2a2ff,#a1a1ff,#a0a0ff,#a0a0ff,#a0a0ff,#9f9fff,#9f9fff,#9f9fff,#9e9eff,#9e9eff,#9e9eff,#9d9dff,#9c9cff,#9b9bff,#9a9aff,#99f,#99f,#9898ff,#9898ff,#99f,#9a9aff,#9b9bff,#9e9eff,#a0a0ff,#a4a4ff,#a7a7ff,#ababff,#afafff,#b3b3ff,#b7b7ff,#babaff,#bdbdff,#c0c0ff,#c2c2ff,#c3c3ff,#c4c4ff,#c4c4ff,#c4c4ff,#c4c4ff,#c3c3ff,#c2c2ff,#c1c1ff,#c0c0ff,#c0c0ff,#c0c0ff,#c0c0ff,#c1c1ff,#c2c2ff,#c4c4ff,#c6c6ff,#c9c9ff,#ccf,#cfcfff,#cfcfff)"></i>
<i style="background:linear-gradient(90deg,#b7b7ff,#b7b7ff,#b3b3ff,#afafff,#acacff,#aaf,#a8a8ff,#a7a7ff,#a7a7ff,#a6a6ff,#a6a6ff,#a6a6ff,#a7a7ff,#a6a6ff,#a6a6ff,#a6a6ff,#a5a5ff,#a4a4ff,#a4a4ff,#a3a3ff,#a2a2ff,#a2a2ff,#a2a2ff,#a1a1ff,#a1a1ff,#a1a1ff,#a1a1ff,#a0a0ff,#a0a0ff,#9f9fff,#9f9fff,#9e9eff,#9d9dff,#9c9cff,#9c9cff,#9c9cff,#9c9cff,#9c9cff,#9d9dff,#9f9fff,#a1a1ff,#a4a4ff,#a7a7ff,#aaf,#aeaeff,#b2b2ff,#b5b5ff,#b9b9ff,#bcbcff,#bfbfff,#c1c1ff,#c3c3ff,#c4c4ff,#c5c5ff,#c5c5ff,#c5c5ff,#c4c4ff,#c3c3ff,#c3c3ff,#c2c2ff,#c1c1ff,#c0c0ff,#c0c0ff,#c0c0ff,#c1c1ff,#c2c2ff,#c4c4ff,#c6c6ff,#c9c9ff,#cdcdff,#d0d0ff,#d0d0ff)"></i>
<i style="background:linear-gradient(90deg,#b9b9ff,#b9b9ff,#b5b5ff,#b1b1ff,#aeaeff,#acacff,#aaf,#a9a9ff,#a9a9ff,#a9a9ff,#a9a9ff,#a9a9ff,#a9a9ff,#a9a9ff,#a8a8ff,#a8a8ff,#a7a7ff,#a7a7ff,#a6a6ff,#a5a5ff,#a4a4ff,#a4a4ff,#a4a4ff,#a3a3ff,#a3a3ff,#a3a3ff,#a3a3ff,#a3a3ff,#a3a3ff,#a2a2ff,#a2a2ff,#a1a1ff,#a0a0ff,#a0a0ff,#9f9fff,#9f9fff,#9f9fff,#9f9fff,#a0a0ff,#a2a2ff,#a4a4ff,#a7a7ff,#aaf,#adadff,#b0b0ff,#b4b4ff,#b8b8ff,#bbf,#bebeff,#c0c0ff,#c3c3ff,#c4c4ff,#c5c5ff,#c6c6ff,#c6c6ff,#c6c6ff,#c5c5ff,#c4c4ff,#c3c3ff,#c2c2ff,#c1c1ff,#c1c1ff,#c1c1ff,#c1c1ff,#c2c2ff,#c3c3ff,#c5c5ff,#c7c7ff,#cacaff,#cdcdff,#d0d0ff,#d0d0ff)"></i>
<i style="background:linear-gradient(90deg,#bbf,#bbf,#b7b7ff,#b3b3ff,#b0b0ff,#aeaeff,#adadff,#acacff,#ababff,#ababff,#ababff,#ababff,#ababff,#ababff,#ababff,#aaf,#a9a9ff,#a9a9ff,#a8a8ff,#a7a7ff,#a7a7ff,#a6a6ff,#a6a6ff,#a6a6ff,#a5a5ff,#a5a5ff,#a5a5ff,#a5a5ff,#a5a5ff,#a5a5ff,#a4a4ff,#a4a4ff,#a3a3ff,#a3a3ff,#a2a2ff,#a2a2ff,#a2a2ff,#a3a3ff,#a4a4ff,#a5a5ff,#a7a7ff,#aaf,#adadff,#b0b0ff,#b3b3ff,#b7b7ff,#babaff,#bdbdff,#c0c0ff,#c2c2ff,#c4c4ff,#c5c5ff,#c6c6ff,#c7c7ff,#c7c7ff,#c6c6ff,#c6c6ff,#c5c5ff,#c4c4ff,#c3c3ff,#c2c2ff,#c1c1ff,#c1c1ff,#c1c1ff,#c2c2ff,#c3c3ff,#c5c5ff,#c7c7ff,#cacaff,#ceceff,#d1d1ff,#d1d1ff)"></i>
<i style="background:linear-gradient(90deg,#bdbdff,#bdbdff,#b9b9ff,#b6b6ff,#b3b3ff,#b1b1ff,#afafff,#aeaeff,#aeaeff,#adadff,#adadff,#adadff,#adadff,#adadff,#adadff,#acacff,#acacff,#ababff,#aaf,#a9a9ff,#a9a9ff,#a8a8ff,#a8a8ff,#a8a8ff,#a8a8ff,#a8a8ff,#a8a8ff,#a8a8ff,#a8a8ff,#a8a8ff,#a7a7ff,#a7a7ff,#a6a6ff,#a6a6ff,#a6a6ff,#a6a6ff,#a6a6ff,#a6a6ff,#a7a7ff,#a9a9ff,#ababff,#adadff,#b0b0ff,#b3b3ff,#b6b6ff,#b9b9ff,#bcbcff,#bfbfff,#c1c1ff,#c4c4ff,#c5c5ff,#c7c7ff,#c7c7ff,#c8c8ff,#c7c7ff,#c7c7ff,#c6c6ff,#c5c5ff,#c4c4ff,#c3c3ff,#c2c2ff,#c2c2ff,#c1c1ff,#c2c2ff,#c2c2ff,#c4c4ff,#c5c5ff,#c8c8ff,#cbcbff,#ceceff,#d1d1ff,#d1d1ff)"></i>
<i style="background:linear-gradient(90deg,#bfbfff,#bfbfff,#bbf,#b8b8ff,#b5b5ff,#b3b3ff,#b2b2ff,#b1b1ff,#b0b0ff,#b0b0ff,#b0b0ff,#b0b0ff,#b0b0ff,#afafff,#afafff,#afafff,#aeaeff,#adadff,#acacff,#acacff,#ababff,#ababff,#aaf,#aaf,#aaf,#aaf,#aaf,#aaf,#ababff,#aaf,#aaf,#aaf,#aaf,#a9a9ff,#a9a9ff,#a9a9ff,#a9a9ff,#aaf,#ababff,#acacff,#aeaeff,#b0b0ff,#b3b3ff,#b6b6ff,#b9b9ff,#bbf,#bebeff,#c1c1ff,#c3c3ff,#c5c5ff,#c7c7ff,#c8c8ff,#c8c8ff,#c8c8ff,#c8c8ff,#c7c7ff,#c7c7ff,#c6c6ff,#c5c5ff,#c4c4ff,#c3c3ff,#c2c2ff,#c2c2ff,#c2c2ff,#c3c3ff,#c4c4ff,#c6c6ff,#c8c8ff,#cbcbff,#ceceff,#d1d1ff,#d1d1ff)"></i>
<i style="background:linear-gradient(90deg,#c1c1ff,#c1c1ff,#bdbdff,#babaff,#b7b7ff,#b5b5ff,#b4b4ff,#b3b3ff,#b3b3ff,#b2b2ff,#b2b2ff,#b2b2ff,#b2b2ff,#b2b2ff,#b1b1ff,#b1b1ff,#b0b0ff,#afafff,#afafff,#aeaeff,#adadff,#adadff,#adadff,#adadff,#adadff,#adadff,#adadff,#adadff,#adadff,#adadff,#adadff,#adadff,#adadff,#adadff,#acacff,#acacff,#adadff,#adadff,#aeaeff,#b0b0ff,#b1b1ff,#b4b4ff,#b6b6ff,#b9b9ff,#bbf,#bebeff,#c0c0ff,#c3c3ff,#c5c5ff,#c7c7ff,#c8c8ff,#c9c9ff,#c9c9ff,#c9c9ff,#c9c9ff,#c8c8ff,#c7c7ff,#c6c6ff,#c5c5ff,#c4c4ff,#c3c3ff,#c3c3ff,#c2c2ff,#c3c3ff,#c3c3ff,#c5c5ff,#c6c6ff,#c9c9ff,#ccf,#cfcfff,#d2d2ff,#d2d2ff)"></i>
<i style="background:linear-gradient(90deg,#c3c3ff,#c3c3ff,#bfbfff,#bcbcff,#babaff,#b8b8ff,#b6b6ff,#b6b6ff,#b5b5ff,#b5b5ff,#b5b5ff,#b5b5ff,#b5b5ff,#b4b4ff,#b4b4ff,#b3b3ff,#b2b2ff,#b2b2ff,#b1b1ff,#b0b0ff,#b0b0ff,#afafff,#afafff,#afafff,#afafff,#afafff,#b0b0ff,#b0b0ff,#b0b0ff,#b0b0ff,#b0b0ff,#b0b0ff,#b0b0ff,#b0b0ff,#b0b0ff,#b0b0ff,#b0b0ff,#b1b1ff,#b2b2ff,#b3b3ff,#b5b5ff,#b7b7ff,#b9b9ff,#bbf,#bebeff,#c0c0ff,#c3c3ff,#c5c5ff,#c7c7ff,#c8c8ff,#c9c9ff,#cacaff,#cacaff,#cacaff,#c9c9ff,#c9c9ff,#c8c8ff,#c6c6ff,#c5c5ff,#c4c4ff,#c4c4ff,#c3c3ff,#c3c3ff,#c3c3ff,#c4c4ff,#c5c5ff,#c7c7ff,#c9c9ff,#ccf,#cfcfff,#d2d2ff,#d2d2ff)"></i>
<i style="background:linear-gradient(90deg,#c5c5ff,#c5c5ff,#c2c2ff,#bfbfff,#bcbcff,#babaff,#b9b9ff,#b8b8ff,#b8b8ff,#b7b7ff,#b7b7ff,#b7b7ff,#b7b7ff,#b7b7ff,#b6b6ff,#b6b6ff,#b5b5ff,#b4b4ff,#b3b3ff,#b3b3ff,#b2b2ff,#b2b2ff,#b1b1ff,#b1b1ff,#b2b2ff,#b2b2ff,#b2b2ff,#b3b3ff,#b3b3ff,#b3b3ff,#b3b3ff,#b3b3ff,#b3b3ff,#b3b3ff,#b3b3ff,#b3b3ff,#b4b4ff,#b4b4ff,#b5b5ff,#b7b7ff,#b8b8ff,#babaff,#bcbcff,#bebeff,#c0c0ff,#c3c3ff,#c5c5ff,#c7c7ff,#c8c8ff,#cacaff,#cacaff,#cbcbff,#cbcbff,#cbcbff,#cacaff,#c9c9ff,#c8c8ff,#c7c7ff,#c6c6ff,#c5c5ff,#c4c4ff,#c3c3ff,#c3c3ff,#c3c3ff,#c4c4ff,#c5c5ff,#c7c7ff,#cacaff,#ccf,#d0d0ff,#d3d3ff,#d3d3ff)"></i>
<i style="background:linear-gradient(90deg,#c7c7ff,#c7c7ff,#c4c4ff,#c1c1ff,#bfbfff,#bdbdff,#bbf,#bbf,#babaff,#babaff,#babaff,#babaff,#b9b9ff,#b9b9ff,#b9b9ff,#b8b8ff,#b7b7ff,#b6b6ff,#b6b6ff,#b5b5ff,#b4b4ff,#b4b4ff,#b4b4ff,#b4b4ff,#b4b4ff,#b5b5ff,#b5b5ff,#b5b5ff,#b6b6ff,#b6b6ff,#b6b6ff,#b7b7ff,#b7b7ff,#b7b7ff,#b7b7ff,#b7b7ff,#b7b7ff,#b8b8ff,#b9b9ff,#babaff,#bbf,#bdbdff,#bfbfff,#c1c1ff,#c3c3ff,#c5c5ff,#c7c7ff,#c9c9ff,#cacaff,#cbcbff,#ccf,#ccf,#ccf,#cbcbff,#cbcbff,#cacaff,#c9c9ff,#c7c7ff,#c6c6ff,#c5c5ff,#c4c4ff,#c4c4ff,#c4c4ff,#c4c4ff,#c5c5ff,#c6c6ff,#c8c8ff,#cacaff,#cdcdff,#d0d0ff,#d3d3ff,#d3d3ff)"></i>
<i style="background:linear-gradient(90deg,#c9c9ff,#c9c9ff,#c6c6ff,#c3c3ff,#c1c1ff,#bfbfff,#bebeff,#bdbdff,#bdbdff,#bcbcff,#bcbcff,#bcbcff,#bcbcff,#bbf,#bbf,#babaff,#babaff,#b9b9ff,#b8b8ff,#b7b7ff,#b7b7ff,#b6b6ff,#b6b6ff,#b7b7ff,#b7b7ff,#b7b7ff,#b8b8ff,#b8b8ff,#b9b9ff,#b9b9ff,#b9b9ff,#babaff,#babaff,#babaff,#babaff,#babaff,#bbf,#bbf,#bcbcff,#bdbdff,#bfbfff,#c0c0ff,#c2c2ff,#c4c4ff,#c6c6ff,#c7c7ff,#c9c9ff,#cacaff,#ccf,#ccf,#cdcdff,#cdcdff,#cdcdff,#ccf,#cbcbff,#cacaff,#c9c9ff,#c8c8ff,#c7c7ff,#c6c6ff,#c5c5ff,#c4c4ff,#c4c4ff,#c4c4ff,#c5c5ff,#c6c6ff,#c8c8ff,#cbcbff,#cdcdff,#d1d1ff,#d4d4ff,#d4d4ff)"></i>
<i style="background:linear-gradient(90deg,#cbcbff,#cbcbff,#c8c8ff,#c6c6ff,#c3c3ff,#c2c2ff,#c0c0ff,#c0c0ff,#bfbfff,#bfbfff,#bfbfff,#bfbfff,#bebeff,#bebeff,#bdbdff,#bdbdff,#bcbcff,#bbf,#babaff,#babaff,#b9b9ff,#b9b9ff,#b9b9ff,#b9b9ff,#b9b9ff,#babaff,#babaff,#bbf,#bcbcff,#bcbcff,#bdbdff,#bdbdff,#bdbdff,#bdbdff,#bebeff,#bebeff,#bebeff,#bfbfff,#c0c0ff,#c1c1ff,#c2c2ff,#c3c3ff,#c5c5ff,#c7c7ff,#c8c8ff,#cacaff,#cbcbff,#ccf,#cdcdff,#ceceff,#ceceff,#ceceff,#cdcdff,#cdcdff,#ccf,#cbcbff,#c9c9ff,#c8c8ff,#c7c7ff,#c6c6ff,#c5c5ff,#c5c5ff,#c5c5ff,#c5c5ff,#c6c6ff,#c7c7ff,#c9c9ff,#cbcbff,#ceceff,#d1d1ff,#d4d4ff,#d4d4ff)"></i>
<i style="background:linear-gradient(90deg,#cdcdff,#cdcdff,#cbcbff,#c8c8ff,#c6c6ff,#c4c4ff,#c3c3ff,#c2c2ff,#c2c2ff,#c1c1ff,#c1c1ff,#c1c1ff,#c1c1ff,#c0c0ff,#c0c0ff,#bfbfff,#bebeff,#bebeff,#bdbdff,#bcbcff,#bcbcff,#bbf,#bbf,#bcbcff,#bcbcff,#bdbdff,#bdbdff,#bebeff,#bfbfff,#bfbfff,#c0c0ff,#c0c0ff,#c0c0ff,#c1c1ff,#c1c1ff,#c1c1ff,#c2c2ff,#c2c2ff,#c3c3ff,#c4c4ff,#c5c5ff,#c6c6ff,#c8c8ff,#c9c9ff,#cbcbff,#ccf,#cdcdff,#ceceff,#cfcfff,#cfcfff,#cfcfff,#cfcfff,#ceceff,#cdcdff,#ccf,#cbcbff,#cacaff,#c9c9ff,#c8c8ff,#c7c7ff,#c6c6ff,#c5c5ff,#c5c5ff,#c6c6ff,#c6c6ff,#c8c8ff,#c9c9ff,#ccf,#ceceff,#d2d2ff,#d5d5ff,#d5d5ff)"></i>
<i style="background:linear-gradient(90deg,#d0d0ff,#d0d0ff,#cdcdff,#cacaff,#c8c8ff,#c7c7ff,#c5c5ff,#c5c5ff,#c4c4ff,#c4c4ff,#c4c4ff,#c3c3ff,#c3c3ff,#c3c3ff,#c2c2ff,#c1c1ff,#c1c1ff,#c0c0ff,#bfbfff,#bfbfff,#bebeff,#bebeff,#bebeff,#bebeff,#bfbfff,#bfbfff,#c0c0ff,#c1c1ff,#c1c1ff,#c2c2ff,#c3c3ff,#c3c3ff,#c4c4ff,#c4c4ff,#c4c4ff,#c5c5ff,#c5c5ff,#c6c6ff,#c6c6ff,#c7c7ff,#c8c8ff,#c9c9ff,#cbcbff,#ccf,#cdcdff,#ceceff,#cfcfff,#d0d0ff,#d0d0ff,#d0d0ff,#d0d0ff,#d0d0ff,#cfcfff,#ceceff,#cdcdff,#ccf,#cacaff,#c9c9ff,#c8c8ff,#c7c7ff,#c6c6ff,#c6c6ff,#c6c6ff,#c6c6ff,#c7c7ff,#c8c8ff,#cacaff,#ccf,#cfcfff,#d2d2ff,#d5d5ff,#d5d5ff)"></i>
<i style="background:linear-gradient(90deg,#d2d2ff,#d2d2ff,#cfcfff,#cdcdff,#cbcbff,#c9c9ff,#c8c8ff,#c7c7ff,#c7c7ff,#c6c6ff,#c6c6ff,#c6c6ff,#c6c6ff,#c5c5ff,#c5c5ff,#c4c4ff,#c3c3ff,#c2c2ff,#c2c2ff,#c1c1ff,#c1c1ff,#c0c0ff,#c1c1ff,#c1c1ff,#c1c1ff,#c2c2ff,#c3c3ff,#c4c4ff,#c4c4ff,#c5c5ff,#c6c6ff,#c6c6ff,#c7c7ff,#c7c7ff,#c8c8ff,#c8c8ff,#c8c8ff,#c9c9ff,#cacaff,#cbcbff,#cbcbff,#ccf,#cdcdff,#ceceff,#cfcfff,#d0d0ff,#d1d1ff,#d1d1ff,#d2d2ff,#d2d2ff,#d1d1ff,#d1d1ff,#d0d0ff,#cfcfff,#ceceff,#ccf,#cbcbff,#cacaff,#c9c9ff,#c8c8ff,#c7c7ff,#c6c6ff,#c6c6ff,#c7c7ff,#c8c8ff,#c9c9ff,#cbcbff,#cdcdff,#d0d0ff,#d3d3ff,#d6d6ff,#d6d6ff)"></i>
<i style="background:linear-gradient(90deg,#d4d4ff,#d4d4ff,#d1d1ff,#cfcfff,#cdcdff,#cbcbff,#cacaff,#cacaff,#c9c9ff,#c9c9ff,#c9c9ff,#c8c8ff,#c8c8ff,#c7c7ff,#c7c7ff,#c6c6ff,#c5c5ff,#c5c5ff,#c4c4ff,#c4c4ff,#c3c3ff,#c3c3ff,#c3c3ff,#c3c3ff,#c4c4ff,#c5c5ff,#c5c5ff,#c6c6ff,#c7c7ff,#c8c8ff,#c9c9ff,#c9c9ff,#cacaff,#cacaff,#cbcbff,#cbcbff,#ccf,#ccf,#cdcdff,#ceceff,#ceceff,#cfcfff,#d0d0ff,#d1d1ff,#d2d2ff,#d2d2ff,#d3d3ff,#d3d3ff,#d3d3ff,#d3d3ff,#d2d2ff,#d2d2ff,#d1d1ff,#cfcfff,#ceceff,#cdcdff,#ccf,#cacaff,#c9c9ff,#c8c8ff,#c8c8ff,#c7c7ff,#c7c7ff,#c7c7ff,#c8c8ff,#cacaff,#cbcbff,#ceceff,#d0d0ff,#d4d4ff,#d6d6ff,#d6d6ff)"></i>
<i style="background:linear-gradient(90deg,#d6d6ff,#d6d6ff,#d4d4ff,#d1d1ff,#cfcfff,#ceceff,#cdcdff,#ccf,#cbcbff,#cbcbff,#cbcbff,#cbcbff,#cacaff,#cacaff,#c9c9ff,#c9c9ff,#c8c8ff,#c7c7ff,#c6c6ff,#c6c6ff,#c6c6ff,#c5c5ff,#c6c6ff,#c6c6ff,#c7c7ff,#c7c7ff,#c8c8ff,#c9c9ff,#cacaff,#cbcbff,#ccf,#ccf,#cdcdff,#cdcdff,#ceceff,#ceceff,#cfcfff,#cfcfff,#d0d0ff,#d1d1ff,#d1d1ff,#d2d2ff,#d3d3ff,#d3d3ff,#d4d4ff,#d4d4ff,#d5d5ff,#d5d5ff,#d4d4ff,#d4d4ff,#d3d3ff,#d2d2ff,#d1d1ff,#d0d0ff,#cfcfff,#ceceff,#ccf,#cbcbff,#cacaff,#c9c9ff,#c8c8ff,#c8c8ff,#c8c8ff,#c8c8ff,#c9c9ff,#cacaff,#ccf,#cfcfff,#d1d1ff,#d4d4ff,#d7d7ff,#d7d7ff)"></i>
<i style="background:linear-gradient(90deg,#d8d8ff,#d8d8ff,#d6d6ff,#d3d3ff,#d2d2ff,#d0d0ff,#cfcfff,#ceceff,#ceceff,#cdcdff,#cdcdff,#cdcdff,#ccf,#ccf,#cbcbff,#cbcbff,#cacaff,#c9c9ff,#c9c9ff,#c8c8ff,#c8c8ff,#c8c8ff,#c8c8ff,#c8c8ff,#c9c9ff,#cacaff,#cbcbff,#ccf,#cdcdff,#ceceff,#cfcfff,#cfcfff,#d0d0ff,#d1d1ff,#d1d1ff,#d2d2ff,#d2d2ff,#d3d3ff,#d3d3ff,#d4d4ff,#d4d4ff,#d5d5ff,#d5d5ff,#d6d6ff,#d6d6ff,#d6d6ff,#d6d6ff,#d6d6ff,#d6d6ff,#d5d5ff,#d4d4ff,#d3d3ff,#d2d2ff,#d1d1ff,#d0d0ff,#ceceff,#cdcdff,#ccf,#cbcbff,#cacaff,#c9c9ff,#c9c9ff,#c9c9ff,#c9c9ff,#cacaff,#cbcbff,#cdcdff,#cfcfff,#d2d2ff,#d5d5ff,#d8d8ff,#d8d8ff)"></i>
<i style="background:linear-gradient(90deg,#dadaff,#dadaff,#d8d8ff,#d6d6ff,#d4d4ff,#d2d2ff,#d1d1ff,#d1d1ff,#d0d0ff,#d0d0ff,#cfcfff,#cfcfff,#cfcfff,#ceceff,#ceceff,#cdcdff,#ccf,#ccf,#cbcbff,#cbcbff,#cacaff,#cacaff,#cacaff,#cbcbff,#ccf,#ccf,#cdcdff,#ceceff,#cfcfff,#d0d0ff,#d1d1ff,#d2d2ff,#d3d3ff,#d3d3ff,#d4d4ff,#d5d5ff,#d5d5ff,#d6d6ff,#d6d6ff,#d6d6ff,#d7d7ff,#d7d7ff,#d8d8ff,#d8d8ff,#d8d8ff,#d8d8ff,#d8d8ff,#d8d8ff,#d7d7ff,#d6d6ff,#d5d5ff,#d4d4ff,#d3d3ff,#d2d2ff,#d0d0ff,#cfcfff,#ceceff,#ccf,#cbcbff,#cacaff,#cacaff,#c9c9ff,#cacaff,#cacaff,#cbcbff,#ccf,#ceceff,#d0d0ff,#d3d3ff,#d6d6ff,#d9d9ff,#d9d9ff)"></i>
<i style="background:linear-gradient(90deg,#dcdcff,#dcdcff,#dadaff,#d8d8ff,#d6d6ff,#d5d5ff,#d4d4ff,#d3d3ff,#d2d2ff,#d2d2ff,#d2d2ff,#d1d1ff,#d1d1ff,#d0d0ff,#d0d0ff,#cfcfff,#ceceff,#ceceff,#cdcdff,#cdcdff,#cdcdff,#cdcdff,#cdcdff,#cdcdff,#ceceff,#cfcfff,#d0d0ff,#d1d1ff,#d2d2ff,#d3d3ff,#d4d4ff,#d5d5ff,#d6d6ff,#d6d6ff,#d7d7ff,#d7d7ff,#d8d8ff,#d8d8ff,#d9d9ff,#d9d9ff,#dadaff,#dadaff,#dadaff,#dadaff,#dadaff,#dadaff,#dadaff,#d9d9ff,#d9d9ff,#d8d8ff,#d7d7ff,#d5d5ff,#d4d4ff,#d3d3ff,#d1d1ff,#d0d0ff,#ceceff,#cdcdff,#ccf,#cbcbff,#cbcbff,#cacaff,#cacaff,#cbcbff,#ccf,#cdcdff,#cfcfff,#d1d1ff,#d4d4ff,#d7d7ff,#d9d9ff,#d9d9ff)"></i>
<i style="background:linear-gradient(90deg,#dedeff,#dedeff,#dcdcff,#dadaff,#d8d8ff,#d7d7ff,#d6d6ff,#d5d5ff,#d4d4ff,#d4d4ff,#d4d4ff,#d3d3ff,#d3d3ff,#d2d2ff,#d2d2ff,#d1d1ff,#d1d1ff,#d0d0ff,#cfcfff,#cfcfff,#cfcfff,#cfcfff,#cfcfff,#d0d0ff,#d0d0ff,#d1d1ff,#d2d2ff,#d3d3ff,#d5d5ff,#d6d6ff,#d7d7ff,#d8d8ff,#d8d8ff,#d9d9ff,#dadaff,#dadaff,#dbdbff,#dbdbff,#dcdcff,#dcdcff,#dcdcff,#dcdcff,#dcdcff,#dcdcff,#dcdcff,#dcdcff,#dbdbff,#dbdbff,#dadaff,#d9d9ff,#d8d8ff,#d6d6ff,#d5d5ff,#d3d3ff,#d2d2ff,#d1d1ff,#cfcfff,#ceceff,#cdcdff,#ccf,#ccf,#cbcbff,#ccf,#ccf,#cdcdff,#ceceff,#d0d0ff,#d2d2ff,#d5d5ff,#d8d8ff,#dadaff,#dadaff)"></i>
<i style="background:linear-gradient(90deg,#e0e0ff,#e0e0ff,#dedeff,#dcdcff,#dadaff,#d9d9ff,#d8d8ff,#d7d7ff,#d7d7ff,#d6d6ff,#d6d6ff,#d5d5ff,#d5d5ff,#d4d4ff,#d4d4ff,#d3d3ff,#d3d3ff,#d2d2ff,#d2d2ff,#d1d1ff,#d1d1ff,#d1d1ff,#d1d1ff,#d2d2ff,#d3d3ff,#d4d4ff,#d5d5ff,#d6d6ff,#d7d7ff,#d8d8ff,#d9d9ff,#dadaff,#dbdbff,#dcdcff,#dcdcff,#ddf,#ddf,#dedeff,#dedeff,#dedeff,#dfdfff,#dfdfff,#dfdfff,#dfdfff,#dedeff,#dedeff,#ddf,#dcdcff,#dbdbff,#dadaff,#d9d9ff,#d7d7ff,#d6d6ff,#d4d4ff,#d3d3ff,#d1d1ff,#d0d0ff,#cfcfff,#ceceff,#cdcdff,#cdcdff,#ccf,#cdcdff,#cdcdff,#ceceff,#cfcfff,#d1d1ff,#d3d3ff,#d6d6ff,#d9d9ff,#dbdbff,#dbdbff)"></i>
<i style="background:linear-gradient(90deg,#e1e1ff,#e1e1ff,#e0e0ff,#dedeff,#dcdcff,#dbdbff,#dadaff,#d9d9ff,#d9d9ff,#d8d8ff,#d8d8ff,#d7d7ff,#d7d7ff,#d6d6ff,#d6d6ff,#d5d5ff,#d5d5ff,#d4d4ff,#d4d4ff,#d3d3ff,#d3d3ff,#d3d3ff,#d4d4ff,#d4d4ff,#d5d5ff,#d6d6ff,#d7d7ff,#d8d8ff,#d9d9ff,#dbdbff,#dcdcff,#ddf,#dedeff,#dedeff,#dfdfff,#e0e0ff,#e0e0ff,#e0e0ff,#e1e1ff,#e1e1ff,#e1e1ff,#e1e1ff,#e1e1ff,#e1e1ff,#e0e0ff,#dfdfff,#dfdfff,#dedeff,#dcdcff,#dbdbff,#dadaff,#d8d8ff,#d7d7ff,#d5d5ff,#d4d4ff,#d2d2ff,#d1d1ff,#d0d0ff,#cfcfff,#ceceff,#ceceff,#ceceff,#ceceff,#ceceff,#cfcfff,#d1d1ff,#d2d2ff,#d4d4ff,#d7d7ff,#dadaff,#dcdcff,#dcdcff)"></i>
<i style="background:linear-gradient(90deg,#e3e3ff,#e3e3ff,#e1e1ff,#dfdfff,#dedeff,#ddf,#dcdcff,#dbdbff,#dadaff,#dadaff,#dadaff,#d9d9ff,#d9d9ff,#d8d8ff,#d8d8ff,#d7d7ff,#d7d7ff,#d6d6ff,#d6d6ff,#d5d5ff,#d5d5ff,#d5d5ff,#d6d6ff,#d6d6ff,#d7d7ff,#d8d8ff,#d9d9ff,#dbdbff,#dcdcff,#ddf,#dedeff,#dfdfff,#e0e0ff,#e1e1ff,#e2e2ff,#e2e2ff,#e3e3ff,#e3e3ff,#e3e3ff,#e3e3ff,#e3e3ff,#e3e3ff,#e3e3ff,#e2e2ff,#e2e2ff,#e1e1ff,#e0e0ff,#dfdfff,#dedeff,#dcdcff,#dbdbff,#d9d9ff,#d8d8ff,#d6d6ff,#d5d5ff,#d3d3ff,#d2d2ff,#d1d1ff,#d0d0ff,#cfcfff,#cfcfff,#cfcfff,#cfcfff,#d0d0ff,#d0d0ff,#d2d2ff,#d3d3ff,#d6d6ff,#d8d8ff,#dbdbff,#ddf,#ddf)"></i>
<i style="background:linear-gradient(90deg,#e5e5ff,#e5e5ff,#e3e3ff,#e1e1ff,#e0e0ff,#dfdfff,#dedeff,#ddf,#dcdcff,#dcdcff,#dbdbff,#dbdbff,#dbdbff,#dadaff,#dadaff,#d9d9ff,#d8d8ff,#d8d8ff,#d8d8ff,#d7d7ff,#d7d7ff,#d7d7ff,#d8d8ff,#d9d9ff,#d9d9ff,#dadaff,#dcdcff,#ddf,#dedeff,#dfdfff,#e0e0ff,#e1e1ff,#e2e2ff,#e3e3ff,#e4e4ff,#e4e4ff,#e5e5ff,#e5e5ff,#e5e5ff,#e5e5ff,#e5e5ff,#e5e5ff,#e5e5ff,#e4e4ff,#e4e4ff,#e3e3ff,#e2e2ff,#e0e0ff,#dfdfff,#ddf,#dcdcff,#dadaff,#d9d9ff,#d7d7ff,#d6d6ff,#d4d4ff,#d3d3ff,#d2d2ff,#d1d1ff,#d1d1ff,#d0d0ff,#d0d0ff,#d0d0ff,#d1d1ff,#d2d2ff,#d3d3ff,#d5d5ff,#d7d7ff,#d9d9ff,#dcdcff,#dedeff,#dedeff)"></i>
<i style="background:linear-gradient(90deg,#e6e6ff,#e6e6ff,#e5e5ff,#e3e3ff,#e1e1ff,#e0e0ff,#dfdfff,#dfdfff,#dedeff,#dedeff,#ddf,#ddf,#dcdcff,#dcdcff,#dbdbff,#dbdbff,#dadaff,#dadaff,#d9d9ff,#d9d9ff,#d9d9ff,#d9d9ff,#dadaff,#dbdbff,#dbdbff,#ddf,#dedeff,#dfdfff,#e0e0ff,#e1e1ff,#e3e3ff,#e4e4ff,#e5e5ff,#e5e5ff,#e6e6ff,#e7e7ff,#e7e7ff,#e7e7ff,#e8e8ff,#e8e8ff,#e7e7ff,#e7e7ff,#e7e7ff,#e6e6ff,#e5e5ff,#e4e4ff,#e3e3ff,#e2e2ff,#e0e0ff,#dfdfff,#ddf,#dbdbff,#dadaff,#d8d8ff,#d7d7ff,#d5d5ff,#d4d4ff,#d3d3ff,#d2d2ff,#d2d2ff,#d1d1ff,#d1d1ff,#d2d2ff,#d2d2ff,#d3d3ff,#d4d4ff,#d6d6ff,#d8d8ff,#dadaff,#ddf,#e0e0ff,#e0e0ff)"></i>
<i style="background:linear-gradient(90deg,#e8e8ff,#e8e8ff,#e6e6ff,#e5e5ff,#e3e3ff,#e2e2ff,#e1e1ff,#e0e0ff,#e0e0ff,#dfdfff,#dfdfff,#dedeff,#dedeff,#ddf,#ddf,#dcdcff,#dcdcff,#dcdcff,#dbdbff,#dbdbff,#dbdbff,#dbdbff,#dcdcff,#ddf,#ddf,#dfdfff,#e0e0ff,#e1e1ff,#e2e2ff,#e4e4ff,#e5e5ff,#e6e6ff,#e7e7ff,#e8e8ff,#e8e8ff,#e9e9ff,#e9e9ff,#e9e9ff,#eaeaff,#eaeaff,#e9e9ff,#e9e9ff,#e8e8ff,#e8e8ff,#e7e7ff,#e6e6ff,#e4e4ff,#e3e3ff,#e1e1ff,#e0e0ff,#dedeff,#dcdcff,#dbdbff,#d9d9ff,#d8d8ff,#d6d6ff,#d5d5ff,#d4d4ff,#d4d4ff,#d3d3ff,#d3d3ff,#d3d3ff,#d3d3ff,#d4d4ff,#d5d5ff,#d6d6ff,#d8d8ff,#d9d9ff,#dcdcff,#dedeff,#e1e1ff,#e1e1ff)"></i>
<i style="background:linear-gradient(90deg,#e9e9ff,#e9e9ff,#e8e8ff,#e6e6ff,#e5e5ff,#e4e4ff,#e3e3ff,#e2e2ff,#e1e1ff,#e1e1ff,#e0e0ff,#e0e0ff,#e0e0ff,#dfdfff,#dfdfff,#dedeff,#dedeff,#ddf,#ddf,#ddf,#ddf,#ddf,#dedeff,#dedeff,#dfdfff,#e0e0ff,#e2e2ff,#e3e3ff,#e4e4ff,#e6e6ff,#e7e7ff,#e8e8ff,#e9e9ff,#eaeaff,#eaeaff,#ebebff,#ebebff,#ebebff,#ececff,#ebebff,#ebebff,#ebebff,#eaeaff,#e9e9ff,#e8e8ff,#e7e7ff,#e6e6ff,#e4e4ff,#e3e3ff,#e1e1ff,#dfdfff,#dedeff,#dcdcff,#dadaff,#d9d9ff,#d8d8ff,#d7d7ff,#d6d6ff,#d5d5ff,#d4d4ff,#d4d4ff,#d4d4ff,#d5d5ff,#d5d5ff,#d6d6ff,#d7d7ff,#d9d9ff,#dbdbff,#ddf,#e0e0ff,#e2e2ff,#e2e2ff)"></i>
<i style="background:linear-gradient(90deg,#ebebff,#ebebff,#e9e9ff,#e7e7ff,#e6e6ff,#e5e5ff,#e4e4ff,#e3e3ff,#e3e3ff,#e2e2ff,#e2e2ff,#e1e1ff,#e1e1ff,#e1e1ff,#e0e0ff,#e0e0ff,#dfdfff,#dfdfff,#dfdfff,#dfdfff,#dfdfff,#dfdfff,#e0e0ff,#e0e0ff,#e1e1ff,#e2e2ff,#e4e4ff,#e5e5ff,#e6e6ff,#e7e7ff,#e9e9ff,#eaeaff,#ebebff,#ececff,#ececff,#ededff,#ededff,#ededff,#ededff,#ededff,#ededff,#ececff,#ececff,#ebebff,#eaeaff,#e8e8ff,#e7e7ff,#e5e5ff,#e4e4ff,#e2e2ff,#e0e0ff,#dfdfff,#ddf,#dbdbff,#dadaff,#d9d9ff,#d8d8ff,#d7d7ff,#d6d6ff,#d6d6ff,#d6d6ff,#d6d6ff,#d6d6ff,#d7d7ff,#d8d8ff,#d9d9ff,#dadaff,#dcdcff,#dedeff,#e1e1ff,#e3e3ff,#e3e3ff)"></i>
<i style="background:linear-gradient(90deg,#ececff,#ececff,#eaeaff,#e9e9ff,#e8e8ff,#e6e6ff,#e6e6ff,#e5e5ff,#e4e4ff,#e4e4ff,#e3e3ff,#e3e3ff,#e2e2ff,#e2e2ff,#e1e1ff,#e1e1ff,#e1e1ff,#e0e0ff,#e0e0ff,#e0e0ff,#e0e0ff,#e1e1ff,#e1e1ff,#e2e2ff,#e3e3ff,#e4e4ff,#e5e5ff,#e7e7ff,#e8e8ff,#e9e9ff,#eaeaff,#ececff,#ededff,#ededff,#eef,#efefff,#efefff,#efefff,#efefff,#efefff,#eef,#eef,#ededff,#ececff,#ebebff,#eaeaff,#e8e8ff,#e7e7ff,#e5e5ff,#e3e3ff,#e1e1ff,#e0e0ff,#dedeff,#ddf,#dbdbff,#dadaff,#d9d9ff,#d8d8ff,#d8d8ff,#d7d7ff,#d7d7ff,#d7d7ff,#d8d8ff,#d8d8ff,#d9d9ff,#dadaff,#dcdcff,#dedeff,#e0e0ff,#e2e2ff,#e4e4ff,#e4e4ff)"></i>
<i style="background:linear-gradient(90deg,#ededff,#ededff,#ececff,#eaeaff,#e9e9ff,#e8e8ff,#e7e7ff,#e6e6ff,#e6e6ff,#e5e5ff,#e5e5ff,#e4e4ff,#e4e4ff,#e3e3ff,#e3e3ff,#e2e2ff,#e2e2ff,#e2e2ff,#e2e2ff,#e2e2ff,#e2e2ff,#e2e2ff,#e3e3ff,#e4e4ff,#e5e5ff,#e6e6ff,#e7e7ff,#e8e8ff,#eaeaff,#ebebff,#ececff,#ededff,#eef,#efefff,#f0f0ff,#f0f0ff,#f1f1ff,#f1f1ff,#f1f1ff,#f0f0ff,#f0f0ff,#efefff,#efefff,#eef,#ececff,#ebebff,#e9e9ff,#e8e8ff,#e6e6ff,#e4e4ff,#e3e3ff,#e1e1ff,#dfdfff,#dedeff,#ddf,#dbdbff,#dadaff,#dadaff,#d9d9ff,#d9d9ff,#d9d9ff,#d9d9ff,#d9d9ff,#dadaff,#dbdbff,#dcdcff,#dedeff,#dfdfff,#e1e1ff,#e4e4ff,#e6e6ff,#e6e6ff)"></i>
<i style="background:linear-gradient(90deg,#eef,#eef,#ededff,#ebebff,#eaeaff,#e9e9ff,#e8e8ff,#e7e7ff,#e7e7ff,#e6e6ff,#e6e6ff,#e5e5ff,#e5e5ff,#e5e5ff,#e4e4ff,#e4e4ff,#e3e3ff,#e3e3ff,#e3e3ff,#e3e3ff,#e3e3ff,#e4e4ff,#e4e4ff,#e5e5ff,#e6e6ff,#e7e7ff,#e9e9ff,#eaeaff,#ebebff,#ededff,#eef,#efefff,#f0f0ff,#f1f1ff,#f1f1ff,#f2f2ff,#f2f2ff,#f2f2ff,#f2f2ff,#f2f2ff,#f1f1ff,#f1f1ff,#f0f0ff,#efefff,#eef,#ececff,#ebebff,#e9e9ff,#e7e7ff,#e5e5ff,#e4e4ff,#e2e2ff,#e0e0ff,#dfdfff,#dedeff,#ddf,#dcdcff,#dbdbff,#dbdbff,#dadaff,#dadaff,#dadaff,#dbdbff,#dcdcff,#dcdcff,#dedeff,#dfdfff,#e1e1ff,#e3e3ff,#e5e5ff,#e7e7ff,#e7e7ff)"></i>
<i style="background:linear-gradient(90deg,#efefff,#efefff,#eef,#ededff,#ebebff,#eaeaff,#e9e9ff,#e9e9ff,#e8e8ff,#e8e8ff,#e7e7ff,#e7e7ff,#e6e6ff,#e6e6ff,#e5e5ff,#e5e5ff,#e5e5ff,#e5e5ff,#e4e4ff,#e5e5ff,#e5e5ff,#e5e5ff,#e6e6ff,#e7e7ff,#e8e8ff,#e9e9ff,#eaeaff,#ececff,#ededff,#eef,#efefff,#f0f0ff,#f1f1ff,#f2f2ff,#f3f3ff,#f3f3ff,#f4f4ff,#f4f4ff,#f4f4ff,#f3f3ff,#f3f3ff,#f2f2ff,#f1f1ff,#f0f0ff,#efefff,#ededff,#ececff,#eaeaff,#e8e8ff,#e6e6ff,#e5e5ff,#e3e3ff,#e2e2ff,#e0e0ff,#dfdfff,#dedeff,#ddf,#ddf,#dcdcff,#dcdcff,#dcdcff,#dcdcff,#ddf,#ddf,#dedeff,#dfdfff,#e1e1ff,#e2e2ff,#e4e4ff,#e6e6ff,#e8e8ff,#e8e8ff)"></i>
<i style="background:linear-gradient(90deg,#f0f0ff,#f0f0ff,#efefff,#eef,#ececff,#ebebff,#ebebff,#eaeaff,#e9e9ff,#e9e9ff,#e8e8ff,#e8e8ff,#e7e7ff,#e7e7ff,#e7e7ff,#e6e6ff,#e6e6ff,#e6e6ff,#e6e6ff,#e6e6ff,#e6e6ff,#e7e7ff,#e7e7ff,#e8e8ff,#e9e9ff,#ebebff,#ececff,#ededff,#eef,#f0f0ff,#f1f1ff,#f2f2ff,#f3f3ff,#f4f4ff,#f4f4ff,#f5f5ff,#f5f5ff,#f5f5ff,#f5f5ff,#f5f5ff,#f4f4ff,#f3f3ff,#f2f2ff,#f1f1ff,#f0f0ff,#eef,#ededff,#ebebff,#e9e9ff,#e8e8ff,#e6e6ff,#e4e4ff,#e3e3ff,#e2e2ff,#e0e0ff,#dfdfff,#dfdfff,#dedeff,#dedeff,#dedeff,#dedeff,#dedeff,#dedeff,#dfdfff,#e0e0ff,#e1e1ff,#e2e2ff,#e4e4ff,#e6e6ff,#e8e8ff,#eaeaff,#eaeaff)"></i>
<i style="background:linear-gradient(90deg,#f1f1ff,#f1f1ff,#f0f0ff,#efefff,#ededff,#ececff,#ececff,#ebebff,#eaeaff,#eaeaff,#e9e9ff,#e9e9ff,#e8e8ff,#e8e8ff,#e8e8ff,#e7e7ff,#e7e7ff,#e7e7ff,#e7e7ff,#e7e7ff,#e8e8ff,#e8e8ff,#e9e9ff,#eaeaff,#ebebff,#ececff,#ededff,#eef,#f0f0ff,#f1f1ff,#f2f2ff,#f3f3ff,#f4f4ff,#f5f5ff,#f6f6ff,#f6f6ff,#f6f6ff,#f6f6ff,#f6f6ff,#f6f6ff,#f5f5ff,#f4f4ff,#f4f4ff,#f2f2ff,#f1f1ff,#efefff,#eef,#ececff,#eaeaff,#e9e9ff,#e7e7ff,#e5e5ff,#e4e4ff,#e3e3ff,#e2e2ff,#e1e1ff,#e0e0ff,#e0e0ff,#dfdfff,#dfdfff,#dfdfff,#dfdfff,#e0e0ff,#e1e1ff,#e1e1ff,#e3e3ff,#e4e4ff,#e5e5ff,#e7e7ff,#e9e9ff,#ebebff,#ebebff)"></i>
<i style="background:linear-gradient(90deg,#f2f2ff,#f2f2ff,#f1f1ff,#f0f0ff,#eef,#ededff,#ededff,#ececff,#ebebff,#ebebff,#eaeaff,#eaeaff,#e9e9ff,#e9e9ff,#e9e9ff,#e8e8ff,#e8e8ff,#e8e8ff,#e8e8ff,#e8e8ff,#e9e9ff,#e9e9ff,#eaeaff,#ebebff,#ececff,#ededff,#efefff,#f0f0ff,#f1f1ff,#f2f2ff,#f3f3ff,#f5f5ff,#f5f5ff,#f6f6ff,#f7f7ff,#f7f7ff,#f7f7ff,#f8f8ff,#f7f7ff,#f7f7ff,#f6f6ff,#f6f6ff,#f5f5ff,#f3f3ff,#f2f2ff,#f1f1ff,#efefff,#ededff,#ececff,#eaeaff,#e8e8ff,#e7e7ff,#e5e5ff,#e4e4ff,#e3e3ff,#e2e2ff,#e2e2ff,#e1e1ff,#e1e1ff,#e1e1ff,#e1e1ff,#e1e1ff,#e2e2ff,#e2e2ff,#e3e3ff,#e4e4ff,#e6e6ff,#e7e7ff,#e9e9ff,#ebebff,#ececff,#ececff)"></i>
<i style="background:linear-gradient(90deg,#f3f3ff,#f3f3ff,#f2f2ff,#f1f1ff,#efefff,#eef,#eef,#ededff,#ececff,#ececff,#ebebff,#ebebff,#eaeaff,#eaeaff,#eaeaff,#eaeaff,#e9e9ff,#e9e9ff,#e9e9ff,#eaeaff,#eaeaff,#ebebff,#ebebff,#ececff,#ededff,#efefff,#f0f0ff,#f1f1ff,#f2f2ff,#f4f4ff,#f5f5ff,#f6f6ff,#f7f7ff,#f7f7ff,#f8f8ff,#f8f8ff,#f9f9ff,#f9f9ff,#f8f8ff,#f8f8ff,#f7f7ff,#f7f7ff,#f6f6ff,#f4f4ff,#f3f3ff,#f2f2ff,#f0f0ff,#eef,#ededff,#ebebff,#e9e9ff,#e8e8ff,#e7e7ff,#e5e5ff,#e4e4ff,#e4e4ff,#e3e3ff,#e3e3ff,#e2e2ff,#e2e2ff,#e3e3ff,#e3e3ff,#e3e3ff,#e4e4ff,#e5e5ff,#e6e6ff,#e7e7ff,#e9e9ff,#eaeaff,#ececff,#eef,#eef)"></i>
<i style="background:linear-gradient(90deg,#f4f4ff,#f4f4ff,#f3f3ff,#f1f1ff,#f0f0ff,#efefff,#eef,#eef,#ededff,#ededff,#ececff,#ececff,#ebebff,#ebebff,#ebebff,#ebebff,#eaeaff,#eaeaff,#ebebff,#ebebff,#ebebff,#ececff,#ededff,#eef,#efefff,#f0f0ff,#f1f1ff,#f2f2ff,#f4f4ff,#f5f5ff,#f6f6ff,#f7f7ff,#f8f8ff,#f8f8ff,#f9f9ff,#f9f9ff,#fafaff,#fafaff,#f9f9ff,#f9f9ff,#f8f8ff,#f8f8ff,#f7f7ff,#f5f5ff,#f4f4ff,#f2f2ff,#f1f1ff,#efefff,#eef,#ececff,#eaeaff,#e9e9ff,#e8e8ff,#e7e7ff,#e6e6ff,#e5e5ff,#e5e5ff,#e4e4ff,#e4e4ff,#e4e4ff,#e4e4ff,#e5e5ff,#e5e5ff,#e6e6ff,#e7e7ff,#e8e8ff,#e9e9ff,#eaeaff,#ececff,#ededff,#efefff,#efefff)"></i>
<i style="background:linear-gradient(90deg,#f5f5ff,#f5f5ff,#f3f3ff,#f2f2ff,#f1f1ff,#f0f0ff,#efefff,#efefff,#eef,#ededff,#ededff,#ededff,#ececff,#ececff,#ececff,#ebebff,#ebebff,#ebebff,#ececff,#ececff,#ececff,#ededff,#eef,#efefff,#f0f0ff,#f1f1ff,#f2f2ff,#f3f3ff,#f5f5ff,#f6f6ff,#f7f7ff,#f8f8ff,#f9f9ff,#fafaff,#fafaff,#fafaff,#fbfbff,#fbfbff,#fafaff,#fafaff,#f9f9ff,#f8f8ff,#f7f7ff,#f6f6ff,#f5f5ff,#f3f3ff,#f2f2ff,#f0f0ff,#efefff,#ededff,#ececff,#eaeaff,#e9e9ff,#e8e8ff,#e7e7ff,#e6e6ff,#e6e6ff,#e6e6ff,#e6e6ff,#e6e6ff,#e6e6ff,#e6e6ff,#e7e7ff,#e7e7ff,#e8e8ff,#e9e9ff,#eaeaff,#ececff,#ededff,#efefff,#f0f0ff,#f0f0ff)"></i>
<i style="background:linear-gradient(90deg,#f5f5ff,#f5f5ff,#f4f4ff,#f3f3ff,#f2f2ff,#f1f1ff,#f0f0ff,#efefff,#efefff,#eef,#eef,#ededff,#ededff,#ededff,#ededff,#ececff,#ececff,#ececff,#ededff,#ededff,#ededff,#eef,#efefff,#f0f0ff,#f1f1ff,#f2f2ff,#f3f3ff,#f5f5ff,#f6f6ff,#f7f7ff,#f8f8ff,#f9f9ff,#fafaff,#fafaff,#fbfbff,#fbfbff,#fbfbff,#fbfbff,#fbfbff,#fbfbff,#fafaff,#f9f9ff,#f8f8ff,#f7f7ff,#f6f6ff,#f4f4ff,#f3f3ff,#f1f1ff,#f0f0ff,#eef,#ededff,#ebebff,#eaeaff,#e9e9ff,#e8e8ff,#e8e8ff,#e7e7ff,#e7e7ff,#e7e7ff,#e7e7ff,#e7e7ff,#e8e8ff,#e8e8ff,#e9e9ff,#eaeaff,#ebebff,#ececff,#ededff,#efefff,#f0f0ff,#f1f1ff,#f1f1ff)"></i>
<i style="background:linear-gradient(90deg,#f6f6ff,#f6f6ff,#f5f5ff,#f4f4ff,#f3f3ff,#f2f2ff,#f1f1ff,#f0f0ff,#f0f0ff,#efefff,#efefff,#eef,#eef,#eef,#ededff,#ededff,#ededff,#ededff,#eef,#eef,#eef,#efefff,#f0f0ff,#f1f1ff,#f2f2ff,#f3f3ff,#f4f4ff,#f6f6ff,#f7f7ff,#f8f8ff,#f9f9ff,#fafaff,#fbfbff,#fbfbff,#fcfcff,#fcfcff,#fcfcff,#fcfcff,#fcfcff,#fcfcff,#fbfbff,#fafaff,#f9f9ff,#f8f8ff,#f7f7ff,#f5f5ff,#f4f4ff,#f2f2ff,#f1f1ff,#efefff,#eef,#ededff,#ebebff,#ebebff,#eaeaff,#e9e9ff,#e9e9ff,#e9e9ff,#e9e9ff,#e9e9ff,#e9e9ff,#eaeaff,#eaeaff,#ebebff,#ebebff,#ececff,#ededff,#efefff,#f0f0ff,#f1f1ff,#f3f3ff,#f3f3ff)"></i>
<i style="background:linear-gradient(90deg,#f7f7ff,#f7f7ff,#f6f6ff,#f5f5ff,#f4f4ff,#f3f3ff,#f2f2ff,#f1f1ff,#f0f0ff,#f0f0ff,#efefff,#efefff,#efefff,#eef,#eef,#eef,#eef,#eef,#efefff,#efefff,#efefff,#f0f0ff,#f1f1ff,#f2f2ff,#f3f3ff,#f4f4ff,#f5f5ff,#f7f7ff,#f8f8ff,#f9f9ff,#fafaff,#fbfbff,#fcfcff,#fcfcff,#fdfdff,#fdfdff,#fdfdff,#fdfdff,#fdfdff,#fcfcff,#fcfcff,#fbfbff,#fafaff,#f9f9ff,#f7f7ff,#f6f6ff,#f5f5ff,#f3f3ff,#f2f2ff,#f0f0ff,#efefff,#eef,#ededff,#ececff,#ebebff,#ebebff,#eaeaff,#eaeaff,#eaeaff,#eaeaff,#ebebff,#ebebff,#ececff,#ececff,#ededff,#eef,#efefff,#f0f0ff,#f1f1ff,#f3f3ff,#f4f4ff,#f4f4ff)"></i>
<i style="background:linear-gradient(90deg,#f7f7ff,#f7f7ff,#f6f6ff,#f5f5ff,#f4f4ff,#f3f3ff,#f3f3ff,#f2f2ff,#f1f1ff,#f1f1ff,#f0f0ff,#f0f0ff,#f0f0ff,#efefff,#efefff,#efefff,#efefff,#efefff,#efefff,#f0f0ff,#f0f0ff,#f1f1ff,#f2f2ff,#f3f3ff,#f4f4ff,#f5f5ff,#f6f6ff,#f7f7ff,#f9f9ff,#fafaff,#fbfbff,#fcfcff,#fcfcff,#fdfdff,#fdfdff,#fefeff,#fefeff,#fefeff,#fdfdff,#fdfdff,#fcfcff,#fcfcff,#fbfbff,#f9f9ff,#f8f8ff,#f7f7ff,#f5f5ff,#f4f4ff,#f3f3ff,#f1f1ff,#f0f0ff,#efefff,#eef,#ededff,#ececff,#ececff,#ececff,#ececff,#ececff,#ececff,#ececff,#ededff,#ededff,#eef,#efefff,#efefff,#f0f0ff,#f1f1ff,#f3f3ff,#f4f4ff,#f5f5ff,#f5f5ff)"></i>
<i style="background:linear-gradient(90deg,#f8f8ff,#f8f8ff,#f7f7ff,#f6f6ff,#f5f5ff,#f4f4ff,#f3f3ff,#f3f3ff,#f2f2ff,#f1f1ff,#f1f1ff,#f1f1ff,#f0f0ff,#f0f0ff,#f0f0ff,#f0f0ff,#f0f0ff,#f0f0ff,#f0f0ff,#f1f1ff,#f1f1ff,#f2f2ff,#f3f3ff,#f4f4ff,#f5f5ff,#f6f6ff,#f7f7ff,#f8f8ff,#f9f9ff,#fafaff,#fbfbff,#fcfcff,#fdfdff,#fefeff,#fefeff,#fefeff,#fefeff,#fefeff,#fefeff,#fefeff,#fdfdff,#fcfcff,#fbfbff,#fafaff,#f9f9ff,#f8f8ff,#f6f6ff,#f5f5ff,#f3f3ff,#f2f2ff,#f1f1ff,#f0f0ff,#efefff,#eef,#eef,#ededff,#ededff,#ededff,#ededff,#ededff,#eef,#eef,#efefff,#efefff,#f0f0ff,#f1f1ff,#f2f2ff,#f3f3ff,#f4f4ff,#f5f5ff,#f6f6ff,#f6f6ff)"></i>
<i style="background:linear-gradient(90deg,#f8f8ff,#f8f8ff,#f8f8ff,#f7f7ff,#f6f6ff,#f5f5ff,#f4f4ff,#f3f3ff,#f3f3ff,#f2f2ff,#f2f2ff,#f1f1ff,#f1f1ff,#f1f1ff,#f1f1ff,#f1f1ff,#f1f1ff,#f1f1ff,#f1f1ff,#f2f2ff,#f2f2ff,#f3f3ff,#f4f4ff,#f5f5ff,#f6f6ff,#f7f7ff,#f8f8ff,#f9f9ff,#fafaff,#fbfbff,#fcfcff,#fdfdff,#fefeff,#fefeff,#fff,#fff,#fff,#fff,#fff,#fefeff,#fefeff,#fdfdff,#fcfcff,#fbfbff,#fafaff,#f8f8ff,#f7f7ff,#f6f6ff,#f4f4ff,#f3f3ff,#f2f2ff,#f1f1ff,#f0f0ff,#efefff,#efefff,#efefff,#efefff,#eef,#efefff,#efefff,#efefff,#f0f0ff,#f0f0ff,#f1f1ff,#f1f1ff,#f2f2ff,#f3f3ff,#f4f4ff,#f5f5ff,#f6f6ff,#f7f7ff,#f7f7ff)"></i>
<i style="background:linear-gradient(90deg,#f8f8ff,#f8f8ff,#f8f8ff,#f7f7ff,#f6f6ff,#f5f5ff,#f4f4ff,#f3f3ff,#f3f3ff,#f2f2ff,#f2f2ff,#f1f1ff,#f1f1ff,#f1f1ff,#f1f1ff,#f1f1ff,#f1f1ff,#f1f1ff,#f1f1ff,#f2f2ff,#f2f2ff,#f3f3ff,#f4f4ff,#f5f5ff,#f6f6ff,#f7f7ff,#f8f8ff,#f9f9ff,#fafaff,#fbfbff,#fcfcff,#fdfdff,#fefeff,#fefeff,#fff,#fff,#fff,#fff,#fff,#fefeff,#fefeff,#fdfdff,#fcfcff,#fbfbff,#fafaff,#f8f8ff,#f7f7ff,#f6f6ff,#f4f4ff,#f3f3ff,#f2f2ff,#f1f1ff,#f0f0ff,#efefff,#efefff,#efefff,#efefff,#eef,#efefff,#efefff,#efefff,#f0f0ff,#f0f0ff,#f1f1ff,#f1f1ff,#f2f2ff,#f3f3ff,#f4f4ff,#f5f5ff,#f6f6ff,#f7f7ff,#f7f7ff)"></i>
<i style="background:linear-gradient(90deg,#f8f8ff,#f8f8ff,#f8f8ff,#f7f7ff,#f6f6ff,#f5f5ff,#f4f4ff,#f3f3ff,#f3f3ff,#f2f2ff,#f2f2ff,#f1f1ff,#f1f1ff,#f1f1ff,#f1f1ff,#f1f1ff,#f1f1ff,#f1f1ff,#f1f1ff,#f2f2ff,#f2f2ff,#f3f3ff,#f4f4ff,#f5f5ff,#f6f6ff,#f7f7ff,#f8f8ff,#f9f9ff,#fafaff,#fbfbff,#fcfcff,#fdfdff,#fefeff,#fefeff,#fff,#fff,#fff,#fff,#fff,#fefeff,#fefeff,#fdfdff,#fcfcff,#fbfbff,#fafaff,#f8f8ff,#f7f7ff,#f6f6ff,#f4f4ff,#f3f3ff,#f2f2ff,#f1f1ff,#f0f0ff,#efefff,#efefff,#efefff,#efefff,#eef,#efefff,#efefff,#efefff,#f0f0ff,#f0f0ff,#f1f1ff,#f1f1ff,#f2f2ff,#f3f3ff,#f4f4ff,#f5f5ff,#f6f6ff,#f7f7ff,#f7f7ff)"></i>
<i style="background:linear-gradient(90deg,#f8f8ff,#f8f8ff,#f8f8ff,#f7f7ff,#f6f6ff,#f5f5ff,#f4f4ff,#f3f3ff,#f3f3ff,#f2f2ff,#f2f2ff,#f1f1ff,#f1f1ff,#f1f1ff,#f1f1ff,#f1f1ff,#f1f1ff,#f1f1ff,#f1f1ff,#f2f2ff,#f2f2ff,#f3f3ff,#f4f4ff,#f5f5ff,#f6f6ff,#f7f7ff,#f8f8ff,#f9f9ff,#fafaff,#fbfbff,#fcfcff,#fdfdff,#fefeff,#fefeff,#fff,#fff,#fff,#fff,#fff,#fefeff,#fefeff,#fdfdff,#fcfcff,#fbfbff,#fafaff,#f8f8ff,#f7f7ff,#f6f6ff,#f4f4ff,#f3f3ff,#f2f2ff,#f1f1ff,#f0f0ff,#efefff,#efefff,#efefff,#efefff,#eef,#efefff,#efefff,#efefff,#f0f0ff,#f0f0ff,#f1f1ff,#f1f1ff,#f2f2ff,#f3f3ff,#f4f4ff,#f5f5ff,#f6f6ff,#f7f7ff,#f7f7ff)"></i></div></div>
<svg width="1280" height="1280" viewBox="0 0 1280 1280">
<clipPath id="c1"><rect x="59.76" y="47.81" width="532.43" height="532.43"/></clipPath>
<clipPath id="c2"><rect x="699.76" y="47.81" width="532.43" height="532.43"/></clipPath>
<clipPath id="c3"><rect x="59.76" y="687.81" width="532.43" height="532.43"/></clipPath>
<clipPath id="c4"><rect x="699.76" y="687.81" width="532.43" height="532.43"/></clipPath>
<path d="M96.9 67.5h0M144.7 67.5h0M200.0 67.5h0M218.4 67.5h0M229.9 67.5h0M239.8 67.5h0M389.7 67.5h0M485.8 67.5h0M486.3 67.5h0M504.7 67.5h0M563.5 67.5h0M566.5 67.5h0M79.5 94.7h0M81.0 94.7h0M82.5 94.7h0M85.0 94.7h0M86.0 94.7h0M89.4 94.7h0M90.4 94.7h0M91.9 94.7h0M92.9 94.7h0M96.4 94.7h0M97.9 94.7h0M98.9 94.7h0M100.4 94.7h0M101.4 94.7h0M102.9 94.7h0M103.9 94.7h0M105.4 94.7h0M108.9 94.7h0M112.8 94.7h0M114.3 94.7h0M115.8 94.7h0M117.3 94.7h0M118.8 94.7h0M122.8 94.7h0M124.3 94.7h0M127.8 94.7h0M136.2 94.7h0M139.7 94.7h0M140.7 94.7h0M142.7 94.7h0M152.2 94.7h0M160.2 94.7h0M166.6 94.7h0M171.6 94.7h0M216.9 94.7h0M239.8 94.7h0M256.8 94.7h0M279.2 94.7h0M280.2 94.7h0M357.8 94.7h0M369.3 94.7h0M400.2 94.7h0M462.9 94.7h0M493.8 94.7h0M537.6 94.7h0M104.9 104.9h0M145.7 104.9h0M149.7 104.9h0M161.6 104.9h0M182.6 104.9h0M192.0 104.9h0M232.4 104.9h0M242.3 104.9h0M246.8 104.9h0M253.3 104.9h0M256.8 104.9h0M278.7 104.9h0M298.6 104.9h0M299.6 104.9h0M309.0 104.9h0M485.3 104.9h0M500.3 104.9h0M512.7 104.9h0M570.5 104.9h0M108.4 118.5h0M295.1 118.5h0M315.0 128.7h0M423.6 128.7h0M326.5 132.1h0M464.9 132.1h0M169.6 145.7h0M296.6 145.7h0M412.1 145.7h0M511.7 145.7h0M203.0 159.3h0M543.1 162.7h0M224.9 179.7h0M510.2 186.5h0M565.5 186.5h0M134.8 189.9h0M301.6 189.9h0M180.1 203.5h0M334.9 203.5h0M347.9 203.5h0M472.4 206.9h0M233.9 230.7h0M326.5 234.1h0M313.0 240.9h0M519.2 240.9h0M175.1 247.7h0M135.8 268.1h0M389.2 271.5h0M99.9 274.9h0M181.6 274.9h0M209.9 274.9h0M454.5 274.9h0M490.3 274.9h0M554.5 278.3h0M322.5 281.7h0M376.3 281.7h0M495.3 281.7h0M199.0 285.1h0M211.4 285.1h0M333.9 285.1h0M344.9 285.1h0M324.5 291.9h0M134.3 295.3h0M186.0 295.3h0M212.9 295.3h0M240.3 295.3h0M267.2 295.3h0M427.6 295.3h0M554.0 295.3h0M97.9 305.5h0M274.7 305.5h0M99.4 308.9h0M112.3 308.9h0M129.3 308.9h0M156.7 308.9h0M159.7 308.9h0M222.9 308.9h0M252.3 308.9h0M257.8 308.9h0M287.6 308.9h0M307.1 308.9h0M332.4 308.9h0M366.8 308.9h0M429.1 308.9h0M459.4 308.9h0M537.1 308.9h0M195.0 312.3h0M238.3 312.3h0M358.3 312.3h0M467.9 312.3h0M471.4 312.3h0M524.2 312.3h0M526.2 312.3h0M173.1 319.1h0M422.1 319.1h0M366.8 325.9h0M80.5 329.3h0M109.9 329.3h0M316.0 329.3h0M445.5 329.3h0M109.9 332.7h0M390.2 332.7h0M570.5 336.1h0M206.5 342.9h0M318.5 342.9h0M330.0 342.9h0M371.3 342.9h0M407.1 342.9h0M90.9 349.7h0M203.0 349.7h0M412.6 349.7h0M170.6 363.3h0M442.5 363.3h0M538.6 363.3h0M286.1 370.1h0M532.1 370.1h0M85.0 373.5h0M572.5 373.5h0M83.0 376.9h0M129.3 387.1h0M123.8 390.5h0M301.1 400.7h0M337.9 400.7h0M350.9 400.7h0M500.8 400.7h0M204.0 410.9h0M294.1 410.9h0M387.7 410.9h0M220.9 414.3h0M371.8 414.3h0M502.8 414.3h0M567.5 414.3h0M99.4 417.7h0M362.8 417.7h0M365.8 417.7h0M320.0 424.5h0M228.9 427.9h0M226.9 431.3h0M204.0 434.7h0M86.5 438.1h0M137.2 438.1h0M244.3 438.1h0M336.4 438.1h0M84.5 444.9h0M89.4 444.9h0M107.9 451.7h0M324.0 458.5h0M521.2 461.9h0M570.0 461.9h0M206.0 475.5h0M437.5 485.7h0M460.9 492.5h0M499.8 492.5h0M539.1 499.3h0M240.8 506.1h0M562.5 506.1h0M104.9 543.5h0M441.5 546.9h0M186.5 560.5h0" stroke="#000" stroke-width="1.4" stroke-linecap="square" fill="none"/>
<path d="M266.95 580.24V47.81M383.97 580.24V47.81" stroke="#006400" stroke-width="2.25" stroke-dasharray="9 9" stroke-linecap="round" fill="none" clip-path="url(#c1)"/>
<path d="M59.76 353.12H592.19" stroke="#cd0000" stroke-width="2.25" stroke-dasharray="9 9" stroke-linecap="round" fill="none" clip-path="url(#c1)"/>
<rect x="59.76" y="47.81" width="532.43" height="532.43" fill="none" stroke="#000" stroke-width="0.75"/>
<path d="M126.27 580.24H524.65M126.27 580.24v5.98M225.86 580.24v5.98M325.46 580.24v5.98M425.05 580.24v5.98M524.65 580.24v5.98" fill="none" stroke="#000" stroke-width="0.75"/>
<text transform="translate(125.47 601.94) scale(1 1.08)" font-size="10.4" text-anchor="middle">-400</text>
<text transform="translate(225.06 601.94) scale(1 1.08)" font-size="10.4" text-anchor="middle">-200</text>
<text transform="translate(324.66 601.94) scale(1 1.08)" font-size="10.4" text-anchor="middle">0</text>
<text transform="translate(424.25 601.94) scale(1 1.08)" font-size="10.4" text-anchor="middle">200</text>
<text transform="translate(523.85 601.94) scale(1 1.08)" font-size="10.4" text-anchor="middle">400</text>
<path d="M59.76 67.53V577.52M59.76 577.52h-5.98M59.76 407.52h-5.98M59.76 237.53h-5.98M59.76 67.53h-5.98" fill="none" stroke="#000" stroke-width="0.75"/>
<text transform="translate(45.36 577.52) rotate(-90) scale(1 1.08)" font-size="10.4" text-anchor="middle">85</text>
<text transform="translate(45.36 407.52) rotate(-90) scale(1 1.08)" font-size="10.4" text-anchor="middle">90</text>
<text transform="translate(45.36 237.53) rotate(-90) scale(1 1.08)" font-size="10.4" text-anchor="middle">95</text>
<text transform="translate(45.36 67.53) rotate(-90) scale(1 1.08)" font-size="10.4" text-anchor="middle">100</text>
<text x="325.98" y="626.00" font-size="15.9" text-anchor="middle">Distance to peak summit</text>
<text transform="translate(21.50 314.02) rotate(-90)" font-size="15.9" text-anchor="middle">Motif score</text>
<text transform="translate(322.90 31.85) scale(1 1.05)" font-size="21.4" font-weight="bold" text-anchor="middle" textLength="213.8">Top hit for each peak</text>
<path d="M851.5 47.81V580.24M1048.5 47.81V580.24" stroke="#fff" stroke-width="0.9" fill="none"/>
<path d="M902.35 580.24V47.81M1028.48 580.24V47.81" stroke="#006400" stroke-width="1.5" stroke-dasharray="6 6" stroke-linecap="round" fill="none" clip-path="url(#c2)"/>
<path d="M699.76 356.17H1232.19" stroke="#cd0000" stroke-width="1.5" stroke-dasharray="6 6" stroke-linecap="round" fill="none" clip-path="url(#c2)"/>
<rect x="699.76" y="47.81" width="532.43" height="532.43" fill="none" stroke="#000" stroke-width="0.75"/>
<path d="M750.72 580.24H1180.11M750.72 580.24v5.98M858.07 580.24v5.98M965.42 580.24v5.98M1072.77 580.24v5.98M1180.11 580.24v5.98" fill="none" stroke="#000" stroke-width="0.75"/>
<text transform="translate(749.92 601.94) scale(1 1.08)" font-size="10.4" text-anchor="middle">-400</text>
<text transform="translate(857.27 601.94) scale(1 1.08)" font-size="10.4" text-anchor="middle">-200</text>
<text transform="translate(964.62 601.94) scale(1 1.08)" font-size="10.4" text-anchor="middle">0</text>
<text transform="translate(1071.97 601.94) scale(1 1.08)" font-size="10.4" text-anchor="middle">200</text>
<text transform="translate(1179.31 601.94) scale(1 1.08)" font-size="10.4" text-anchor="middle">400</text>
<path d="M699.76 48.34V561.39M699.76 561.39h-5.98M699.76 488.09h-5.98M699.76 414.80h-5.98M699.76 341.51h-5.98M699.76 268.22h-5.98M699.76 194.92h-5.98M699.76 121.63h-5.98M699.76 48.34h-5.98" fill="none" stroke="#000" stroke-width="0.75"/>
<text transform="translate(685.36 561.39) rotate(-90) scale(1 1.08)" font-size="10.4" text-anchor="middle">86</text>
<text transform="translate(685.36 488.09) rotate(-90) scale(1 1.08)" font-size="10.4" text-anchor="middle">88</text>
<text transform="translate(685.36 414.80) rotate(-90) scale(1 1.08)" font-size="10.4" text-anchor="middle">90</text>
<text transform="translate(685.36 341.51) rotate(-90) scale(1 1.08)" font-size="10.4" text-anchor="middle">92</text>
<text transform="translate(685.36 268.22) rotate(-90) scale(1 1.08)" font-size="10.4" text-anchor="middle">94</text>
<text transform="translate(685.36 194.92) rotate(-90) scale(1 1.08)" font-size="10.4" text-anchor="middle">96</text>
<text transform="translate(685.36 121.63) rotate(-90) scale(1 1.08)" font-size="10.4" text-anchor="middle">98</text>
<text transform="translate(685.36 48.34) rotate(-90) scale(1 1.08)" font-size="10.4" text-anchor="middle">100</text>
<text x="965.98" y="626.00" font-size="15.9" text-anchor="middle">Distance to peak summit</text>
<text transform="translate(661.50 314.02) rotate(-90)" font-size="15.9" text-anchor="middle">Motif score</text>
<text transform="translate(966.30 31.85) scale(1 1.05)" font-size="21.4" font-weight="bold" text-anchor="middle" textLength="334.2">Density heat map for the top hits</text>
<polygon points="79.1,1200.3 81.3,1200.3 83.6,1200.3 85.8,1200.3 88.1,1200.2 90.3,1200.2 92.6,1200.1 94.8,1200.0 97.1,1199.9 99.3,1199.8 101.6,1199.7 103.8,1199.5 106.1,1199.3 108.4,1199.0 110.6,1198.7 112.9,1198.4 115.1,1198.0 117.4,1197.6 119.6,1197.0 121.9,1196.4 124.1,1195.8 126.4,1195.0 128.6,1194.2 130.9,1193.3 133.1,1192.3 135.4,1191.3 137.7,1190.1 139.9,1188.9 142.2,1187.5 144.4,1186.1 146.7,1184.7 148.9,1183.1 151.2,1181.5 153.4,1179.9 155.7,1178.2 157.9,1176.4 160.2,1174.6 162.5,1172.7 164.7,1170.8 167.0,1168.9 169.2,1166.8 171.5,1164.7 173.7,1162.6 176.0,1160.3 178.2,1157.9 180.5,1155.4 182.7,1152.8 185.0,1150.0 187.2,1147.0 189.5,1143.9 191.8,1140.6 194.0,1137.1 196.3,1133.4 198.5,1129.5 200.8,1125.4 203.0,1121.1 205.3,1116.6 207.5,1112.0 209.8,1107.3 212.0,1102.4 214.3,1097.4 216.6,1092.4 218.8,1087.3 221.1,1082.2 223.3,1077.1 225.6,1072.1 227.8,1067.0 230.1,1062.1 232.3,1057.2 234.6,1052.4 236.8,1047.7 239.1,1043.1 241.3,1038.7 243.6,1034.4 245.9,1030.2 248.1,1026.2 250.4,1022.3 252.6,1018.6 254.9,1014.9 257.1,1011.4 259.4,1008.0 261.6,1004.6 263.9,1001.3 266.1,997.9 268.4,994.5 270.6,991.0 272.9,987.4 275.2,983.5 277.4,979.4 279.7,975.1 281.9,970.4 284.2,965.3 286.4,959.9 288.7,954.2 290.9,948.1 293.2,941.7 295.4,935.0 297.7,928.1 300.0,921.2 302.2,914.2 304.5,907.4 306.7,900.7 309.0,894.4 311.2,888.6 313.5,883.4 315.7,879.0 318.0,875.3 320.2,872.5 322.5,870.8 324.7,870.0 327.0,870.4 329.3,871.8 331.5,874.3 333.8,877.8 336.0,882.4 338.3,888.0 340.5,894.4 342.8,901.6 345.0,909.6 347.3,918.1 349.5,927.2 351.8,936.7 354.1,946.6 356.3,956.6 358.6,966.7 360.8,976.9 363.1,987.0 365.3,996.9 367.6,1006.6 369.8,1015.9 372.1,1024.8 374.3,1033.3 376.6,1041.1 378.8,1048.3 381.1,1054.8 383.4,1060.5 385.6,1065.4 387.9,1069.4 390.1,1072.5 392.4,1074.6 394.6,1075.8 396.9,1075.8 399.1,1074.9 401.4,1072.8 403.6,1069.7 405.9,1065.5 408.1,1060.1 410.4,1053.6 412.7,1046.0 414.9,1037.3 417.2,1027.4 419.4,1016.4 421.7,1004.4 423.9,991.2 426.2,977.1 428.4,962.0 430.7,946.0 432.9,929.1 435.2,911.7 437.5,893.6 439.7,875.2 442.0,856.7 444.2,838.1 446.5,819.8 448.7,802.0 451.0,785.0 453.2,769.0 455.5,754.3 457.7,741.2 460.0,730.0 462.2,720.8 464.5,713.8 466.8,709.3 469.0,707.4 471.3,708.1 473.5,711.4 475.8,717.5 478.0,726.1 480.3,737.2 482.5,750.6 484.8,766.1 487.0,783.6 489.3,802.6 491.6,823.0 493.8,844.5 496.1,866.7 498.3,889.4 500.6,912.2 502.8,935.0 505.1,957.4 507.3,979.2 509.6,1000.2 511.8,1020.4 514.1,1039.4 516.3,1057.3 518.6,1074.0 520.9,1089.3 523.1,1103.4 525.4,1116.2 527.6,1127.7 529.9,1138.0 532.1,1147.2 534.4,1155.3 536.6,1162.4 538.9,1168.5 541.1,1173.8 543.4,1178.4 545.7,1182.3 547.9,1185.6 550.2,1188.3 552.4,1190.6 554.7,1192.5 556.9,1194.1 559.2,1195.4 561.4,1196.4 563.7,1197.3 565.9,1198.0 568.2,1198.5 570.4,1198.9 572.7,1199.3" fill="#f5deb3" stroke="#000" stroke-width="1.05" stroke-linejoin="round"/>
<path d="M300.00 1220.24V687.81" stroke="#cd0000" stroke-width="1.5" stroke-dasharray="6 6" stroke-linecap="round" fill="none" clip-path="url(#c3)"/>
<rect x="59.76" y="687.81" width="532.43" height="532.43" fill="none" stroke="#000" stroke-width="0.75"/>
<path d="M151.50 1220.24H489.00M151.50 1220.24v5.98M264.00 1220.24v5.98M376.50 1220.24v5.98M489.00 1220.24v5.98" fill="none" stroke="#000" stroke-width="0.75"/>
<text transform="translate(150.70 1241.94) scale(1 1.08)" font-size="10.4" text-anchor="middle">85</text>
<text transform="translate(263.20 1241.94) scale(1 1.08)" font-size="10.4" text-anchor="middle">90</text>
<text transform="translate(375.70 1241.94) scale(1 1.08)" font-size="10.4" text-anchor="middle">95</text>
<text transform="translate(488.20 1241.94) scale(1 1.08)" font-size="10.4" text-anchor="middle">100</text>
<path d="M59.76 760.94V1200.45M59.76 1200.45h-5.98M59.76 1127.20h-5.98M59.76 1053.95h-5.98M59.76 980.70h-5.98M59.76 907.44h-5.98M59.76 834.19h-5.98M59.76 760.94h-5.98" fill="none" stroke="#000" stroke-width="0.75"/>
<text transform="translate(45.36 1200.45) rotate(-90) scale(1 1.08)" font-size="10.4" text-anchor="middle">0.00</text>
<text transform="translate(45.36 1127.20) rotate(-90) scale(1 1.08)" font-size="10.4" text-anchor="middle">0.02</text>
<text transform="translate(45.36 1053.95) rotate(-90) scale(1 1.08)" font-size="10.4" text-anchor="middle">0.04</text>
<text transform="translate(45.36 980.70) rotate(-90) scale(1 1.08)" font-size="10.4" text-anchor="middle">0.06</text>
<text transform="translate(45.36 907.44) rotate(-90) scale(1 1.08)" font-size="10.4" text-anchor="middle">0.08</text>
<text transform="translate(45.36 834.19) rotate(-90) scale(1 1.08)" font-size="10.4" text-anchor="middle">0.10</text>
<text transform="translate(45.36 760.94) rotate(-90) scale(1 1.08)" font-size="10.4" text-anchor="middle">0.12</text>
<text x="325.98" y="1266.00" font-size="15.9" text-anchor="middle">Motif score</text>
<text transform="translate(21.50 954.02) rotate(-90)" font-size="15.9" text-anchor="middle">Density</text>
<text transform="translate(326.30 671.85) scale(1 1.05)" font-size="21.4" font-weight="bold" text-anchor="middle" textLength="297.8">Motif score threshold: 91.600</text>
<polygon points="718.6,1199.1 720.8,1198.7 723.1,1198.3 725.3,1197.7 727.6,1197.0 729.8,1196.1 732.1,1195.1 734.3,1193.8 736.6,1192.2 738.8,1190.4 741.1,1188.2 743.3,1185.6 745.6,1182.5 747.8,1178.9 750.1,1174.8 752.3,1170.0 754.6,1164.5 756.9,1158.2 759.1,1151.2 761.4,1143.2 763.6,1134.3 765.9,1124.4 768.1,1113.5 770.4,1101.6 772.6,1088.6 774.9,1074.6 777.1,1059.5 779.4,1043.5 781.6,1026.6 783.9,1008.9 786.1,990.4 788.4,971.3 790.6,951.7 792.9,931.8 795.2,911.8 797.4,891.8 799.7,872.1 801.9,852.7 804.2,834.0 806.4,816.0 808.7,799.0 810.9,783.1 813.2,768.5 815.4,755.3 817.7,743.6 819.9,733.5 822.2,725.0 824.4,718.2 826.7,712.9 828.9,709.3 831.2,707.2 833.5,706.6 835.7,707.4 838.0,709.4 840.2,712.5 842.5,716.7 844.7,721.6 847.0,727.3 849.2,733.6 851.5,740.2 853.7,747.2 856.0,754.4 858.2,761.7 860.5,769.0 862.7,776.2 865.0,783.3 867.2,790.2 869.5,796.9 871.8,803.3 874.0,809.4 876.3,815.2 878.5,820.8 880.8,826.1 883.0,831.2 885.3,836.0 887.5,840.5 889.8,844.8 892.0,849.0 894.3,852.9 896.5,856.6 898.8,860.2 901.0,863.6 903.3,866.8 905.5,869.8 907.8,872.7 910.1,875.4 912.3,877.9 914.6,880.3 916.8,882.5 919.1,884.5 921.3,886.4 923.6,888.1 925.8,889.6 928.1,891.0 930.3,892.2 932.6,893.4 934.8,894.4 937.1,895.4 939.3,896.3 941.6,897.2 943.8,898.1 946.1,899.0 948.4,899.9 950.6,900.9 952.9,901.9 955.1,903.0 957.4,904.3 959.6,905.6 961.9,907.1 964.1,908.8 966.4,910.6 968.6,912.5 970.9,914.7 973.1,917.0 975.4,919.5 977.6,922.2 979.9,925.0 982.1,928.0 984.4,931.1 986.7,934.4 988.9,937.8 991.2,941.3 993.4,944.8 995.7,948.4 997.9,952.0 1000.2,955.5 1002.4,959.0 1004.7,962.4 1006.9,965.6 1009.2,968.7 1011.4,971.6 1013.7,974.2 1015.9,976.6 1018.2,978.7 1020.4,980.6 1022.7,982.1 1025.0,983.4 1027.2,984.3 1029.5,985.0 1031.7,985.5 1034.0,985.6 1036.2,985.6 1038.5,985.3 1040.7,984.8 1043.0,984.2 1045.2,983.4 1047.5,982.5 1049.7,981.5 1052.0,980.4 1054.2,979.3 1056.5,978.2 1058.7,977.1 1061.0,976.1 1063.3,975.1 1065.5,974.3 1067.8,973.6 1070.0,973.0 1072.3,972.7 1074.5,972.7 1076.8,972.9 1079.0,973.4 1081.3,974.2 1083.5,975.4 1085.8,977.0 1088.0,978.9 1090.3,981.3 1092.5,984.1 1094.8,987.3 1097.0,991.0 1099.3,995.1 1101.6,999.6 1103.8,1004.5 1106.1,1009.7 1108.3,1015.4 1110.6,1021.4 1112.8,1027.6 1115.1,1034.2 1117.3,1041.0 1119.6,1047.9 1121.8,1055.1 1124.1,1062.3 1126.3,1069.7 1128.6,1077.0 1130.8,1084.4 1133.1,1091.7 1135.3,1098.9 1137.6,1106.0 1139.9,1112.9 1142.1,1119.7 1144.4,1126.2 1146.6,1132.4 1148.9,1138.4 1151.1,1144.2 1153.4,1149.6 1155.6,1154.7 1157.9,1159.4 1160.1,1163.9 1162.4,1168.0 1164.6,1171.8 1166.9,1175.2 1169.1,1178.4 1171.4,1181.2 1173.6,1183.8 1175.9,1186.1 1178.2,1188.1 1180.4,1189.9 1182.7,1191.5 1184.9,1192.9 1187.2,1194.1 1189.4,1195.1 1191.7,1196.0 1193.9,1196.8 1196.2,1197.4 1198.4,1198.0 1200.7,1198.4 1202.9,1198.8 1205.2,1199.1 1207.4,1199.4 1209.7,1199.6 1211.9,1199.8" fill="#f5deb3" stroke="#000" stroke-width="1.05" stroke-linejoin="round"/>
<path d="M927.94 1220.24V687.81M1002.56 1220.24V687.81" stroke="#006400" stroke-width="1.5" stroke-dasharray="6 6" stroke-linecap="round" fill="none" clip-path="url(#c4)"/>
<rect x="699.76" y="687.81" width="532.43" height="532.43" fill="none" stroke="#000" stroke-width="0.75"/>
<path d="M806.50 1220.24H1124.00M806.50 1220.24v5.98M965.25 1220.24v5.98M1124.00 1220.24v5.98" fill="none" stroke="#000" stroke-width="0.75"/>
<text transform="translate(805.70 1241.94) scale(1 1.08)" font-size="10.4" text-anchor="middle">-500</text>
<text transform="translate(964.45 1241.94) scale(1 1.08)" font-size="10.4" text-anchor="middle">0</text>
<text transform="translate(1123.20 1241.94) scale(1 1.08)" font-size="10.4" text-anchor="middle">500</text>
<path d="M699.76 716.70V1200.45M699.76 1200.45h-5.98M699.76 1131.34h-5.98M699.76 1062.24h-5.98M699.76 993.13h-5.98M699.76 924.02h-5.98M699.76 854.91h-5.98M699.76 785.81h-5.98M699.76 716.70h-5.98" fill="none" stroke="#000" stroke-width="0.75"/>
<text transform="translate(685.36 1200.45) rotate(-90) scale(1 1.08)" font-size="10.4" text-anchor="middle">0.0000</text>
<text transform="translate(685.36 1131.34) rotate(-90) scale(1 1.08)" font-size="10.4" text-anchor="middle">0.0002</text>
<text transform="translate(685.36 1062.24) rotate(-90) scale(1 1.08)" font-size="10.4" text-anchor="middle">0.0004</text>
<text transform="translate(685.36 993.13) rotate(-90) scale(1 1.08)" font-size="10.4" text-anchor="middle">0.0006</text>
<text transform="translate(685.36 924.02) rotate(-90) scale(1 1.08)" font-size="10.4" text-anchor="middle">0.0008</text>
<text transform="translate(685.36 854.91) rotate(-90) scale(1 1.08)" font-size="10.4" text-anchor="middle">0.0010</text>
<text transform="translate(685.36 785.81) rotate(-90) scale(1 1.08)" font-size="10.4" text-anchor="middle">0.0012</text>
<text transform="translate(685.36 716.70) rotate(-90) scale(1 1.08)" font-size="10.4" text-anchor="middle">0.0014</text>
<text x="965.98" y="1266.00" font-size="15.9" text-anchor="middle">Distance to peak summit</text>
<text transform="translate(661.50 954.02) rotate(-90)" font-size="15.9" text-anchor="middle">Density</text>
<text transform="translate(965.90 671.85) scale(1 1.05)" font-size="21.4" font-weight="bold" text-anchor="middle" textLength="252.2">Enrichment zone: 117.50</text>
<path d="M1017.8 703.4h23" stroke="#006400" stroke-width="1.125" stroke-dasharray="1.125 3.375" stroke-linecap="round" fill="none"/>
<path d="M1017.8 719.1h23" stroke="#cd0000" stroke-width="1.125" stroke-dasharray="1.125 3.375" stroke-linecap="round" fill="none"/>
<ellipse cx="1029.1" cy="734.6" rx="3.1" ry="2.7" fill="#0000ff"/>
<text x="1052.0" y="707.50" font-size="12.8">enrichment zone = 117.5</text>
<text x="1052.0" y="723.05" font-size="12.8">motif score threshold = 91.600</text>
<text x="1052.0" y="738.60" font-size="12.8">centrality p-val = NS</text>
</svg>
</body></html>
